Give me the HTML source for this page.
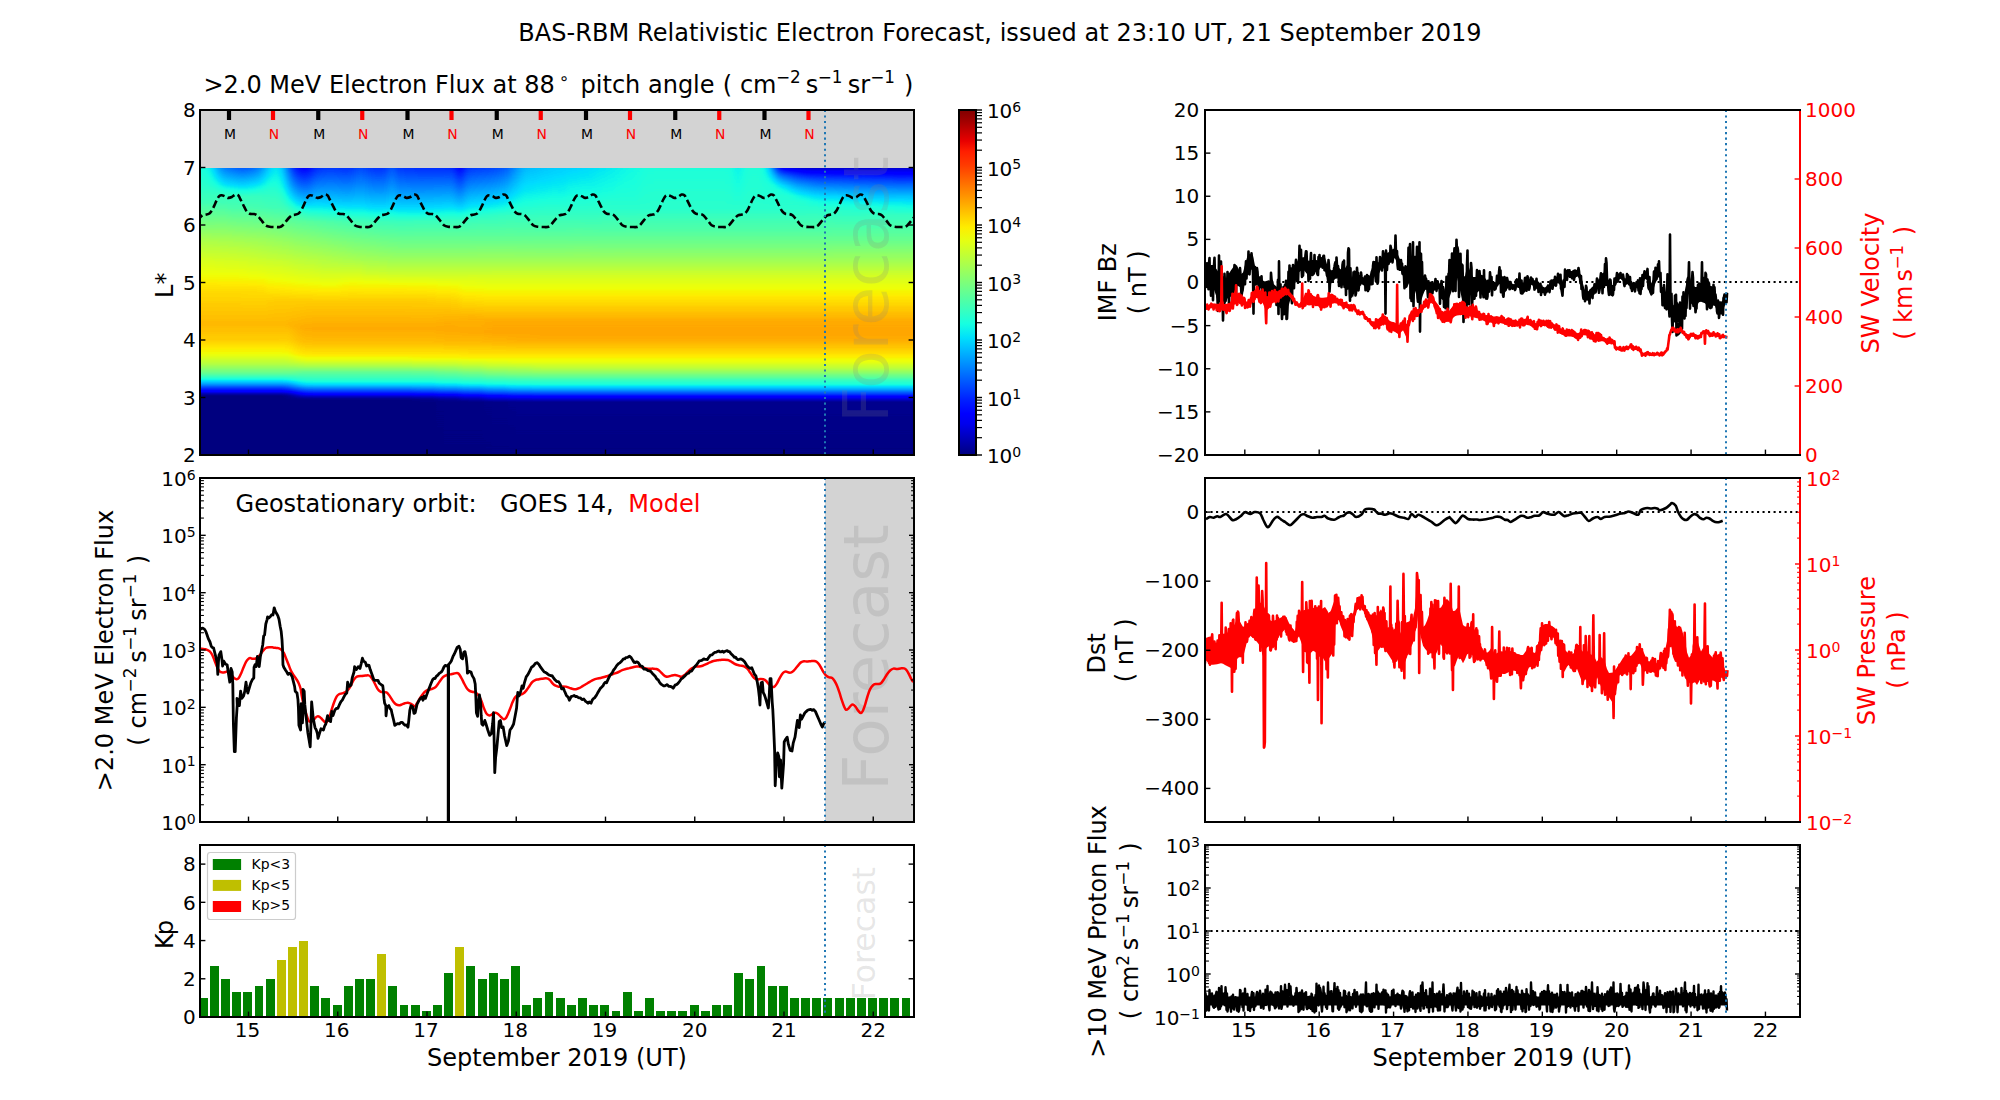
<!DOCTYPE html>
<html lang="en"><head><meta charset="utf-8"><title>BAS-RBM Relativistic Electron Forecast</title>
<style>html,body{margin:0;padding:0;background:#fff}body{width:2000px;height:1100px;overflow:hidden}svg{display:block}text{font-family:'DejaVu Sans', 'Liberation Sans', sans-serif}</style>
</head><body>
<svg width="2000" height="1100" viewBox="0 0 2000 1100">
<rect width="2000" height="1100" fill="#fff"/>
<text x="1000" y="41" font-size="24" text-anchor="middle" fill="#000" textLength="963.3">BAS-RBM Relativistic Electron Forecast, issued at 23:10 UT, 21 September 2019</text>
<rect x="200.0" y="110.0" width="714.0" height="345.0" fill="#d3d3d3"/>
<defs><filter id="jm" filterUnits="userSpaceOnUse" x="150" y="160" width="820" height="300" color-interpolation-filters="sRGB"><feGaussianBlur stdDeviation="3.5 0"/><feComponentTransfer><feFuncR type="table" tableValues="0 0 0 0 0 0 0 0 0 0 0 0 0 0 0 0 0 0 0 0 0 0 0 0 0 0 0 0 0 0 0 0 0 0 0 0 0.032 0.065 0.097 0.129 0.161 0.194 0.226 0.258 0.29 0.323 0.355 0.387 0.419 0.452 0.484 0.516 0.548 0.581 0.613 0.645 0.677 0.71 0.742 0.774 0.806 0.839 0.871 0.903 0.935 0.968 1 1 1 1 1 1 1 1 1 1 1 1 1 1 1 1 1 1 1 1 1 1 1 1 0.955 0.909 0.864 0.818 0.773 0.727 0.682 0.636 0.591 0.545 0.5"/><feFuncG type="table" tableValues="0 0 0 0 0 0 0 0 0 0 0 0 0 0.02 0.06 0.1 0.14 0.18 0.22 0.26 0.3 0.34 0.38 0.42 0.46 0.5 0.54 0.58 0.62 0.66 0.7 0.74 0.78 0.82 0.86 0.9 0.94 0.98 1 1 1 1 1 1 1 1 1 1 1 1 1 1 1 1 1 1 1 1 1 1 1 1 1 1 1 0.963 0.926 0.889 0.852 0.815 0.778 0.741 0.704 0.667 0.63 0.593 0.556 0.519 0.481 0.444 0.407 0.37 0.333 0.296 0.259 0.222 0.185 0.148 0.111 0.074 0.037 0 0 0 0 0 0 0 0 0 0"/><feFuncB type="table" tableValues="0.5 0.545 0.591 0.636 0.682 0.727 0.773 0.818 0.864 0.909 0.955 1 1 1 1 1 1 1 1 1 1 1 1 1 1 1 1 1 1 1 1 1 1 1 1 0.968 0.935 0.903 0.871 0.839 0.806 0.774 0.742 0.71 0.677 0.645 0.613 0.581 0.548 0.516 0.484 0.452 0.419 0.387 0.355 0.323 0.29 0.258 0.226 0.194 0.161 0.129 0.097 0.065 0.032 0 0 0 0 0 0 0 0 0 0 0 0 0 0 0 0 0 0 0 0 0 0 0 0 0 0 0 0 0 0 0 0 0 0 0 0"/></feComponentTransfer></filter><clipPath id="ca1"><rect x="200" y="168" width="714" height="287"/></clipPath></defs>
<g clip-path="url(#ca1)"><g filter="url(#jm)">
<linearGradient id="h1" x1="0" y1="0" x2="0" y2="1"><stop offset="0" stop-color="#616161"/><stop offset="0.25" stop-color="#686868"/><stop offset="0.375" stop-color="#6d6d6d"/><stop offset="0.583" stop-color="#7d7d7d"/><stop offset="0.771" stop-color="#8e8e8e"/><stop offset="1" stop-color="#9d9d9d"/></linearGradient>
<rect x="186" y="166" width="4.5" height="96" fill="url(#h1)"/>
<linearGradient id="h2" x1="0" y1="0" x2="0" y2="1"><stop offset="0" stop-color="#616161"/><stop offset="0.25" stop-color="#686868"/><stop offset="0.375" stop-color="#6d6d6d"/><stop offset="0.583" stop-color="#7d7d7d"/><stop offset="0.771" stop-color="#8e8e8e"/><stop offset="1" stop-color="#9d9d9d"/></linearGradient>
<rect x="190" y="166" width="4.5" height="96" fill="url(#h2)"/>
<linearGradient id="h3" x1="0" y1="0" x2="0" y2="1"><stop offset="0" stop-color="#616161"/><stop offset="0.25" stop-color="#686868"/><stop offset="0.375" stop-color="#6d6d6d"/><stop offset="0.583" stop-color="#7d7d7d"/><stop offset="0.771" stop-color="#8e8e8e"/><stop offset="1" stop-color="#9d9d9d"/></linearGradient>
<rect x="194" y="166" width="4.5" height="96" fill="url(#h3)"/>
<linearGradient id="h4" x1="0" y1="0" x2="0" y2="1"><stop offset="0" stop-color="#616161"/><stop offset="0.25" stop-color="#686868"/><stop offset="0.375" stop-color="#6d6d6d"/><stop offset="0.583" stop-color="#7d7d7d"/><stop offset="0.771" stop-color="#8e8e8e"/><stop offset="1" stop-color="#9d9d9d"/></linearGradient>
<rect x="198" y="166" width="4.5" height="96" fill="url(#h4)"/>
<linearGradient id="h5" x1="0" y1="0" x2="0" y2="1"><stop offset="0" stop-color="#606060"/><stop offset="0.375" stop-color="#6d6d6d"/><stop offset="0.583" stop-color="#7d7d7d"/><stop offset="0.771" stop-color="#8e8e8e"/><stop offset="1" stop-color="#9d9d9d"/></linearGradient>
<rect x="202" y="166" width="4.5" height="96" fill="url(#h5)"/>
<linearGradient id="h6" x1="0" y1="0" x2="0" y2="1"><stop offset="0" stop-color="#5f5f5f"/><stop offset="0.198" stop-color="#656565"/><stop offset="0.312" stop-color="#6b6b6b"/><stop offset="0.375" stop-color="#6d6d6d"/><stop offset="0.667" stop-color="#848484"/><stop offset="0.771" stop-color="#8e8e8e"/><stop offset="1" stop-color="#9d9d9d"/></linearGradient>
<rect x="206" y="166" width="4.5" height="96" fill="url(#h6)"/>
<linearGradient id="h7" x1="0" y1="0" x2="0" y2="1"><stop offset="0" stop-color="#595959"/><stop offset="0.021" stop-color="#595959"/><stop offset="0.25" stop-color="#686868"/><stop offset="0.375" stop-color="#6d6d6d"/><stop offset="0.667" stop-color="#848484"/><stop offset="0.771" stop-color="#8e8e8e"/><stop offset="1" stop-color="#9d9d9d"/></linearGradient>
<rect x="210" y="166" width="4.5" height="96" fill="url(#h7)"/>
<linearGradient id="h8" x1="0" y1="0" x2="0" y2="1"><stop offset="0" stop-color="#4f4f4f"/><stop offset="0.021" stop-color="#4f4f4f"/><stop offset="0.25" stop-color="#676767"/><stop offset="0.312" stop-color="#6b6b6b"/><stop offset="0.375" stop-color="#6d6d6d"/><stop offset="0.667" stop-color="#848484"/><stop offset="0.771" stop-color="#8e8e8e"/><stop offset="1" stop-color="#9c9c9c"/></linearGradient>
<rect x="214" y="166" width="4.5" height="96" fill="url(#h8)"/>
<linearGradient id="h9" x1="0" y1="0" x2="0" y2="1"><stop offset="0" stop-color="#454545"/><stop offset="0.021" stop-color="#454545"/><stop offset="0.25" stop-color="#656565"/><stop offset="0.312" stop-color="#6b6b6b"/><stop offset="0.375" stop-color="#6d6d6d"/><stop offset="0.875" stop-color="#959595"/><stop offset="1" stop-color="#9c9c9c"/></linearGradient>
<rect x="218" y="166" width="4.5" height="96" fill="url(#h9)"/>
<linearGradient id="h10" x1="0" y1="0" x2="0" y2="1"><stop offset="0" stop-color="#3f3f3f"/><stop offset="0.021" stop-color="#3f3f3f"/><stop offset="0.198" stop-color="#595959"/><stop offset="0.25" stop-color="#626262"/><stop offset="0.312" stop-color="#6b6b6b"/><stop offset="0.375" stop-color="#6d6d6d"/><stop offset="0.771" stop-color="#8d8d8d"/><stop offset="1" stop-color="#9c9c9c"/></linearGradient>
<rect x="222" y="166" width="4.5" height="96" fill="url(#h10)"/>
<linearGradient id="h11" x1="0" y1="0" x2="0" y2="1"><stop offset="0" stop-color="#3d3d3d"/><stop offset="0.021" stop-color="#3d3d3d"/><stop offset="0.198" stop-color="#585858"/><stop offset="0.25" stop-color="#626262"/><stop offset="0.312" stop-color="#6a6a6a"/><stop offset="0.438" stop-color="#717171"/><stop offset="0.771" stop-color="#8d8d8d"/><stop offset="1" stop-color="#9c9c9c"/></linearGradient>
<rect x="226" y="166" width="4.5" height="96" fill="url(#h11)"/>
<linearGradient id="h12" x1="0" y1="0" x2="0" y2="1"><stop offset="0" stop-color="#3b3b3b"/><stop offset="0.021" stop-color="#3b3b3b"/><stop offset="0.198" stop-color="#575757"/><stop offset="0.25" stop-color="#616161"/><stop offset="0.312" stop-color="#6a6a6a"/><stop offset="0.438" stop-color="#707070"/><stop offset="0.667" stop-color="#838383"/><stop offset="0.771" stop-color="#8d8d8d"/><stop offset="1" stop-color="#9c9c9c"/></linearGradient>
<rect x="230" y="166" width="4.5" height="96" fill="url(#h12)"/>
<linearGradient id="h13" x1="0" y1="0" x2="0" y2="1"><stop offset="0" stop-color="#393939"/><stop offset="0.021" stop-color="#393939"/><stop offset="0.198" stop-color="#565656"/><stop offset="0.25" stop-color="#606060"/><stop offset="0.312" stop-color="#6a6a6a"/><stop offset="0.438" stop-color="#707070"/><stop offset="0.875" stop-color="#949494"/><stop offset="1" stop-color="#9b9b9b"/></linearGradient>
<rect x="234" y="166" width="4.5" height="96" fill="url(#h13)"/>
<linearGradient id="h14" x1="0" y1="0" x2="0" y2="1"><stop offset="0" stop-color="#373737"/><stop offset="0.021" stop-color="#373737"/><stop offset="0.198" stop-color="#555555"/><stop offset="0.312" stop-color="#6a6a6a"/><stop offset="0.438" stop-color="#707070"/><stop offset="0.771" stop-color="#8c8c8c"/><stop offset="1" stop-color="#9b9b9b"/></linearGradient>
<rect x="238" y="166" width="4.5" height="96" fill="url(#h14)"/>
<linearGradient id="h15" x1="0" y1="0" x2="0" y2="1"><stop offset="0" stop-color="#363636"/><stop offset="0.021" stop-color="#363636"/><stop offset="0.146" stop-color="#4c4c4c"/><stop offset="0.198" stop-color="#545454"/><stop offset="0.312" stop-color="#6a6a6a"/><stop offset="0.375" stop-color="#6c6c6c"/><stop offset="0.583" stop-color="#7b7b7b"/><stop offset="0.771" stop-color="#8c8c8c"/><stop offset="1" stop-color="#9b9b9b"/></linearGradient>
<rect x="242" y="166" width="4.5" height="96" fill="url(#h15)"/>
<linearGradient id="h16" x1="0" y1="0" x2="0" y2="1"><stop offset="0" stop-color="#383838"/><stop offset="0.021" stop-color="#383838"/><stop offset="0.312" stop-color="#6a6a6a"/><stop offset="0.375" stop-color="#6c6c6c"/><stop offset="0.667" stop-color="#828282"/><stop offset="0.875" stop-color="#939393"/><stop offset="1" stop-color="#9b9b9b"/></linearGradient>
<rect x="246" y="166" width="4.5" height="96" fill="url(#h16)"/>
<linearGradient id="h17" x1="0" y1="0" x2="0" y2="1"><stop offset="0" stop-color="#3a3a3a"/><stop offset="0.021" stop-color="#3a3a3a"/><stop offset="0.312" stop-color="#6a6a6a"/><stop offset="0.438" stop-color="#6f6f6f"/><stop offset="0.771" stop-color="#8b8b8b"/><stop offset="1" stop-color="#9a9a9a"/></linearGradient>
<rect x="250" y="166" width="4.5" height="96" fill="url(#h17)"/>
<linearGradient id="h18" x1="0" y1="0" x2="0" y2="1"><stop offset="0" stop-color="#3c3c3c"/><stop offset="0.021" stop-color="#3c3c3c"/><stop offset="0.25" stop-color="#616161"/><stop offset="0.312" stop-color="#6a6a6a"/><stop offset="0.438" stop-color="#6f6f6f"/><stop offset="0.667" stop-color="#818181"/><stop offset="0.771" stop-color="#8b8b8b"/><stop offset="1" stop-color="#9a9a9a"/></linearGradient>
<rect x="254" y="166" width="4.5" height="96" fill="url(#h18)"/>
<linearGradient id="h19" x1="0" y1="0" x2="0" y2="1"><stop offset="0" stop-color="#414141"/><stop offset="0.021" stop-color="#414141"/><stop offset="0.198" stop-color="#5a5a5a"/><stop offset="0.25" stop-color="#636363"/><stop offset="0.312" stop-color="#6a6a6a"/><stop offset="0.438" stop-color="#6f6f6f"/><stop offset="0.771" stop-color="#8a8a8a"/><stop offset="1" stop-color="#9a9a9a"/></linearGradient>
<rect x="258" y="166" width="4.5" height="96" fill="url(#h19)"/>
<linearGradient id="h20" x1="0" y1="0" x2="0" y2="1"><stop offset="0" stop-color="#494949"/><stop offset="0.021" stop-color="#494949"/><stop offset="0.25" stop-color="#646464"/><stop offset="0.312" stop-color="#696969"/><stop offset="0.438" stop-color="#6f6f6f"/><stop offset="0.771" stop-color="#8a8a8a"/><stop offset="1" stop-color="#999999"/></linearGradient>
<rect x="262" y="166" width="4.5" height="96" fill="url(#h20)"/>
<linearGradient id="h21" x1="0" y1="0" x2="0" y2="1"><stop offset="0" stop-color="#525252"/><stop offset="0.021" stop-color="#525252"/><stop offset="0.25" stop-color="#666666"/><stop offset="0.438" stop-color="#6e6e6e"/><stop offset="0.771" stop-color="#898989"/><stop offset="1" stop-color="#999999"/></linearGradient>
<rect x="266" y="166" width="4.5" height="96" fill="url(#h21)"/>
<linearGradient id="h22" x1="0" y1="0" x2="0" y2="1"><stop offset="0" stop-color="#575757"/><stop offset="0.062" stop-color="#595959"/><stop offset="0.25" stop-color="#666666"/><stop offset="0.438" stop-color="#6e6e6e"/><stop offset="0.771" stop-color="#898989"/><stop offset="1" stop-color="#989898"/></linearGradient>
<rect x="270" y="166" width="4.5" height="96" fill="url(#h22)"/>
<linearGradient id="h23" x1="0" y1="0" x2="0" y2="1"><stop offset="0" stop-color="#5c5c5c"/><stop offset="0.198" stop-color="#636363"/><stop offset="0.312" stop-color="#696969"/><stop offset="0.438" stop-color="#6e6e6e"/><stop offset="0.583" stop-color="#787878"/><stop offset="0.771" stop-color="#888888"/><stop offset="1" stop-color="#989898"/></linearGradient>
<rect x="274" y="166" width="4.5" height="96" fill="url(#h23)"/>
<linearGradient id="h24" x1="0" y1="0" x2="0" y2="1"><stop offset="0" stop-color="#575757"/><stop offset="0.021" stop-color="#575757"/><stop offset="0.198" stop-color="#606060"/><stop offset="0.312" stop-color="#686868"/><stop offset="0.438" stop-color="#6d6d6d"/><stop offset="0.771" stop-color="#888888"/><stop offset="1" stop-color="#989898"/></linearGradient>
<rect x="278" y="166" width="4.5" height="96" fill="url(#h24)"/>
<linearGradient id="h25" x1="0" y1="0" x2="0" y2="1"><stop offset="0" stop-color="#4f4f4f"/><stop offset="0.021" stop-color="#4f4f4f"/><stop offset="0.667" stop-color="#7e7e7e"/><stop offset="0.771" stop-color="#878787"/><stop offset="1" stop-color="#979797"/></linearGradient>
<rect x="282" y="166" width="4.5" height="96" fill="url(#h25)"/>
<linearGradient id="h26" x1="0" y1="0" x2="0" y2="1"><stop offset="0" stop-color="#3c3c3c"/><stop offset="0.021" stop-color="#3c3c3c"/><stop offset="0.375" stop-color="#636363"/><stop offset="0.438" stop-color="#6b6b6b"/><stop offset="0.51" stop-color="#727272"/><stop offset="0.771" stop-color="#878787"/><stop offset="1" stop-color="#979797"/></linearGradient>
<rect x="286" y="166" width="4.5" height="96" fill="url(#h26)"/>
<linearGradient id="h27" x1="0" y1="0" x2="0" y2="1"><stop offset="0" stop-color="#2e2e2e"/><stop offset="0.021" stop-color="#2e2e2e"/><stop offset="0.198" stop-color="#444444"/><stop offset="0.51" stop-color="#717171"/><stop offset="0.771" stop-color="#868686"/><stop offset="1" stop-color="#969696"/></linearGradient>
<rect x="290" y="166" width="4.5" height="96" fill="url(#h27)"/>
<linearGradient id="h28" x1="0" y1="0" x2="0" y2="1"><stop offset="0" stop-color="#252525"/><stop offset="0.021" stop-color="#252525"/><stop offset="0.312" stop-color="#4e4e4e"/><stop offset="0.438" stop-color="#626262"/><stop offset="0.51" stop-color="#707070"/><stop offset="1" stop-color="#969696"/></linearGradient>
<rect x="294" y="166" width="4.5" height="96" fill="url(#h28)"/>
<linearGradient id="h29" x1="0" y1="0" x2="0" y2="1"><stop offset="0" stop-color="#1f1f1f"/><stop offset="0.021" stop-color="#1f1f1f"/><stop offset="0.375" stop-color="#535353"/><stop offset="0.51" stop-color="#6c6c6c"/><stop offset="0.583" stop-color="#767676"/><stop offset="0.771" stop-color="#858585"/><stop offset="1" stop-color="#959595"/></linearGradient>
<rect x="298" y="166" width="4.5" height="96" fill="url(#h29)"/>
<linearGradient id="h30" x1="0" y1="0" x2="0" y2="1"><stop offset="0" stop-color="#1f1f1f"/><stop offset="0.021" stop-color="#1f1f1f"/><stop offset="0.25" stop-color="#3f3f3f"/><stop offset="0.375" stop-color="#525252"/><stop offset="0.51" stop-color="#6b6b6b"/><stop offset="0.583" stop-color="#757575"/><stop offset="1" stop-color="#959595"/></linearGradient>
<rect x="302" y="166" width="4.5" height="96" fill="url(#h30)"/>
<linearGradient id="h31" x1="0" y1="0" x2="0" y2="1"><stop offset="0" stop-color="#1f1f1f"/><stop offset="0.021" stop-color="#1f1f1f"/><stop offset="0.375" stop-color="#515151"/><stop offset="0.438" stop-color="#5b5b5b"/><stop offset="0.51" stop-color="#696969"/><stop offset="0.583" stop-color="#757575"/><stop offset="0.771" stop-color="#848484"/><stop offset="1" stop-color="#949494"/></linearGradient>
<rect x="306" y="166" width="4.5" height="96" fill="url(#h31)"/>
<linearGradient id="h32" x1="0" y1="0" x2="0" y2="1"><stop offset="0" stop-color="#252525"/><stop offset="0.021" stop-color="#252525"/><stop offset="0.312" stop-color="#4a4a4a"/><stop offset="0.438" stop-color="#5c5c5c"/><stop offset="0.583" stop-color="#747474"/><stop offset="1" stop-color="#949494"/></linearGradient>
<rect x="310" y="166" width="4.5" height="96" fill="url(#h32)"/>
<linearGradient id="h33" x1="0" y1="0" x2="0" y2="1"><stop offset="0" stop-color="#2b2b2b"/><stop offset="0.021" stop-color="#2b2b2b"/><stop offset="0.438" stop-color="#5c5c5c"/><stop offset="0.583" stop-color="#747474"/><stop offset="0.771" stop-color="#838383"/><stop offset="1" stop-color="#949494"/></linearGradient>
<rect x="314" y="166" width="4.5" height="96" fill="url(#h33)"/>
<linearGradient id="h34" x1="0" y1="0" x2="0" y2="1"><stop offset="0" stop-color="#2c2c2c"/><stop offset="0.021" stop-color="#2c2c2c"/><stop offset="0.312" stop-color="#4c4c4c"/><stop offset="0.438" stop-color="#5c5c5c"/><stop offset="0.583" stop-color="#737373"/><stop offset="1" stop-color="#939393"/></linearGradient>
<rect x="318" y="166" width="4.5" height="96" fill="url(#h34)"/>
<linearGradient id="h35" x1="0" y1="0" x2="0" y2="1"><stop offset="0" stop-color="#2d2d2d"/><stop offset="0.021" stop-color="#2d2d2d"/><stop offset="0.312" stop-color="#4c4c4c"/><stop offset="0.438" stop-color="#5b5b5b"/><stop offset="0.583" stop-color="#727272"/><stop offset="0.771" stop-color="#828282"/><stop offset="1" stop-color="#939393"/></linearGradient>
<rect x="322" y="166" width="4.5" height="96" fill="url(#h35)"/>
<linearGradient id="h36" x1="0" y1="0" x2="0" y2="1"><stop offset="0" stop-color="#2e2e2e"/><stop offset="0.021" stop-color="#2e2e2e"/><stop offset="0.375" stop-color="#535353"/><stop offset="0.51" stop-color="#666666"/><stop offset="0.583" stop-color="#727272"/><stop offset="0.771" stop-color="#818181"/><stop offset="1" stop-color="#929292"/></linearGradient>
<rect x="326" y="166" width="4.5" height="96" fill="url(#h36)"/>
<linearGradient id="h37" x1="0" y1="0" x2="0" y2="1"><stop offset="0" stop-color="#2e2e2e"/><stop offset="0.021" stop-color="#2e2e2e"/><stop offset="0.438" stop-color="#5a5a5a"/><stop offset="0.583" stop-color="#717171"/><stop offset="1" stop-color="#929292"/></linearGradient>
<rect x="330" y="166" width="4.5" height="96" fill="url(#h37)"/>
<linearGradient id="h38" x1="0" y1="0" x2="0" y2="1"><stop offset="0" stop-color="#2d2d2d"/><stop offset="0.021" stop-color="#2d2d2d"/><stop offset="0.438" stop-color="#5a5a5a"/><stop offset="0.583" stop-color="#717171"/><stop offset="0.771" stop-color="#808080"/><stop offset="1" stop-color="#919191"/></linearGradient>
<rect x="334" y="166" width="4.5" height="96" fill="url(#h38)"/>
<linearGradient id="h39" x1="0" y1="0" x2="0" y2="1"><stop offset="0" stop-color="#2d2d2d"/><stop offset="0.021" stop-color="#2d2d2d"/><stop offset="0.375" stop-color="#525252"/><stop offset="0.51" stop-color="#646464"/><stop offset="0.583" stop-color="#707070"/><stop offset="1" stop-color="#919191"/></linearGradient>
<rect x="338" y="166" width="4.5" height="96" fill="url(#h39)"/>
<linearGradient id="h40" x1="0" y1="0" x2="0" y2="1"><stop offset="0" stop-color="#2c2c2c"/><stop offset="0.021" stop-color="#2c2c2c"/><stop offset="0.438" stop-color="#595959"/><stop offset="0.583" stop-color="#707070"/><stop offset="0.771" stop-color="#7f7f7f"/><stop offset="1" stop-color="#909090"/></linearGradient>
<rect x="342" y="166" width="4.5" height="96" fill="url(#h40)"/>
<linearGradient id="h41" x1="0" y1="0" x2="0" y2="1"><stop offset="0" stop-color="#2c2c2c"/><stop offset="0.021" stop-color="#2c2c2c"/><stop offset="0.375" stop-color="#515151"/><stop offset="0.583" stop-color="#6f6f6f"/><stop offset="1" stop-color="#909090"/></linearGradient>
<rect x="346" y="166" width="4.5" height="96" fill="url(#h41)"/>
<linearGradient id="h42" x1="0" y1="0" x2="0" y2="1"><stop offset="0" stop-color="#2d2d2d"/><stop offset="0.021" stop-color="#2d2d2d"/><stop offset="0.438" stop-color="#595959"/><stop offset="0.51" stop-color="#636363"/><stop offset="0.583" stop-color="#6f6f6f"/><stop offset="0.771" stop-color="#7e7e7e"/><stop offset="0.875" stop-color="#858585"/><stop offset="1" stop-color="#909090"/></linearGradient>
<rect x="350" y="166" width="4.5" height="96" fill="url(#h42)"/>
<linearGradient id="h43" x1="0" y1="0" x2="0" y2="1"><stop offset="0" stop-color="#303030"/><stop offset="0.021" stop-color="#303030"/><stop offset="0.312" stop-color="#4c4c4c"/><stop offset="0.438" stop-color="#595959"/><stop offset="0.583" stop-color="#6e6e6e"/><stop offset="1" stop-color="#8f8f8f"/></linearGradient>
<rect x="354" y="166" width="4.5" height="96" fill="url(#h43)"/>
<linearGradient id="h44" x1="0" y1="0" x2="0" y2="1"><stop offset="0" stop-color="#333333"/><stop offset="0.021" stop-color="#333333"/><stop offset="0.375" stop-color="#535353"/><stop offset="0.438" stop-color="#5a5a5a"/><stop offset="0.583" stop-color="#6e6e6e"/><stop offset="0.771" stop-color="#7d7d7d"/><stop offset="0.875" stop-color="#848484"/><stop offset="1" stop-color="#8f8f8f"/></linearGradient>
<rect x="358" y="166" width="4.5" height="96" fill="url(#h44)"/>
<linearGradient id="h45" x1="0" y1="0" x2="0" y2="1"><stop offset="0" stop-color="#313131"/><stop offset="0.021" stop-color="#313131"/><stop offset="0.375" stop-color="#525252"/><stop offset="0.438" stop-color="#595959"/><stop offset="0.583" stop-color="#6e6e6e"/><stop offset="1" stop-color="#8e8e8e"/></linearGradient>
<rect x="362" y="166" width="4.5" height="96" fill="url(#h45)"/>
<linearGradient id="h46" x1="0" y1="0" x2="0" y2="1"><stop offset="0" stop-color="#2f2f2f"/><stop offset="0.021" stop-color="#2f2f2f"/><stop offset="0.312" stop-color="#4b4b4b"/><stop offset="0.438" stop-color="#585858"/><stop offset="0.583" stop-color="#6d6d6d"/><stop offset="1" stop-color="#8e8e8e"/></linearGradient>
<rect x="366" y="166" width="4.5" height="96" fill="url(#h46)"/>
<linearGradient id="h47" x1="0" y1="0" x2="0" y2="1"><stop offset="0" stop-color="#2d2d2d"/><stop offset="0.021" stop-color="#2d2d2d"/><stop offset="0.438" stop-color="#575757"/><stop offset="0.583" stop-color="#6d6d6d"/><stop offset="0.771" stop-color="#7c7c7c"/><stop offset="0.875" stop-color="#838383"/><stop offset="1" stop-color="#8e8e8e"/></linearGradient>
<rect x="370" y="166" width="4.5" height="96" fill="url(#h47)"/>
<linearGradient id="h48" x1="0" y1="0" x2="0" y2="1"><stop offset="0" stop-color="#2c2c2c"/><stop offset="0.021" stop-color="#2c2c2c"/><stop offset="0.438" stop-color="#575757"/><stop offset="0.51" stop-color="#616161"/><stop offset="0.583" stop-color="#6d6d6d"/><stop offset="1" stop-color="#8d8d8d"/></linearGradient>
<rect x="374" y="166" width="4.5" height="96" fill="url(#h48)"/>
<linearGradient id="h49" x1="0" y1="0" x2="0" y2="1"><stop offset="0" stop-color="#2c2c2c"/><stop offset="0.021" stop-color="#2c2c2c"/><stop offset="0.438" stop-color="#575757"/><stop offset="0.583" stop-color="#6c6c6c"/><stop offset="1" stop-color="#8d8d8d"/></linearGradient>
<rect x="378" y="166" width="4.5" height="96" fill="url(#h49)"/>
<linearGradient id="h50" x1="0" y1="0" x2="0" y2="1"><stop offset="0" stop-color="#2d2d2d"/><stop offset="0.021" stop-color="#2d2d2d"/><stop offset="0.438" stop-color="#575757"/><stop offset="0.583" stop-color="#6c6c6c"/><stop offset="0.771" stop-color="#7b7b7b"/><stop offset="0.875" stop-color="#828282"/><stop offset="1" stop-color="#8d8d8d"/></linearGradient>
<rect x="382" y="166" width="4.5" height="96" fill="url(#h50)"/>
<linearGradient id="h51" x1="0" y1="0" x2="0" y2="1"><stop offset="0" stop-color="#2e2e2e"/><stop offset="0.021" stop-color="#2e2e2e"/><stop offset="0.25" stop-color="#434343"/><stop offset="0.438" stop-color="#575757"/><stop offset="0.583" stop-color="#6c6c6c"/><stop offset="0.875" stop-color="#828282"/><stop offset="1" stop-color="#8d8d8d"/></linearGradient>
<rect x="386" y="166" width="4.5" height="96" fill="url(#h51)"/>
<linearGradient id="h52" x1="0" y1="0" x2="0" y2="1"><stop offset="0" stop-color="#3c3c3c"/><stop offset="0.021" stop-color="#3c3c3c"/><stop offset="0.438" stop-color="#5a5a5a"/><stop offset="0.583" stop-color="#6c6c6c"/><stop offset="1" stop-color="#8c8c8c"/></linearGradient>
<rect x="390" y="166" width="4.5" height="96" fill="url(#h52)"/>
<linearGradient id="h53" x1="0" y1="0" x2="0" y2="1"><stop offset="0" stop-color="#2e2e2e"/><stop offset="0.021" stop-color="#2e2e2e"/><stop offset="0.25" stop-color="#434343"/><stop offset="0.438" stop-color="#565656"/><stop offset="0.51" stop-color="#606060"/><stop offset="0.583" stop-color="#6c6c6c"/><stop offset="0.875" stop-color="#818181"/><stop offset="1" stop-color="#8c8c8c"/></linearGradient>
<rect x="394" y="166" width="4.5" height="96" fill="url(#h53)"/>
<linearGradient id="h54" x1="0" y1="0" x2="0" y2="1"><stop offset="0" stop-color="#2d2d2d"/><stop offset="0.021" stop-color="#2d2d2d"/><stop offset="0.438" stop-color="#565656"/><stop offset="0.583" stop-color="#6b6b6b"/><stop offset="0.771" stop-color="#7a7a7a"/><stop offset="0.875" stop-color="#818181"/><stop offset="1" stop-color="#8c8c8c"/></linearGradient>
<rect x="398" y="166" width="4.5" height="96" fill="url(#h54)"/>
<linearGradient id="h55" x1="0" y1="0" x2="0" y2="1"><stop offset="0" stop-color="#2d2d2d"/><stop offset="0.021" stop-color="#2d2d2d"/><stop offset="0.312" stop-color="#494949"/><stop offset="0.438" stop-color="#565656"/><stop offset="0.583" stop-color="#6b6b6b"/><stop offset="0.875" stop-color="#818181"/><stop offset="1" stop-color="#8c8c8c"/></linearGradient>
<rect x="402" y="166" width="4.5" height="96" fill="url(#h55)"/>
<linearGradient id="h56" x1="0" y1="0" x2="0" y2="1"><stop offset="0" stop-color="#2d2d2d"/><stop offset="0.021" stop-color="#2d2d2d"/><stop offset="0.312" stop-color="#494949"/><stop offset="0.438" stop-color="#565656"/><stop offset="0.51" stop-color="#606060"/><stop offset="0.583" stop-color="#6c6c6c"/><stop offset="0.875" stop-color="#818181"/><stop offset="1" stop-color="#8c8c8c"/></linearGradient>
<rect x="406" y="166" width="4.5" height="96" fill="url(#h56)"/>
<linearGradient id="h57" x1="0" y1="0" x2="0" y2="1"><stop offset="0" stop-color="#2c2c2c"/><stop offset="0.021" stop-color="#2c2c2c"/><stop offset="0.438" stop-color="#565656"/><stop offset="0.51" stop-color="#606060"/><stop offset="0.583" stop-color="#6c6c6c"/><stop offset="0.875" stop-color="#818181"/><stop offset="1" stop-color="#8c8c8c"/></linearGradient>
<rect x="410" y="166" width="4.5" height="96" fill="url(#h57)"/>
<linearGradient id="h58" x1="0" y1="0" x2="0" y2="1"><stop offset="0" stop-color="#2c2c2c"/><stop offset="0.021" stop-color="#2c2c2c"/><stop offset="0.438" stop-color="#565656"/><stop offset="0.51" stop-color="#606060"/><stop offset="0.583" stop-color="#6c6c6c"/><stop offset="0.875" stop-color="#818181"/><stop offset="1" stop-color="#8c8c8c"/></linearGradient>
<rect x="414" y="166" width="4.5" height="96" fill="url(#h58)"/>
<linearGradient id="h59" x1="0" y1="0" x2="0" y2="1"><stop offset="0" stop-color="#2b2b2b"/><stop offset="0.021" stop-color="#2b2b2b"/><stop offset="0.438" stop-color="#565656"/><stop offset="0.51" stop-color="#606060"/><stop offset="0.583" stop-color="#6c6c6c"/><stop offset="0.875" stop-color="#818181"/><stop offset="1" stop-color="#8c8c8c"/></linearGradient>
<rect x="418" y="166" width="4.5" height="96" fill="url(#h59)"/>
<linearGradient id="h60" x1="0" y1="0" x2="0" y2="1"><stop offset="0" stop-color="#2b2b2b"/><stop offset="0.021" stop-color="#2b2b2b"/><stop offset="0.438" stop-color="#565656"/><stop offset="0.583" stop-color="#6c6c6c"/><stop offset="0.875" stop-color="#818181"/><stop offset="1" stop-color="#8c8c8c"/></linearGradient>
<rect x="422" y="166" width="4.5" height="96" fill="url(#h60)"/>
<linearGradient id="h61" x1="0" y1="0" x2="0" y2="1"><stop offset="0" stop-color="#2b2b2b"/><stop offset="0.021" stop-color="#2b2b2b"/><stop offset="0.438" stop-color="#575757"/><stop offset="0.583" stop-color="#6c6c6c"/><stop offset="0.875" stop-color="#818181"/><stop offset="1" stop-color="#8c8c8c"/></linearGradient>
<rect x="426" y="166" width="4.5" height="96" fill="url(#h61)"/>
<linearGradient id="h62" x1="0" y1="0" x2="0" y2="1"><stop offset="0" stop-color="#2b2b2b"/><stop offset="0.021" stop-color="#2b2b2b"/><stop offset="0.438" stop-color="#575757"/><stop offset="0.583" stop-color="#6c6c6c"/><stop offset="0.875" stop-color="#818181"/><stop offset="1" stop-color="#8c8c8c"/></linearGradient>
<rect x="430" y="166" width="4.5" height="96" fill="url(#h62)"/>
<linearGradient id="h63" x1="0" y1="0" x2="0" y2="1"><stop offset="0" stop-color="#2b2b2b"/><stop offset="0.021" stop-color="#2b2b2b"/><stop offset="0.438" stop-color="#575757"/><stop offset="0.583" stop-color="#6c6c6c"/><stop offset="0.875" stop-color="#818181"/><stop offset="1" stop-color="#8c8c8c"/></linearGradient>
<rect x="434" y="166" width="4.5" height="96" fill="url(#h63)"/>
<linearGradient id="h64" x1="0" y1="0" x2="0" y2="1"><stop offset="0" stop-color="#2b2b2b"/><stop offset="0.021" stop-color="#2b2b2b"/><stop offset="0.438" stop-color="#575757"/><stop offset="0.583" stop-color="#6c6c6c"/><stop offset="0.875" stop-color="#818181"/><stop offset="1" stop-color="#8c8c8c"/></linearGradient>
<rect x="438" y="166" width="4.5" height="96" fill="url(#h64)"/>
<linearGradient id="h65" x1="0" y1="0" x2="0" y2="1"><stop offset="0" stop-color="#2b2b2b"/><stop offset="0.021" stop-color="#2b2b2b"/><stop offset="0.438" stop-color="#585858"/><stop offset="0.583" stop-color="#6c6c6c"/><stop offset="0.875" stop-color="#818181"/><stop offset="1" stop-color="#8c8c8c"/></linearGradient>
<rect x="442" y="166" width="4.5" height="96" fill="url(#h65)"/>
<linearGradient id="h66" x1="0" y1="0" x2="0" y2="1"><stop offset="0" stop-color="#2b2b2b"/><stop offset="0.021" stop-color="#2b2b2b"/><stop offset="0.438" stop-color="#585858"/><stop offset="0.51" stop-color="#636363"/><stop offset="0.583" stop-color="#6c6c6c"/><stop offset="0.875" stop-color="#818181"/><stop offset="1" stop-color="#8c8c8c"/></linearGradient>
<rect x="446" y="166" width="4.5" height="96" fill="url(#h66)"/>
<linearGradient id="h67" x1="0" y1="0" x2="0" y2="1"><stop offset="0" stop-color="#2b2b2b"/><stop offset="0.021" stop-color="#2b2b2b"/><stop offset="0.438" stop-color="#585858"/><stop offset="0.51" stop-color="#636363"/><stop offset="0.583" stop-color="#6c6c6c"/><stop offset="0.875" stop-color="#818181"/><stop offset="1" stop-color="#8c8c8c"/></linearGradient>
<rect x="450" y="166" width="4.5" height="96" fill="url(#h67)"/>
<linearGradient id="h68" x1="0" y1="0" x2="0" y2="1"><stop offset="0" stop-color="#292929"/><stop offset="0.021" stop-color="#292929"/><stop offset="0.375" stop-color="#505050"/><stop offset="0.51" stop-color="#636363"/><stop offset="0.583" stop-color="#6c6c6c"/><stop offset="0.875" stop-color="#818181"/><stop offset="1" stop-color="#8c8c8c"/></linearGradient>
<rect x="454" y="166" width="4.5" height="96" fill="url(#h68)"/>
<linearGradient id="h69" x1="0" y1="0" x2="0" y2="1"><stop offset="0" stop-color="#161616"/><stop offset="0.021" stop-color="#161616"/><stop offset="0.312" stop-color="#404040"/><stop offset="0.438" stop-color="#535353"/><stop offset="0.51" stop-color="#616161"/><stop offset="0.583" stop-color="#6c6c6c"/><stop offset="0.875" stop-color="#818181"/><stop offset="1" stop-color="#8c8c8c"/></linearGradient>
<rect x="458" y="166" width="4.5" height="96" fill="url(#h69)"/>
<linearGradient id="h70" x1="0" y1="0" x2="0" y2="1"><stop offset="0" stop-color="#2a2a2a"/><stop offset="0.021" stop-color="#2a2a2a"/><stop offset="0.438" stop-color="#585858"/><stop offset="0.51" stop-color="#636363"/><stop offset="0.583" stop-color="#6c6c6c"/><stop offset="0.875" stop-color="#818181"/><stop offset="1" stop-color="#8c8c8c"/></linearGradient>
<rect x="462" y="166" width="4.5" height="96" fill="url(#h70)"/>
<linearGradient id="h71" x1="0" y1="0" x2="0" y2="1"><stop offset="0" stop-color="#2d2d2d"/><stop offset="0.021" stop-color="#2d2d2d"/><stop offset="0.438" stop-color="#5a5a5a"/><stop offset="0.51" stop-color="#656565"/><stop offset="0.583" stop-color="#6c6c6c"/><stop offset="0.875" stop-color="#818181"/><stop offset="1" stop-color="#8c8c8c"/></linearGradient>
<rect x="466" y="166" width="4.5" height="96" fill="url(#h71)"/>
<linearGradient id="h72" x1="0" y1="0" x2="0" y2="1"><stop offset="0" stop-color="#2e2e2e"/><stop offset="0.021" stop-color="#2e2e2e"/><stop offset="0.438" stop-color="#5b5b5b"/><stop offset="0.51" stop-color="#656565"/><stop offset="0.583" stop-color="#6d6d6d"/><stop offset="0.771" stop-color="#797979"/><stop offset="1" stop-color="#8c8c8c"/></linearGradient>
<rect x="470" y="166" width="4.5" height="96" fill="url(#h72)"/>
<linearGradient id="h73" x1="0" y1="0" x2="0" y2="1"><stop offset="0" stop-color="#2f2f2f"/><stop offset="0.021" stop-color="#2f2f2f"/><stop offset="0.438" stop-color="#5b5b5b"/><stop offset="0.51" stop-color="#666666"/><stop offset="0.583" stop-color="#6d6d6d"/><stop offset="0.771" stop-color="#797979"/><stop offset="1" stop-color="#8c8c8c"/></linearGradient>
<rect x="474" y="166" width="4.5" height="96" fill="url(#h73)"/>
<linearGradient id="h74" x1="0" y1="0" x2="0" y2="1"><stop offset="0" stop-color="#2f2f2f"/><stop offset="0.021" stop-color="#2f2f2f"/><stop offset="0.438" stop-color="#5c5c5c"/><stop offset="0.51" stop-color="#666666"/><stop offset="0.583" stop-color="#6d6d6d"/><stop offset="0.771" stop-color="#797979"/><stop offset="1" stop-color="#8c8c8c"/></linearGradient>
<rect x="478" y="166" width="4.5" height="96" fill="url(#h74)"/>
<linearGradient id="h75" x1="0" y1="0" x2="0" y2="1"><stop offset="0" stop-color="#303030"/><stop offset="0.021" stop-color="#303030"/><stop offset="0.438" stop-color="#5c5c5c"/><stop offset="0.51" stop-color="#676767"/><stop offset="0.583" stop-color="#6d6d6d"/><stop offset="0.771" stop-color="#797979"/><stop offset="1" stop-color="#8c8c8c"/></linearGradient>
<rect x="482" y="166" width="4.5" height="96" fill="url(#h75)"/>
<linearGradient id="h76" x1="0" y1="0" x2="0" y2="1"><stop offset="0" stop-color="#303030"/><stop offset="0.021" stop-color="#303030"/><stop offset="0.438" stop-color="#5d5d5d"/><stop offset="0.51" stop-color="#676767"/><stop offset="0.583" stop-color="#6d6d6d"/><stop offset="0.771" stop-color="#797979"/><stop offset="1" stop-color="#8c8c8c"/></linearGradient>
<rect x="486" y="166" width="4.5" height="96" fill="url(#h76)"/>
<linearGradient id="h77" x1="0" y1="0" x2="0" y2="1"><stop offset="0" stop-color="#313131"/><stop offset="0.021" stop-color="#313131"/><stop offset="0.438" stop-color="#5d5d5d"/><stop offset="0.51" stop-color="#686868"/><stop offset="0.771" stop-color="#797979"/><stop offset="1" stop-color="#8c8c8c"/></linearGradient>
<rect x="490" y="166" width="4.5" height="96" fill="url(#h77)"/>
<linearGradient id="h78" x1="0" y1="0" x2="0" y2="1"><stop offset="0" stop-color="#323232"/><stop offset="0.021" stop-color="#323232"/><stop offset="0.438" stop-color="#5e5e5e"/><stop offset="0.51" stop-color="#686868"/><stop offset="0.771" stop-color="#797979"/><stop offset="1" stop-color="#8c8c8c"/></linearGradient>
<rect x="494" y="166" width="4.5" height="96" fill="url(#h78)"/>
<linearGradient id="h79" x1="0" y1="0" x2="0" y2="1"><stop offset="0" stop-color="#343434"/><stop offset="0.021" stop-color="#343434"/><stop offset="0.438" stop-color="#5f5f5f"/><stop offset="0.51" stop-color="#696969"/><stop offset="0.771" stop-color="#797979"/><stop offset="1" stop-color="#8c8c8c"/></linearGradient>
<rect x="498" y="166" width="4.5" height="96" fill="url(#h79)"/>
<linearGradient id="h80" x1="0" y1="0" x2="0" y2="1"><stop offset="0" stop-color="#353535"/><stop offset="0.021" stop-color="#353535"/><stop offset="0.438" stop-color="#5f5f5f"/><stop offset="0.51" stop-color="#696969"/><stop offset="0.771" stop-color="#797979"/><stop offset="1" stop-color="#8c8c8c"/></linearGradient>
<rect x="502" y="166" width="4.5" height="96" fill="url(#h80)"/>
<linearGradient id="h81" x1="0" y1="0" x2="0" y2="1"><stop offset="0" stop-color="#393939"/><stop offset="0.021" stop-color="#393939"/><stop offset="0.375" stop-color="#5a5a5a"/><stop offset="0.51" stop-color="#696969"/><stop offset="0.771" stop-color="#797979"/><stop offset="1" stop-color="#8c8c8c"/></linearGradient>
<rect x="506" y="166" width="4.5" height="96" fill="url(#h81)"/>
<linearGradient id="h82" x1="0" y1="0" x2="0" y2="1"><stop offset="0" stop-color="#3e3e3e"/><stop offset="0.021" stop-color="#3e3e3e"/><stop offset="0.51" stop-color="#696969"/><stop offset="0.771" stop-color="#797979"/><stop offset="1" stop-color="#8c8c8c"/></linearGradient>
<rect x="510" y="166" width="4.5" height="96" fill="url(#h82)"/>
<linearGradient id="h83" x1="0" y1="0" x2="0" y2="1"><stop offset="0" stop-color="#444444"/><stop offset="0.021" stop-color="#444444"/><stop offset="0.51" stop-color="#696969"/><stop offset="0.771" stop-color="#797979"/><stop offset="1" stop-color="#8c8c8c"/></linearGradient>
<rect x="514" y="166" width="4.5" height="96" fill="url(#h83)"/>
<linearGradient id="h84" x1="0" y1="0" x2="0" y2="1"><stop offset="0" stop-color="#494949"/><stop offset="0.062" stop-color="#4b4b4b"/><stop offset="0.25" stop-color="#565656"/><stop offset="0.51" stop-color="#696969"/><stop offset="0.771" stop-color="#797979"/><stop offset="1" stop-color="#8c8c8c"/></linearGradient>
<rect x="518" y="166" width="4.5" height="96" fill="url(#h84)"/>
<linearGradient id="h85" x1="0" y1="0" x2="0" y2="1"><stop offset="0" stop-color="#4d4d4d"/><stop offset="0.667" stop-color="#727272"/><stop offset="0.875" stop-color="#818181"/><stop offset="1" stop-color="#8c8c8c"/></linearGradient>
<rect x="522" y="166" width="4.5" height="96" fill="url(#h85)"/>
<linearGradient id="h86" x1="0" y1="0" x2="0" y2="1"><stop offset="0" stop-color="#4e4e4e"/><stop offset="0.25" stop-color="#595959"/><stop offset="0.771" stop-color="#797979"/><stop offset="1" stop-color="#8c8c8c"/></linearGradient>
<rect x="526" y="166" width="4.5" height="96" fill="url(#h86)"/>
<linearGradient id="h87" x1="0" y1="0" x2="0" y2="1"><stop offset="0" stop-color="#4f4f4f"/><stop offset="0.25" stop-color="#5a5a5a"/><stop offset="0.771" stop-color="#797979"/><stop offset="1" stop-color="#8c8c8c"/></linearGradient>
<rect x="530" y="166" width="4.5" height="96" fill="url(#h87)"/>
<linearGradient id="h88" x1="0" y1="0" x2="0" y2="1"><stop offset="0" stop-color="#505050"/><stop offset="0.146" stop-color="#555555"/><stop offset="0.667" stop-color="#727272"/><stop offset="0.875" stop-color="#818181"/><stop offset="1" stop-color="#8c8c8c"/></linearGradient>
<rect x="534" y="166" width="4.5" height="96" fill="url(#h88)"/>
<linearGradient id="h89" x1="0" y1="0" x2="0" y2="1"><stop offset="0" stop-color="#505050"/><stop offset="0.312" stop-color="#5e5e5e"/><stop offset="0.438" stop-color="#666666"/><stop offset="0.667" stop-color="#727272"/><stop offset="0.875" stop-color="#818181"/><stop offset="1" stop-color="#8c8c8c"/></linearGradient>
<rect x="538" y="166" width="4.5" height="96" fill="url(#h89)"/>
<linearGradient id="h90" x1="0" y1="0" x2="0" y2="1"><stop offset="0" stop-color="#515151"/><stop offset="0.25" stop-color="#5b5b5b"/><stop offset="0.438" stop-color="#666666"/><stop offset="0.667" stop-color="#727272"/><stop offset="0.875" stop-color="#818181"/><stop offset="1" stop-color="#8c8c8c"/></linearGradient>
<rect x="542" y="166" width="4.5" height="96" fill="url(#h90)"/>
<linearGradient id="h91" x1="0" y1="0" x2="0" y2="1"><stop offset="0" stop-color="#525252"/><stop offset="0.198" stop-color="#595959"/><stop offset="0.667" stop-color="#727272"/><stop offset="0.875" stop-color="#818181"/><stop offset="1" stop-color="#8c8c8c"/></linearGradient>
<rect x="546" y="166" width="4.5" height="96" fill="url(#h91)"/>
<linearGradient id="h92" x1="0" y1="0" x2="0" y2="1"><stop offset="0" stop-color="#525252"/><stop offset="0.146" stop-color="#575757"/><stop offset="0.667" stop-color="#727272"/><stop offset="0.875" stop-color="#818181"/><stop offset="1" stop-color="#8c8c8c"/></linearGradient>
<rect x="550" y="166" width="4.5" height="96" fill="url(#h92)"/>
<linearGradient id="h93" x1="0" y1="0" x2="0" y2="1"><stop offset="0" stop-color="#535353"/><stop offset="0.312" stop-color="#5f5f5f"/><stop offset="0.667" stop-color="#727272"/><stop offset="0.875" stop-color="#818181"/><stop offset="1" stop-color="#8c8c8c"/></linearGradient>
<rect x="554" y="166" width="4.5" height="96" fill="url(#h93)"/>
<linearGradient id="h94" x1="0" y1="0" x2="0" y2="1"><stop offset="0" stop-color="#535353"/><stop offset="0.25" stop-color="#5c5c5c"/><stop offset="0.667" stop-color="#727272"/><stop offset="0.875" stop-color="#818181"/><stop offset="1" stop-color="#8c8c8c"/></linearGradient>
<rect x="558" y="166" width="4.5" height="96" fill="url(#h94)"/>
<linearGradient id="h95" x1="0" y1="0" x2="0" y2="1"><stop offset="0" stop-color="#535353"/><stop offset="0.25" stop-color="#5c5c5c"/><stop offset="0.667" stop-color="#727272"/><stop offset="0.875" stop-color="#818181"/><stop offset="1" stop-color="#8c8c8c"/></linearGradient>
<rect x="562" y="166" width="4.5" height="96" fill="url(#h95)"/>
<linearGradient id="h96" x1="0" y1="0" x2="0" y2="1"><stop offset="0" stop-color="#545454"/><stop offset="0.51" stop-color="#696969"/><stop offset="0.771" stop-color="#797979"/><stop offset="1" stop-color="#8c8c8c"/></linearGradient>
<rect x="566" y="166" width="4.5" height="96" fill="url(#h96)"/>
<linearGradient id="h97" x1="0" y1="0" x2="0" y2="1"><stop offset="0" stop-color="#545454"/><stop offset="0.51" stop-color="#696969"/><stop offset="0.771" stop-color="#797979"/><stop offset="1" stop-color="#8c8c8c"/></linearGradient>
<rect x="570" y="166" width="4.5" height="96" fill="url(#h97)"/>
<linearGradient id="h98" x1="0" y1="0" x2="0" y2="1"><stop offset="0" stop-color="#545454"/><stop offset="0.51" stop-color="#696969"/><stop offset="0.771" stop-color="#797979"/><stop offset="1" stop-color="#8c8c8c"/></linearGradient>
<rect x="574" y="166" width="4.5" height="96" fill="url(#h98)"/>
<linearGradient id="h99" x1="0" y1="0" x2="0" y2="1"><stop offset="0" stop-color="#555555"/><stop offset="0.51" stop-color="#696969"/><stop offset="0.771" stop-color="#797979"/><stop offset="1" stop-color="#8c8c8c"/></linearGradient>
<rect x="578" y="166" width="4.5" height="96" fill="url(#h99)"/>
<linearGradient id="h100" x1="0" y1="0" x2="0" y2="1"><stop offset="0" stop-color="#565656"/><stop offset="0.51" stop-color="#696969"/><stop offset="0.771" stop-color="#797979"/><stop offset="1" stop-color="#8c8c8c"/></linearGradient>
<rect x="582" y="166" width="4.5" height="96" fill="url(#h100)"/>
<linearGradient id="h101" x1="0" y1="0" x2="0" y2="1"><stop offset="0" stop-color="#575757"/><stop offset="0.104" stop-color="#595959"/><stop offset="0.51" stop-color="#696969"/><stop offset="0.771" stop-color="#797979"/><stop offset="1" stop-color="#8c8c8c"/></linearGradient>
<rect x="586" y="166" width="4.5" height="96" fill="url(#h101)"/>
<linearGradient id="h102" x1="0" y1="0" x2="0" y2="1"><stop offset="0" stop-color="#575757"/><stop offset="0.312" stop-color="#616161"/><stop offset="0.583" stop-color="#6d6d6d"/><stop offset="0.771" stop-color="#797979"/><stop offset="1" stop-color="#8c8c8c"/></linearGradient>
<rect x="590" y="166" width="4.5" height="96" fill="url(#h102)"/>
<linearGradient id="h103" x1="0" y1="0" x2="0" y2="1"><stop offset="0" stop-color="#585858"/><stop offset="0.25" stop-color="#5f5f5f"/><stop offset="0.51" stop-color="#696969"/><stop offset="0.771" stop-color="#797979"/><stop offset="1" stop-color="#8c8c8c"/></linearGradient>
<rect x="594" y="166" width="4.5" height="96" fill="url(#h103)"/>
<linearGradient id="h104" x1="0" y1="0" x2="0" y2="1"><stop offset="0" stop-color="#595959"/><stop offset="0.25" stop-color="#5f5f5f"/><stop offset="0.375" stop-color="#656565"/><stop offset="0.438" stop-color="#666666"/><stop offset="0.667" stop-color="#727272"/><stop offset="0.875" stop-color="#818181"/><stop offset="1" stop-color="#8c8c8c"/></linearGradient>
<rect x="598" y="166" width="4.5" height="96" fill="url(#h104)"/>
<linearGradient id="h105" x1="0" y1="0" x2="0" y2="1"><stop offset="0" stop-color="#595959"/><stop offset="0.312" stop-color="#626262"/><stop offset="0.375" stop-color="#656565"/><stop offset="0.438" stop-color="#666666"/><stop offset="0.667" stop-color="#727272"/><stop offset="0.875" stop-color="#818181"/><stop offset="1" stop-color="#8c8c8c"/></linearGradient>
<rect x="602" y="166" width="4.5" height="96" fill="url(#h105)"/>
<linearGradient id="h106" x1="0" y1="0" x2="0" y2="1"><stop offset="0" stop-color="#5a5a5a"/><stop offset="0.25" stop-color="#606060"/><stop offset="0.375" stop-color="#656565"/><stop offset="0.438" stop-color="#666666"/><stop offset="0.667" stop-color="#727272"/><stop offset="0.875" stop-color="#818181"/><stop offset="1" stop-color="#8c8c8c"/></linearGradient>
<rect x="606" y="166" width="4.5" height="96" fill="url(#h106)"/>
<linearGradient id="h107" x1="0" y1="0" x2="0" y2="1"><stop offset="0" stop-color="#5b5b5b"/><stop offset="0.25" stop-color="#606060"/><stop offset="0.375" stop-color="#656565"/><stop offset="0.438" stop-color="#666666"/><stop offset="0.667" stop-color="#727272"/><stop offset="0.875" stop-color="#818181"/><stop offset="1" stop-color="#8c8c8c"/></linearGradient>
<rect x="610" y="166" width="4.5" height="96" fill="url(#h107)"/>
<linearGradient id="h108" x1="0" y1="0" x2="0" y2="1"><stop offset="0" stop-color="#5c5c5c"/><stop offset="0.146" stop-color="#5e5e5e"/><stop offset="0.51" stop-color="#696969"/><stop offset="0.771" stop-color="#797979"/><stop offset="1" stop-color="#8c8c8c"/></linearGradient>
<rect x="614" y="166" width="4.5" height="96" fill="url(#h108)"/>
<linearGradient id="h109" x1="0" y1="0" x2="0" y2="1"><stop offset="0" stop-color="#5c5c5c"/><stop offset="0.438" stop-color="#666666"/><stop offset="0.667" stop-color="#727272"/><stop offset="0.875" stop-color="#818181"/><stop offset="1" stop-color="#8c8c8c"/></linearGradient>
<rect x="618" y="166" width="4.5" height="96" fill="url(#h109)"/>
<linearGradient id="h110" x1="0" y1="0" x2="0" y2="1"><stop offset="0" stop-color="#5d5d5d"/><stop offset="0.438" stop-color="#666666"/><stop offset="0.667" stop-color="#727272"/><stop offset="0.875" stop-color="#818181"/><stop offset="1" stop-color="#8c8c8c"/></linearGradient>
<rect x="622" y="166" width="4.5" height="96" fill="url(#h110)"/>
<linearGradient id="h111" x1="0" y1="0" x2="0" y2="1"><stop offset="0" stop-color="#5e5e5e"/><stop offset="0.312" stop-color="#636363"/><stop offset="0.51" stop-color="#696969"/><stop offset="0.771" stop-color="#797979"/><stop offset="1" stop-color="#8c8c8c"/></linearGradient>
<rect x="626" y="166" width="4.5" height="96" fill="url(#h111)"/>
<linearGradient id="h112" x1="0" y1="0" x2="0" y2="1"><stop offset="0" stop-color="#5f5f5f"/><stop offset="0.25" stop-color="#626262"/><stop offset="0.438" stop-color="#666666"/><stop offset="0.667" stop-color="#727272"/><stop offset="0.875" stop-color="#818181"/><stop offset="1" stop-color="#8c8c8c"/></linearGradient>
<rect x="630" y="166" width="4.5" height="96" fill="url(#h112)"/>
<linearGradient id="h113" x1="0" y1="0" x2="0" y2="1"><stop offset="0" stop-color="#5f5f5f"/><stop offset="0.25" stop-color="#626262"/><stop offset="0.438" stop-color="#666666"/><stop offset="0.667" stop-color="#727272"/><stop offset="0.875" stop-color="#818181"/><stop offset="1" stop-color="#8c8c8c"/></linearGradient>
<rect x="634" y="166" width="4.5" height="96" fill="url(#h113)"/>
<linearGradient id="h114" x1="0" y1="0" x2="0" y2="1"><stop offset="0" stop-color="#606060"/><stop offset="0.438" stop-color="#666666"/><stop offset="0.667" stop-color="#727272"/><stop offset="0.875" stop-color="#818181"/><stop offset="1" stop-color="#8c8c8c"/></linearGradient>
<rect x="638" y="166" width="4.5" height="96" fill="url(#h114)"/>
<linearGradient id="h115" x1="0" y1="0" x2="0" y2="1"><stop offset="0" stop-color="#616161"/><stop offset="0.438" stop-color="#666666"/><stop offset="0.667" stop-color="#727272"/><stop offset="0.875" stop-color="#818181"/><stop offset="1" stop-color="#8c8c8c"/></linearGradient>
<rect x="642" y="166" width="4.5" height="96" fill="url(#h115)"/>
<linearGradient id="h116" x1="0" y1="0" x2="0" y2="1"><stop offset="0" stop-color="#626262"/><stop offset="0.438" stop-color="#666666"/><stop offset="0.667" stop-color="#727272"/><stop offset="0.875" stop-color="#818181"/><stop offset="1" stop-color="#8c8c8c"/></linearGradient>
<rect x="646" y="166" width="4.5" height="96" fill="url(#h116)"/>
<linearGradient id="h117" x1="0" y1="0" x2="0" y2="1"><stop offset="0" stop-color="#626262"/><stop offset="0.438" stop-color="#666666"/><stop offset="0.667" stop-color="#727272"/><stop offset="0.875" stop-color="#818181"/><stop offset="1" stop-color="#8c8c8c"/></linearGradient>
<rect x="650" y="166" width="4.5" height="96" fill="url(#h117)"/>
<linearGradient id="h118" x1="0" y1="0" x2="0" y2="1"><stop offset="0" stop-color="#626262"/><stop offset="0.438" stop-color="#666666"/><stop offset="0.667" stop-color="#727272"/><stop offset="0.875" stop-color="#818181"/><stop offset="1" stop-color="#8c8c8c"/></linearGradient>
<rect x="654" y="166" width="4.5" height="96" fill="url(#h118)"/>
<linearGradient id="h119" x1="0" y1="0" x2="0" y2="1"><stop offset="0" stop-color="#626262"/><stop offset="0.438" stop-color="#666666"/><stop offset="0.667" stop-color="#727272"/><stop offset="0.875" stop-color="#818181"/><stop offset="1" stop-color="#8c8c8c"/></linearGradient>
<rect x="658" y="166" width="4.5" height="96" fill="url(#h119)"/>
<linearGradient id="h120" x1="0" y1="0" x2="0" y2="1"><stop offset="0" stop-color="#626262"/><stop offset="0.438" stop-color="#666666"/><stop offset="0.667" stop-color="#727272"/><stop offset="0.875" stop-color="#818181"/><stop offset="1" stop-color="#8c8c8c"/></linearGradient>
<rect x="662" y="166" width="4.5" height="96" fill="url(#h120)"/>
<linearGradient id="h121" x1="0" y1="0" x2="0" y2="1"><stop offset="0" stop-color="#626262"/><stop offset="0.438" stop-color="#666666"/><stop offset="0.667" stop-color="#727272"/><stop offset="0.875" stop-color="#818181"/><stop offset="1" stop-color="#8c8c8c"/></linearGradient>
<rect x="666" y="166" width="4.5" height="96" fill="url(#h121)"/>
<linearGradient id="h122" x1="0" y1="0" x2="0" y2="1"><stop offset="0" stop-color="#626262"/><stop offset="0.438" stop-color="#666666"/><stop offset="0.667" stop-color="#727272"/><stop offset="0.875" stop-color="#818181"/><stop offset="1" stop-color="#8c8c8c"/></linearGradient>
<rect x="670" y="166" width="4.5" height="96" fill="url(#h122)"/>
<linearGradient id="h123" x1="0" y1="0" x2="0" y2="1"><stop offset="0" stop-color="#626262"/><stop offset="0.438" stop-color="#666666"/><stop offset="0.667" stop-color="#727272"/><stop offset="0.875" stop-color="#818181"/><stop offset="1" stop-color="#8c8c8c"/></linearGradient>
<rect x="674" y="166" width="4.5" height="96" fill="url(#h123)"/>
<linearGradient id="h124" x1="0" y1="0" x2="0" y2="1"><stop offset="0" stop-color="#626262"/><stop offset="0.438" stop-color="#666666"/><stop offset="0.667" stop-color="#727272"/><stop offset="0.875" stop-color="#818181"/><stop offset="1" stop-color="#8c8c8c"/></linearGradient>
<rect x="678" y="166" width="4.5" height="96" fill="url(#h124)"/>
<linearGradient id="h125" x1="0" y1="0" x2="0" y2="1"><stop offset="0" stop-color="#626262"/><stop offset="0.438" stop-color="#666666"/><stop offset="0.667" stop-color="#727272"/><stop offset="0.875" stop-color="#818181"/><stop offset="1" stop-color="#8c8c8c"/></linearGradient>
<rect x="682" y="166" width="4.5" height="96" fill="url(#h125)"/>
<linearGradient id="h126" x1="0" y1="0" x2="0" y2="1"><stop offset="0" stop-color="#626262"/><stop offset="0.438" stop-color="#666666"/><stop offset="0.667" stop-color="#727272"/><stop offset="0.875" stop-color="#818181"/><stop offset="1" stop-color="#8c8c8c"/></linearGradient>
<rect x="686" y="166" width="4.5" height="96" fill="url(#h126)"/>
<linearGradient id="h127" x1="0" y1="0" x2="0" y2="1"><stop offset="0" stop-color="#626262"/><stop offset="0.438" stop-color="#666666"/><stop offset="0.667" stop-color="#727272"/><stop offset="0.875" stop-color="#818181"/><stop offset="1" stop-color="#8c8c8c"/></linearGradient>
<rect x="690" y="166" width="4.5" height="96" fill="url(#h127)"/>
<linearGradient id="h128" x1="0" y1="0" x2="0" y2="1"><stop offset="0" stop-color="#626262"/><stop offset="0.438" stop-color="#666666"/><stop offset="0.667" stop-color="#727272"/><stop offset="0.875" stop-color="#818181"/><stop offset="1" stop-color="#8c8c8c"/></linearGradient>
<rect x="694" y="166" width="4.5" height="96" fill="url(#h128)"/>
<linearGradient id="h129" x1="0" y1="0" x2="0" y2="1"><stop offset="0" stop-color="#626262"/><stop offset="0.438" stop-color="#666666"/><stop offset="0.667" stop-color="#727272"/><stop offset="0.875" stop-color="#818181"/><stop offset="1" stop-color="#8c8c8c"/></linearGradient>
<rect x="698" y="166" width="4.5" height="96" fill="url(#h129)"/>
<linearGradient id="h130" x1="0" y1="0" x2="0" y2="1"><stop offset="0" stop-color="#626262"/><stop offset="0.438" stop-color="#666666"/><stop offset="0.667" stop-color="#727272"/><stop offset="0.875" stop-color="#818181"/><stop offset="1" stop-color="#8c8c8c"/></linearGradient>
<rect x="702" y="166" width="4.5" height="96" fill="url(#h130)"/>
<linearGradient id="h131" x1="0" y1="0" x2="0" y2="1"><stop offset="0" stop-color="#626262"/><stop offset="0.438" stop-color="#666666"/><stop offset="0.667" stop-color="#727272"/><stop offset="0.875" stop-color="#818181"/><stop offset="1" stop-color="#8c8c8c"/></linearGradient>
<rect x="706" y="166" width="4.5" height="96" fill="url(#h131)"/>
<linearGradient id="h132" x1="0" y1="0" x2="0" y2="1"><stop offset="0" stop-color="#626262"/><stop offset="0.438" stop-color="#666666"/><stop offset="0.667" stop-color="#727272"/><stop offset="0.875" stop-color="#818181"/><stop offset="1" stop-color="#8c8c8c"/></linearGradient>
<rect x="710" y="166" width="4.5" height="96" fill="url(#h132)"/>
<linearGradient id="h133" x1="0" y1="0" x2="0" y2="1"><stop offset="0" stop-color="#626262"/><stop offset="0.438" stop-color="#666666"/><stop offset="0.667" stop-color="#727272"/><stop offset="0.875" stop-color="#818181"/><stop offset="1" stop-color="#8c8c8c"/></linearGradient>
<rect x="714" y="166" width="4.5" height="96" fill="url(#h133)"/>
<linearGradient id="h134" x1="0" y1="0" x2="0" y2="1"><stop offset="0" stop-color="#626262"/><stop offset="0.438" stop-color="#666666"/><stop offset="0.667" stop-color="#727272"/><stop offset="0.875" stop-color="#818181"/><stop offset="1" stop-color="#8c8c8c"/></linearGradient>
<rect x="718" y="166" width="4.5" height="96" fill="url(#h134)"/>
<linearGradient id="h135" x1="0" y1="0" x2="0" y2="1"><stop offset="0" stop-color="#626262"/><stop offset="0.438" stop-color="#666666"/><stop offset="0.667" stop-color="#727272"/><stop offset="0.875" stop-color="#818181"/><stop offset="1" stop-color="#8c8c8c"/></linearGradient>
<rect x="722" y="166" width="4.5" height="96" fill="url(#h135)"/>
<linearGradient id="h136" x1="0" y1="0" x2="0" y2="1"><stop offset="0" stop-color="#626262"/><stop offset="0.438" stop-color="#666666"/><stop offset="0.667" stop-color="#727272"/><stop offset="0.875" stop-color="#818181"/><stop offset="1" stop-color="#8c8c8c"/></linearGradient>
<rect x="726" y="166" width="4.5" height="96" fill="url(#h136)"/>
<linearGradient id="h137" x1="0" y1="0" x2="0" y2="1"><stop offset="0" stop-color="#626262"/><stop offset="0.438" stop-color="#666666"/><stop offset="0.667" stop-color="#727272"/><stop offset="0.875" stop-color="#818181"/><stop offset="1" stop-color="#8c8c8c"/></linearGradient>
<rect x="730" y="166" width="4.5" height="96" fill="url(#h137)"/>
<linearGradient id="h138" x1="0" y1="0" x2="0" y2="1"><stop offset="0" stop-color="#5b5b5b"/><stop offset="0.438" stop-color="#666666"/><stop offset="0.667" stop-color="#727272"/><stop offset="0.875" stop-color="#818181"/><stop offset="1" stop-color="#8c8c8c"/></linearGradient>
<rect x="734" y="166" width="4.5" height="96" fill="url(#h138)"/>
<linearGradient id="h139" x1="0" y1="0" x2="0" y2="1"><stop offset="0" stop-color="#5b5b5b"/><stop offset="0.438" stop-color="#666666"/><stop offset="0.667" stop-color="#727272"/><stop offset="0.875" stop-color="#818181"/><stop offset="1" stop-color="#8c8c8c"/></linearGradient>
<rect x="738" y="166" width="4.5" height="96" fill="url(#h139)"/>
<linearGradient id="h140" x1="0" y1="0" x2="0" y2="1"><stop offset="0" stop-color="#626262"/><stop offset="0.438" stop-color="#666666"/><stop offset="0.667" stop-color="#727272"/><stop offset="0.875" stop-color="#818181"/><stop offset="1" stop-color="#8c8c8c"/></linearGradient>
<rect x="742" y="166" width="4.5" height="96" fill="url(#h140)"/>
<linearGradient id="h141" x1="0" y1="0" x2="0" y2="1"><stop offset="0" stop-color="#626262"/><stop offset="0.438" stop-color="#666666"/><stop offset="0.667" stop-color="#727272"/><stop offset="0.875" stop-color="#818181"/><stop offset="1" stop-color="#8c8c8c"/></linearGradient>
<rect x="746" y="166" width="4.5" height="96" fill="url(#h141)"/>
<linearGradient id="h142" x1="0" y1="0" x2="0" y2="1"><stop offset="0" stop-color="#636363"/><stop offset="0.438" stop-color="#666666"/><stop offset="0.667" stop-color="#727272"/><stop offset="0.875" stop-color="#818181"/><stop offset="1" stop-color="#8c8c8c"/></linearGradient>
<rect x="750" y="166" width="4.5" height="96" fill="url(#h142)"/>
<linearGradient id="h143" x1="0" y1="0" x2="0" y2="1"><stop offset="0" stop-color="#636363"/><stop offset="0.438" stop-color="#666666"/><stop offset="0.667" stop-color="#727272"/><stop offset="0.875" stop-color="#818181"/><stop offset="1" stop-color="#8c8c8c"/></linearGradient>
<rect x="754" y="166" width="4.5" height="96" fill="url(#h143)"/>
<linearGradient id="h144" x1="0" y1="0" x2="0" y2="1"><stop offset="0" stop-color="#636363"/><stop offset="0.438" stop-color="#666666"/><stop offset="0.667" stop-color="#727272"/><stop offset="0.875" stop-color="#818181"/><stop offset="1" stop-color="#8c8c8c"/></linearGradient>
<rect x="758" y="166" width="4.5" height="96" fill="url(#h144)"/>
<linearGradient id="h145" x1="0" y1="0" x2="0" y2="1"><stop offset="0" stop-color="#606060"/><stop offset="0.438" stop-color="#666666"/><stop offset="0.667" stop-color="#727272"/><stop offset="0.875" stop-color="#818181"/><stop offset="1" stop-color="#8c8c8c"/></linearGradient>
<rect x="762" y="166" width="4.5" height="96" fill="url(#h145)"/>
<linearGradient id="h146" x1="0" y1="0" x2="0" y2="1"><stop offset="0" stop-color="#585858"/><stop offset="0.021" stop-color="#585858"/><stop offset="0.146" stop-color="#616161"/><stop offset="0.198" stop-color="#636363"/><stop offset="0.438" stop-color="#666666"/><stop offset="0.667" stop-color="#727272"/><stop offset="0.875" stop-color="#818181"/><stop offset="1" stop-color="#8c8c8c"/></linearGradient>
<rect x="766" y="166" width="4.5" height="96" fill="url(#h146)"/>
<linearGradient id="h147" x1="0" y1="0" x2="0" y2="1"><stop offset="0" stop-color="#484848"/><stop offset="0.021" stop-color="#484848"/><stop offset="0.062" stop-color="#505050"/><stop offset="0.146" stop-color="#5c5c5c"/><stop offset="0.198" stop-color="#626262"/><stop offset="0.438" stop-color="#666666"/><stop offset="0.667" stop-color="#727272"/><stop offset="0.875" stop-color="#818181"/><stop offset="1" stop-color="#8c8c8c"/></linearGradient>
<rect x="770" y="166" width="4.5" height="96" fill="url(#h147)"/>
<linearGradient id="h148" x1="0" y1="0" x2="0" y2="1"><stop offset="0" stop-color="#303030"/><stop offset="0.021" stop-color="#303030"/><stop offset="0.104" stop-color="#494949"/><stop offset="0.146" stop-color="#535353"/><stop offset="0.198" stop-color="#5d5d5d"/><stop offset="0.25" stop-color="#636363"/><stop offset="0.438" stop-color="#666666"/><stop offset="0.667" stop-color="#727272"/><stop offset="0.875" stop-color="#818181"/><stop offset="1" stop-color="#8c8c8c"/></linearGradient>
<rect x="774" y="166" width="4.5" height="96" fill="url(#h148)"/>
<linearGradient id="h149" x1="0" y1="0" x2="0" y2="1"><stop offset="0" stop-color="#1e1e1e"/><stop offset="0.021" stop-color="#1e1e1e"/><stop offset="0.104" stop-color="#3d3d3d"/><stop offset="0.146" stop-color="#4a4a4a"/><stop offset="0.198" stop-color="#585858"/><stop offset="0.25" stop-color="#616161"/><stop offset="0.312" stop-color="#646464"/><stop offset="0.438" stop-color="#666666"/><stop offset="0.667" stop-color="#727272"/><stop offset="0.875" stop-color="#818181"/><stop offset="1" stop-color="#8c8c8c"/></linearGradient>
<rect x="778" y="166" width="4.5" height="96" fill="url(#h149)"/>
<linearGradient id="h150" x1="0" y1="0" x2="0" y2="1"><stop offset="0" stop-color="#1c1c1c"/><stop offset="0.021" stop-color="#1c1c1c"/><stop offset="0.104" stop-color="#393939"/><stop offset="0.146" stop-color="#464646"/><stop offset="0.198" stop-color="#545454"/><stop offset="0.25" stop-color="#5e5e5e"/><stop offset="0.312" stop-color="#646464"/><stop offset="0.438" stop-color="#666666"/><stop offset="0.667" stop-color="#727272"/><stop offset="0.875" stop-color="#818181"/><stop offset="1" stop-color="#8c8c8c"/></linearGradient>
<rect x="782" y="166" width="4.5" height="96" fill="url(#h150)"/>
<linearGradient id="h151" x1="0" y1="0" x2="0" y2="1"><stop offset="0" stop-color="#191919"/><stop offset="0.021" stop-color="#191919"/><stop offset="0.104" stop-color="#363636"/><stop offset="0.198" stop-color="#505050"/><stop offset="0.25" stop-color="#5b5b5b"/><stop offset="0.312" stop-color="#646464"/><stop offset="0.438" stop-color="#666666"/><stop offset="0.667" stop-color="#727272"/><stop offset="0.875" stop-color="#818181"/><stop offset="1" stop-color="#8c8c8c"/></linearGradient>
<rect x="786" y="166" width="4.5" height="96" fill="url(#h151)"/>
<linearGradient id="h152" x1="0" y1="0" x2="0" y2="1"><stop offset="0" stop-color="#171717"/><stop offset="0.021" stop-color="#171717"/><stop offset="0.104" stop-color="#333333"/><stop offset="0.146" stop-color="#3f3f3f"/><stop offset="0.198" stop-color="#4c4c4c"/><stop offset="0.25" stop-color="#575757"/><stop offset="0.312" stop-color="#626262"/><stop offset="0.375" stop-color="#656565"/><stop offset="0.438" stop-color="#666666"/><stop offset="0.667" stop-color="#727272"/><stop offset="0.875" stop-color="#818181"/><stop offset="1" stop-color="#8c8c8c"/></linearGradient>
<rect x="790" y="166" width="4.5" height="96" fill="url(#h152)"/>
<linearGradient id="h153" x1="0" y1="0" x2="0" y2="1"><stop offset="0" stop-color="#151515"/><stop offset="0.021" stop-color="#151515"/><stop offset="0.062" stop-color="#232323"/><stop offset="0.146" stop-color="#3b3b3b"/><stop offset="0.25" stop-color="#545454"/><stop offset="0.312" stop-color="#5f5f5f"/><stop offset="0.375" stop-color="#656565"/><stop offset="0.438" stop-color="#666666"/><stop offset="0.667" stop-color="#727272"/><stop offset="0.875" stop-color="#818181"/><stop offset="1" stop-color="#8c8c8c"/></linearGradient>
<rect x="794" y="166" width="4.5" height="96" fill="url(#h153)"/>
<linearGradient id="h154" x1="0" y1="0" x2="0" y2="1"><stop offset="0" stop-color="#141414"/><stop offset="0.021" stop-color="#141414"/><stop offset="0.104" stop-color="#2e2e2e"/><stop offset="0.198" stop-color="#464646"/><stop offset="0.312" stop-color="#5d5d5d"/><stop offset="0.375" stop-color="#656565"/><stop offset="0.438" stop-color="#666666"/><stop offset="0.667" stop-color="#727272"/><stop offset="0.875" stop-color="#818181"/><stop offset="1" stop-color="#8c8c8c"/></linearGradient>
<rect x="798" y="166" width="4.5" height="96" fill="url(#h154)"/>
<linearGradient id="h155" x1="0" y1="0" x2="0" y2="1"><stop offset="0" stop-color="#131313"/><stop offset="0.021" stop-color="#131313"/><stop offset="0.146" stop-color="#383838"/><stop offset="0.25" stop-color="#505050"/><stop offset="0.312" stop-color="#5b5b5b"/><stop offset="0.375" stop-color="#646464"/><stop offset="0.51" stop-color="#696969"/><stop offset="0.771" stop-color="#797979"/><stop offset="1" stop-color="#8c8c8c"/></linearGradient>
<rect x="802" y="166" width="4.5" height="96" fill="url(#h155)"/>
<linearGradient id="h156" x1="0" y1="0" x2="0" y2="1"><stop offset="0" stop-color="#131313"/><stop offset="0.021" stop-color="#131313"/><stop offset="0.146" stop-color="#363636"/><stop offset="0.198" stop-color="#434343"/><stop offset="0.312" stop-color="#5a5a5a"/><stop offset="0.375" stop-color="#636363"/><stop offset="0.667" stop-color="#727272"/><stop offset="0.875" stop-color="#818181"/><stop offset="1" stop-color="#8c8c8c"/></linearGradient>
<rect x="806" y="166" width="4.5" height="96" fill="url(#h156)"/>
<linearGradient id="h157" x1="0" y1="0" x2="0" y2="1"><stop offset="0" stop-color="#121212"/><stop offset="0.021" stop-color="#121212"/><stop offset="0.146" stop-color="#353535"/><stop offset="0.25" stop-color="#4c4c4c"/><stop offset="0.312" stop-color="#585858"/><stop offset="0.375" stop-color="#616161"/><stop offset="0.438" stop-color="#666666"/><stop offset="0.667" stop-color="#727272"/><stop offset="0.875" stop-color="#818181"/><stop offset="1" stop-color="#8c8c8c"/></linearGradient>
<rect x="810" y="166" width="4.5" height="96" fill="url(#h157)"/>
<linearGradient id="h158" x1="0" y1="0" x2="0" y2="1"><stop offset="0" stop-color="#121212"/><stop offset="0.021" stop-color="#121212"/><stop offset="0.146" stop-color="#343434"/><stop offset="0.25" stop-color="#4b4b4b"/><stop offset="0.312" stop-color="#575757"/><stop offset="0.375" stop-color="#606060"/><stop offset="0.438" stop-color="#666666"/><stop offset="0.667" stop-color="#727272"/><stop offset="0.875" stop-color="#818181"/><stop offset="1" stop-color="#8c8c8c"/></linearGradient>
<rect x="814" y="166" width="4.5" height="96" fill="url(#h158)"/>
<linearGradient id="h159" x1="0" y1="0" x2="0" y2="1"><stop offset="0" stop-color="#121212"/><stop offset="0.021" stop-color="#121212"/><stop offset="0.104" stop-color="#292929"/><stop offset="0.25" stop-color="#4a4a4a"/><stop offset="0.312" stop-color="#565656"/><stop offset="0.375" stop-color="#606060"/><stop offset="0.438" stop-color="#666666"/><stop offset="0.667" stop-color="#727272"/><stop offset="0.875" stop-color="#818181"/><stop offset="1" stop-color="#8c8c8c"/></linearGradient>
<rect x="818" y="166" width="4.5" height="96" fill="url(#h159)"/>
<linearGradient id="h160" x1="0" y1="0" x2="0" y2="1"><stop offset="0" stop-color="#121212"/><stop offset="0.021" stop-color="#121212"/><stop offset="0.104" stop-color="#292929"/><stop offset="0.25" stop-color="#4a4a4a"/><stop offset="0.312" stop-color="#565656"/><stop offset="0.375" stop-color="#5f5f5f"/><stop offset="0.438" stop-color="#666666"/><stop offset="0.667" stop-color="#727272"/><stop offset="0.875" stop-color="#818181"/><stop offset="1" stop-color="#8c8c8c"/></linearGradient>
<rect x="822" y="166" width="4.5" height="96" fill="url(#h160)"/>
<linearGradient id="h161" x1="0" y1="0" x2="0" y2="1"><stop offset="0" stop-color="#121212"/><stop offset="0.021" stop-color="#121212"/><stop offset="0.146" stop-color="#333333"/><stop offset="0.25" stop-color="#4a4a4a"/><stop offset="0.375" stop-color="#5f5f5f"/><stop offset="0.438" stop-color="#656565"/><stop offset="0.771" stop-color="#797979"/><stop offset="1" stop-color="#8c8c8c"/></linearGradient>
<rect x="826" y="166" width="4.5" height="96" fill="url(#h161)"/>
<linearGradient id="h162" x1="0" y1="0" x2="0" y2="1"><stop offset="0" stop-color="#121212"/><stop offset="0.021" stop-color="#121212"/><stop offset="0.146" stop-color="#333333"/><stop offset="0.312" stop-color="#555555"/><stop offset="0.375" stop-color="#5f5f5f"/><stop offset="0.438" stop-color="#656565"/><stop offset="0.771" stop-color="#797979"/><stop offset="1" stop-color="#8c8c8c"/></linearGradient>
<rect x="830" y="166" width="4.5" height="96" fill="url(#h162)"/>
<linearGradient id="h163" x1="0" y1="0" x2="0" y2="1"><stop offset="0" stop-color="#121212"/><stop offset="0.021" stop-color="#121212"/><stop offset="0.146" stop-color="#323232"/><stop offset="0.25" stop-color="#494949"/><stop offset="0.312" stop-color="#555555"/><stop offset="0.375" stop-color="#5e5e5e"/><stop offset="0.438" stop-color="#656565"/><stop offset="0.771" stop-color="#797979"/><stop offset="1" stop-color="#8c8c8c"/></linearGradient>
<rect x="834" y="166" width="4.5" height="96" fill="url(#h163)"/>
<linearGradient id="h164" x1="0" y1="0" x2="0" y2="1"><stop offset="0" stop-color="#121212"/><stop offset="0.021" stop-color="#121212"/><stop offset="0.146" stop-color="#323232"/><stop offset="0.198" stop-color="#3e3e3e"/><stop offset="0.312" stop-color="#545454"/><stop offset="0.375" stop-color="#5e5e5e"/><stop offset="0.438" stop-color="#656565"/><stop offset="0.771" stop-color="#797979"/><stop offset="1" stop-color="#8c8c8c"/></linearGradient>
<rect x="838" y="166" width="4.5" height="96" fill="url(#h164)"/>
<linearGradient id="h165" x1="0" y1="0" x2="0" y2="1"><stop offset="0" stop-color="#121212"/><stop offset="0.021" stop-color="#121212"/><stop offset="0.146" stop-color="#323232"/><stop offset="0.312" stop-color="#545454"/><stop offset="0.375" stop-color="#5e5e5e"/><stop offset="0.438" stop-color="#646464"/><stop offset="0.771" stop-color="#797979"/><stop offset="1" stop-color="#8c8c8c"/></linearGradient>
<rect x="842" y="166" width="4.5" height="96" fill="url(#h165)"/>
<linearGradient id="h166" x1="0" y1="0" x2="0" y2="1"><stop offset="0" stop-color="#121212"/><stop offset="0.021" stop-color="#121212"/><stop offset="0.146" stop-color="#323232"/><stop offset="0.25" stop-color="#484848"/><stop offset="0.375" stop-color="#5d5d5d"/><stop offset="0.438" stop-color="#646464"/><stop offset="0.771" stop-color="#797979"/><stop offset="1" stop-color="#8c8c8c"/></linearGradient>
<rect x="846" y="166" width="4.5" height="96" fill="url(#h166)"/>
<linearGradient id="h167" x1="0" y1="0" x2="0" y2="1"><stop offset="0" stop-color="#121212"/><stop offset="0.021" stop-color="#121212"/><stop offset="0.198" stop-color="#3d3d3d"/><stop offset="0.312" stop-color="#535353"/><stop offset="0.375" stop-color="#5d5d5d"/><stop offset="0.438" stop-color="#646464"/><stop offset="0.771" stop-color="#797979"/><stop offset="1" stop-color="#8c8c8c"/></linearGradient>
<rect x="850" y="166" width="4.5" height="96" fill="url(#h167)"/>
<linearGradient id="h168" x1="0" y1="0" x2="0" y2="1"><stop offset="0" stop-color="#121212"/><stop offset="0.021" stop-color="#121212"/><stop offset="0.146" stop-color="#313131"/><stop offset="0.312" stop-color="#535353"/><stop offset="0.438" stop-color="#646464"/><stop offset="0.771" stop-color="#797979"/><stop offset="1" stop-color="#8c8c8c"/></linearGradient>
<rect x="854" y="166" width="4.5" height="96" fill="url(#h168)"/>
<linearGradient id="h169" x1="0" y1="0" x2="0" y2="1"><stop offset="0" stop-color="#121212"/><stop offset="0.021" stop-color="#121212"/><stop offset="0.146" stop-color="#313131"/><stop offset="0.25" stop-color="#474747"/><stop offset="0.375" stop-color="#5c5c5c"/><stop offset="0.438" stop-color="#636363"/><stop offset="0.51" stop-color="#696969"/><stop offset="0.771" stop-color="#797979"/><stop offset="1" stop-color="#8c8c8c"/></linearGradient>
<rect x="858" y="166" width="4.5" height="96" fill="url(#h169)"/>
<linearGradient id="h170" x1="0" y1="0" x2="0" y2="1"><stop offset="0" stop-color="#121212"/><stop offset="0.021" stop-color="#121212"/><stop offset="0.146" stop-color="#313131"/><stop offset="0.312" stop-color="#525252"/><stop offset="0.375" stop-color="#5c5c5c"/><stop offset="0.438" stop-color="#636363"/><stop offset="0.51" stop-color="#696969"/><stop offset="0.771" stop-color="#797979"/><stop offset="1" stop-color="#8c8c8c"/></linearGradient>
<rect x="862" y="166" width="4.5" height="96" fill="url(#h170)"/>
<linearGradient id="h171" x1="0" y1="0" x2="0" y2="1"><stop offset="0" stop-color="#121212"/><stop offset="0.021" stop-color="#121212"/><stop offset="0.104" stop-color="#272727"/><stop offset="0.198" stop-color="#3c3c3c"/><stop offset="0.312" stop-color="#515151"/><stop offset="0.375" stop-color="#5b5b5b"/><stop offset="0.438" stop-color="#636363"/><stop offset="0.51" stop-color="#696969"/><stop offset="0.771" stop-color="#797979"/><stop offset="1" stop-color="#8c8c8c"/></linearGradient>
<rect x="866" y="166" width="4.5" height="96" fill="url(#h171)"/>
<linearGradient id="h172" x1="0" y1="0" x2="0" y2="1"><stop offset="0" stop-color="#121212"/><stop offset="0.021" stop-color="#121212"/><stop offset="0.104" stop-color="#272727"/><stop offset="0.25" stop-color="#464646"/><stop offset="0.375" stop-color="#5b5b5b"/><stop offset="0.438" stop-color="#636363"/><stop offset="0.51" stop-color="#696969"/><stop offset="0.771" stop-color="#797979"/><stop offset="1" stop-color="#8c8c8c"/></linearGradient>
<rect x="870" y="166" width="4.5" height="96" fill="url(#h172)"/>
<linearGradient id="h173" x1="0" y1="0" x2="0" y2="1"><stop offset="0" stop-color="#121212"/><stop offset="0.021" stop-color="#121212"/><stop offset="0.146" stop-color="#303030"/><stop offset="0.312" stop-color="#515151"/><stop offset="0.375" stop-color="#5b5b5b"/><stop offset="0.438" stop-color="#636363"/><stop offset="0.51" stop-color="#696969"/><stop offset="0.771" stop-color="#797979"/><stop offset="1" stop-color="#8c8c8c"/></linearGradient>
<rect x="874" y="166" width="4.5" height="96" fill="url(#h173)"/>
<linearGradient id="h174" x1="0" y1="0" x2="0" y2="1"><stop offset="0" stop-color="#121212"/><stop offset="0.021" stop-color="#121212"/><stop offset="0.146" stop-color="#303030"/><stop offset="0.312" stop-color="#515151"/><stop offset="0.375" stop-color="#5b5b5b"/><stop offset="0.51" stop-color="#696969"/><stop offset="0.771" stop-color="#797979"/><stop offset="1" stop-color="#8c8c8c"/></linearGradient>
<rect x="878" y="166" width="4.5" height="96" fill="url(#h174)"/>
<linearGradient id="h175" x1="0" y1="0" x2="0" y2="1"><stop offset="0" stop-color="#121212"/><stop offset="0.021" stop-color="#121212"/><stop offset="0.146" stop-color="#303030"/><stop offset="0.312" stop-color="#515151"/><stop offset="0.438" stop-color="#626262"/><stop offset="0.51" stop-color="#696969"/><stop offset="0.771" stop-color="#797979"/><stop offset="1" stop-color="#8c8c8c"/></linearGradient>
<rect x="882" y="166" width="4.5" height="96" fill="url(#h175)"/>
<linearGradient id="h176" x1="0" y1="0" x2="0" y2="1"><stop offset="0" stop-color="#121212"/><stop offset="0.021" stop-color="#121212"/><stop offset="0.146" stop-color="#303030"/><stop offset="0.25" stop-color="#454545"/><stop offset="0.375" stop-color="#5a5a5a"/><stop offset="0.438" stop-color="#626262"/><stop offset="0.51" stop-color="#696969"/><stop offset="0.771" stop-color="#797979"/><stop offset="1" stop-color="#8c8c8c"/></linearGradient>
<rect x="886" y="166" width="4.5" height="96" fill="url(#h176)"/>
<linearGradient id="h177" x1="0" y1="0" x2="0" y2="1"><stop offset="0" stop-color="#121212"/><stop offset="0.021" stop-color="#121212"/><stop offset="0.146" stop-color="#303030"/><stop offset="0.25" stop-color="#454545"/><stop offset="0.375" stop-color="#5a5a5a"/><stop offset="0.438" stop-color="#626262"/><stop offset="0.51" stop-color="#696969"/><stop offset="0.771" stop-color="#797979"/><stop offset="1" stop-color="#8c8c8c"/></linearGradient>
<rect x="890" y="166" width="4.5" height="96" fill="url(#h177)"/>
<linearGradient id="h178" x1="0" y1="0" x2="0" y2="1"><stop offset="0" stop-color="#121212"/><stop offset="0.021" stop-color="#121212"/><stop offset="0.25" stop-color="#454545"/><stop offset="0.375" stop-color="#5a5a5a"/><stop offset="0.438" stop-color="#626262"/><stop offset="0.51" stop-color="#696969"/><stop offset="0.771" stop-color="#797979"/><stop offset="1" stop-color="#8c8c8c"/></linearGradient>
<rect x="894" y="166" width="4.5" height="96" fill="url(#h178)"/>
<linearGradient id="h179" x1="0" y1="0" x2="0" y2="1"><stop offset="0" stop-color="#121212"/><stop offset="0.021" stop-color="#121212"/><stop offset="0.198" stop-color="#3a3a3a"/><stop offset="0.312" stop-color="#505050"/><stop offset="0.375" stop-color="#5a5a5a"/><stop offset="0.438" stop-color="#626262"/><stop offset="0.51" stop-color="#696969"/><stop offset="0.771" stop-color="#797979"/><stop offset="1" stop-color="#8c8c8c"/></linearGradient>
<rect x="898" y="166" width="4.5" height="96" fill="url(#h179)"/>
<linearGradient id="h180" x1="0" y1="0" x2="0" y2="1"><stop offset="0" stop-color="#121212"/><stop offset="0.021" stop-color="#121212"/><stop offset="0.198" stop-color="#3a3a3a"/><stop offset="0.312" stop-color="#505050"/><stop offset="0.375" stop-color="#5a5a5a"/><stop offset="0.51" stop-color="#696969"/><stop offset="0.771" stop-color="#797979"/><stop offset="1" stop-color="#8c8c8c"/></linearGradient>
<rect x="902" y="166" width="4.5" height="96" fill="url(#h180)"/>
<linearGradient id="h181" x1="0" y1="0" x2="0" y2="1"><stop offset="0" stop-color="#121212"/><stop offset="0.021" stop-color="#121212"/><stop offset="0.198" stop-color="#3a3a3a"/><stop offset="0.312" stop-color="#505050"/><stop offset="0.438" stop-color="#616161"/><stop offset="0.51" stop-color="#696969"/><stop offset="0.771" stop-color="#797979"/><stop offset="1" stop-color="#8c8c8c"/></linearGradient>
<rect x="906" y="166" width="4.5" height="96" fill="url(#h181)"/>
<linearGradient id="h182" x1="0" y1="0" x2="0" y2="1"><stop offset="0" stop-color="#121212"/><stop offset="0.021" stop-color="#121212"/><stop offset="0.198" stop-color="#3a3a3a"/><stop offset="0.312" stop-color="#4f4f4f"/><stop offset="0.375" stop-color="#595959"/><stop offset="0.51" stop-color="#696969"/><stop offset="0.771" stop-color="#797979"/><stop offset="1" stop-color="#8c8c8c"/></linearGradient>
<rect x="910" y="166" width="4.5" height="96" fill="url(#h182)"/>
<linearGradient id="h183" x1="0" y1="0" x2="0" y2="1"><stop offset="0" stop-color="#121212"/><stop offset="0.021" stop-color="#121212"/><stop offset="0.198" stop-color="#3a3a3a"/><stop offset="0.312" stop-color="#4f4f4f"/><stop offset="0.375" stop-color="#595959"/><stop offset="0.51" stop-color="#696969"/><stop offset="0.771" stop-color="#797979"/><stop offset="1" stop-color="#8c8c8c"/></linearGradient>
<rect x="914" y="166" width="4.5" height="96" fill="url(#h183)"/>
<linearGradient id="h184" x1="0" y1="0" x2="0" y2="1"><stop offset="0" stop-color="#121212"/><stop offset="0.021" stop-color="#121212"/><stop offset="0.198" stop-color="#3a3a3a"/><stop offset="0.312" stop-color="#4f4f4f"/><stop offset="0.375" stop-color="#595959"/><stop offset="0.51" stop-color="#696969"/><stop offset="0.771" stop-color="#797979"/><stop offset="1" stop-color="#8c8c8c"/></linearGradient>
<rect x="918" y="166" width="4.5" height="96" fill="url(#h184)"/>
<linearGradient id="h185" x1="0" y1="0" x2="0" y2="1"><stop offset="0" stop-color="#121212"/><stop offset="0.021" stop-color="#121212"/><stop offset="0.198" stop-color="#3a3a3a"/><stop offset="0.312" stop-color="#4f4f4f"/><stop offset="0.375" stop-color="#595959"/><stop offset="0.51" stop-color="#696969"/><stop offset="0.771" stop-color="#797979"/><stop offset="1" stop-color="#8c8c8c"/></linearGradient>
<rect x="922" y="166" width="4.5" height="96" fill="url(#h185)"/>
<linearGradient id="h186" x1="0" y1="0" x2="0" y2="1"><stop offset="0" stop-color="#9c9c9c"/><stop offset="0.067" stop-color="#a3a3a3"/><stop offset="0.159" stop-color="#adadad"/><stop offset="0.323" stop-color="#b6b6b6"/><stop offset="0.405" stop-color="#b0b0b0"/><stop offset="0.477" stop-color="#a3a3a3"/><stop offset="0.528" stop-color="#919191"/><stop offset="0.579" stop-color="#767676"/><stop offset="0.61" stop-color="#5c5c5c"/><stop offset="0.631" stop-color="#474747"/><stop offset="0.651" stop-color="#2e2e2e"/><stop offset="0.672" stop-color="#191919"/><stop offset="0.682" stop-color="#090909"/><stop offset="0.692" stop-color="#000000"/><stop offset="1" stop-color="#000000"/></linearGradient>
<rect x="176" y="261" width="24.5" height="195" fill="url(#h186)"/>
<linearGradient id="h187" x1="0" y1="0" x2="0" y2="1"><stop offset="0" stop-color="#9c9c9c"/><stop offset="0.077" stop-color="#a4a4a4"/><stop offset="0.159" stop-color="#adadad"/><stop offset="0.323" stop-color="#b6b6b6"/><stop offset="0.405" stop-color="#b0b0b0"/><stop offset="0.477" stop-color="#a3a3a3"/><stop offset="0.528" stop-color="#919191"/><stop offset="0.579" stop-color="#767676"/><stop offset="0.61" stop-color="#5c5c5c"/><stop offset="0.631" stop-color="#474747"/><stop offset="0.651" stop-color="#2e2e2e"/><stop offset="0.672" stop-color="#191919"/><stop offset="0.682" stop-color="#090909"/><stop offset="0.692" stop-color="#000000"/><stop offset="1" stop-color="#000000"/></linearGradient>
<rect x="200" y="261" width="24.5" height="195" fill="url(#h187)"/>
<linearGradient id="h188" x1="0" y1="0" x2="0" y2="1"><stop offset="0" stop-color="#9b9b9b"/><stop offset="0.159" stop-color="#adadad"/><stop offset="0.323" stop-color="#b6b6b6"/><stop offset="0.405" stop-color="#b0b0b0"/><stop offset="0.477" stop-color="#a3a3a3"/><stop offset="0.528" stop-color="#919191"/><stop offset="0.579" stop-color="#767676"/><stop offset="0.61" stop-color="#5c5c5c"/><stop offset="0.631" stop-color="#474747"/><stop offset="0.651" stop-color="#2e2e2e"/><stop offset="0.672" stop-color="#191919"/><stop offset="0.682" stop-color="#090909"/><stop offset="0.692" stop-color="#000000"/><stop offset="1" stop-color="#000000"/></linearGradient>
<rect x="224" y="261" width="24.5" height="195" fill="url(#h188)"/>
<linearGradient id="h189" x1="0" y1="0" x2="0" y2="1"><stop offset="0" stop-color="#999999"/><stop offset="0.149" stop-color="#acacac"/><stop offset="0.323" stop-color="#b6b6b6"/><stop offset="0.405" stop-color="#b0b0b0"/><stop offset="0.477" stop-color="#a3a3a3"/><stop offset="0.528" stop-color="#919191"/><stop offset="0.579" stop-color="#767676"/><stop offset="0.61" stop-color="#5c5c5c"/><stop offset="0.631" stop-color="#474747"/><stop offset="0.651" stop-color="#2e2e2e"/><stop offset="0.672" stop-color="#191919"/><stop offset="0.682" stop-color="#090909"/><stop offset="0.692" stop-color="#000000"/><stop offset="1" stop-color="#000000"/></linearGradient>
<rect x="248" y="261" width="18.5" height="195" fill="url(#h189)"/>
<linearGradient id="h190" x1="0" y1="0" x2="0" y2="1"><stop offset="0" stop-color="#989898"/><stop offset="0.2" stop-color="#b0b0b0"/><stop offset="0.323" stop-color="#b6b6b6"/><stop offset="0.405" stop-color="#b0b0b0"/><stop offset="0.477" stop-color="#a3a3a3"/><stop offset="0.528" stop-color="#919191"/><stop offset="0.579" stop-color="#767676"/><stop offset="0.61" stop-color="#5c5c5c"/><stop offset="0.631" stop-color="#474747"/><stop offset="0.651" stop-color="#2e2e2e"/><stop offset="0.672" stop-color="#191919"/><stop offset="0.682" stop-color="#090909"/><stop offset="0.692" stop-color="#000000"/><stop offset="1" stop-color="#000000"/></linearGradient>
<rect x="266" y="261" width="14.5" height="195" fill="url(#h190)"/>
<linearGradient id="h191" x1="0" y1="0" x2="0" y2="1"><stop offset="0" stop-color="#979797"/><stop offset="0.2" stop-color="#b0b0b0"/><stop offset="0.323" stop-color="#b6b6b6"/><stop offset="0.405" stop-color="#b0b0b0"/><stop offset="0.477" stop-color="#a3a3a3"/><stop offset="0.528" stop-color="#919191"/><stop offset="0.579" stop-color="#767676"/><stop offset="0.61" stop-color="#5c5c5c"/><stop offset="0.631" stop-color="#474747"/><stop offset="0.651" stop-color="#2e2e2e"/><stop offset="0.672" stop-color="#191919"/><stop offset="0.682" stop-color="#090909"/><stop offset="0.692" stop-color="#000000"/><stop offset="1" stop-color="#000000"/></linearGradient>
<rect x="280" y="261" width="6.5" height="195" fill="url(#h191)"/>
<linearGradient id="h192" x1="0" y1="0" x2="0" y2="1"><stop offset="0" stop-color="#969696"/><stop offset="0.2" stop-color="#b0b0b0"/><stop offset="0.323" stop-color="#b7b7b7"/><stop offset="0.415" stop-color="#afafaf"/><stop offset="0.477" stop-color="#a4a4a4"/><stop offset="0.528" stop-color="#929292"/><stop offset="0.579" stop-color="#767676"/><stop offset="0.61" stop-color="#5e5e5e"/><stop offset="0.631" stop-color="#494949"/><stop offset="0.672" stop-color="#1b1b1b"/><stop offset="0.682" stop-color="#0d0d0d"/><stop offset="0.692" stop-color="#030303"/><stop offset="0.713" stop-color="#000000"/><stop offset="1" stop-color="#000000"/></linearGradient>
<rect x="286" y="261" width="6.5" height="195" fill="url(#h192)"/>
<linearGradient id="h193" x1="0" y1="0" x2="0" y2="1"><stop offset="0" stop-color="#959595"/><stop offset="0.2" stop-color="#b0b0b0"/><stop offset="0.333" stop-color="#b8b8b8"/><stop offset="0.405" stop-color="#b3b3b3"/><stop offset="0.477" stop-color="#a7a7a7"/><stop offset="0.518" stop-color="#989898"/><stop offset="0.549" stop-color="#878787"/><stop offset="0.569" stop-color="#7a7a7a"/><stop offset="0.579" stop-color="#757575"/><stop offset="0.61" stop-color="#616161"/><stop offset="0.631" stop-color="#4f4f4f"/><stop offset="0.662" stop-color="#2c2c2c"/><stop offset="0.672" stop-color="#222222"/><stop offset="0.692" stop-color="#090909"/><stop offset="0.703" stop-color="#030303"/><stop offset="0.713" stop-color="#000000"/><stop offset="1" stop-color="#000000"/></linearGradient>
<rect x="292" y="261" width="6.5" height="195" fill="url(#h193)"/>
<linearGradient id="h194" x1="0" y1="0" x2="0" y2="1"><stop offset="0" stop-color="#949494"/><stop offset="0.21" stop-color="#b1b1b1"/><stop offset="0.344" stop-color="#b9b9b9"/><stop offset="0.415" stop-color="#b4b4b4"/><stop offset="0.477" stop-color="#a9a9a9"/><stop offset="0.508" stop-color="#9f9f9f"/><stop offset="0.538" stop-color="#8e8e8e"/><stop offset="0.569" stop-color="#797979"/><stop offset="0.61" stop-color="#646464"/><stop offset="0.631" stop-color="#555555"/><stop offset="0.641" stop-color="#4b4b4b"/><stop offset="0.651" stop-color="#3e3e3e"/><stop offset="0.682" stop-color="#1c1c1c"/><stop offset="0.692" stop-color="#0f0f0f"/><stop offset="0.703" stop-color="#040404"/><stop offset="0.713" stop-color="#000000"/><stop offset="1" stop-color="#000000"/></linearGradient>
<rect x="298" y="261" width="6.5" height="195" fill="url(#h194)"/>
<linearGradient id="h195" x1="0" y1="0" x2="0" y2="1"><stop offset="0" stop-color="#949494"/><stop offset="0.21" stop-color="#b1b1b1"/><stop offset="0.344" stop-color="#bababa"/><stop offset="0.415" stop-color="#b5b5b5"/><stop offset="0.477" stop-color="#aaaaaa"/><stop offset="0.508" stop-color="#a0a0a0"/><stop offset="0.538" stop-color="#8f8f8f"/><stop offset="0.569" stop-color="#787878"/><stop offset="0.61" stop-color="#666666"/><stop offset="0.631" stop-color="#585858"/><stop offset="0.641" stop-color="#4e4e4e"/><stop offset="0.662" stop-color="#353535"/><stop offset="0.682" stop-color="#202020"/><stop offset="0.692" stop-color="#111111"/><stop offset="0.703" stop-color="#050505"/><stop offset="0.713" stop-color="#000000"/><stop offset="1" stop-color="#000000"/></linearGradient>
<rect x="304" y="261" width="6.5" height="195" fill="url(#h195)"/>
<linearGradient id="h196" x1="0" y1="0" x2="0" y2="1"><stop offset="0" stop-color="#939393"/><stop offset="0.21" stop-color="#b1b1b1"/><stop offset="0.344" stop-color="#bababa"/><stop offset="0.415" stop-color="#b5b5b5"/><stop offset="0.477" stop-color="#aaaaaa"/><stop offset="0.508" stop-color="#a0a0a0"/><stop offset="0.538" stop-color="#8f8f8f"/><stop offset="0.569" stop-color="#787878"/><stop offset="0.61" stop-color="#666666"/><stop offset="0.631" stop-color="#585858"/><stop offset="0.641" stop-color="#4e4e4e"/><stop offset="0.662" stop-color="#353535"/><stop offset="0.682" stop-color="#202020"/><stop offset="0.692" stop-color="#111111"/><stop offset="0.703" stop-color="#050505"/><stop offset="0.713" stop-color="#000000"/><stop offset="1" stop-color="#000000"/></linearGradient>
<rect x="310" y="261" width="10.5" height="195" fill="url(#h196)"/>
<linearGradient id="h197" x1="0" y1="0" x2="0" y2="1"><stop offset="0" stop-color="#919191"/><stop offset="0.21" stop-color="#b1b1b1"/><stop offset="0.344" stop-color="#bababa"/><stop offset="0.415" stop-color="#b5b5b5"/><stop offset="0.477" stop-color="#aaaaaa"/><stop offset="0.508" stop-color="#a0a0a0"/><stop offset="0.538" stop-color="#8f8f8f"/><stop offset="0.569" stop-color="#787878"/><stop offset="0.61" stop-color="#666666"/><stop offset="0.631" stop-color="#585858"/><stop offset="0.641" stop-color="#4e4e4e"/><stop offset="0.662" stop-color="#353535"/><stop offset="0.682" stop-color="#202020"/><stop offset="0.692" stop-color="#111111"/><stop offset="0.703" stop-color="#050505"/><stop offset="0.713" stop-color="#000000"/><stop offset="1" stop-color="#000000"/></linearGradient>
<rect x="320" y="261" width="20.5" height="195" fill="url(#h197)"/>
<linearGradient id="h198" x1="0" y1="0" x2="0" y2="1"><stop offset="0" stop-color="#8f8f8f"/><stop offset="0.118" stop-color="#a5a5a5"/><stop offset="0.21" stop-color="#b1b1b1"/><stop offset="0.344" stop-color="#bababa"/><stop offset="0.415" stop-color="#b5b5b5"/><stop offset="0.477" stop-color="#aaaaaa"/><stop offset="0.508" stop-color="#a0a0a0"/><stop offset="0.538" stop-color="#8f8f8f"/><stop offset="0.569" stop-color="#787878"/><stop offset="0.61" stop-color="#666666"/><stop offset="0.631" stop-color="#585858"/><stop offset="0.641" stop-color="#4e4e4e"/><stop offset="0.662" stop-color="#353535"/><stop offset="0.682" stop-color="#202020"/><stop offset="0.692" stop-color="#111111"/><stop offset="0.703" stop-color="#050505"/><stop offset="0.713" stop-color="#000000"/><stop offset="1" stop-color="#000000"/></linearGradient>
<rect x="340" y="261" width="24.5" height="195" fill="url(#h198)"/>
<linearGradient id="h199" x1="0" y1="0" x2="0" y2="1"><stop offset="0" stop-color="#8d8d8d"/><stop offset="0.056" stop-color="#979797"/><stop offset="0.108" stop-color="#a3a3a3"/><stop offset="0.21" stop-color="#b1b1b1"/><stop offset="0.344" stop-color="#bababa"/><stop offset="0.415" stop-color="#b5b5b5"/><stop offset="0.477" stop-color="#aaaaaa"/><stop offset="0.508" stop-color="#a0a0a0"/><stop offset="0.538" stop-color="#8f8f8f"/><stop offset="0.569" stop-color="#787878"/><stop offset="0.61" stop-color="#666666"/><stop offset="0.631" stop-color="#585858"/><stop offset="0.641" stop-color="#4e4e4e"/><stop offset="0.662" stop-color="#353535"/><stop offset="0.682" stop-color="#202020"/><stop offset="0.692" stop-color="#111111"/><stop offset="0.703" stop-color="#050505"/><stop offset="0.713" stop-color="#000000"/><stop offset="1" stop-color="#000000"/></linearGradient>
<rect x="364" y="261" width="24.5" height="195" fill="url(#h199)"/>
<linearGradient id="h200" x1="0" y1="0" x2="0" y2="1"><stop offset="0" stop-color="#8b8b8b"/><stop offset="0.046" stop-color="#949494"/><stop offset="0.128" stop-color="#a6a6a6"/><stop offset="0.21" stop-color="#b1b1b1"/><stop offset="0.344" stop-color="#bababa"/><stop offset="0.415" stop-color="#b5b5b5"/><stop offset="0.477" stop-color="#aaaaaa"/><stop offset="0.508" stop-color="#a0a0a0"/><stop offset="0.538" stop-color="#8f8f8f"/><stop offset="0.569" stop-color="#787878"/><stop offset="0.61" stop-color="#666666"/><stop offset="0.631" stop-color="#585858"/><stop offset="0.641" stop-color="#4e4e4e"/><stop offset="0.662" stop-color="#353535"/><stop offset="0.682" stop-color="#202020"/><stop offset="0.692" stop-color="#111111"/><stop offset="0.703" stop-color="#050505"/><stop offset="0.713" stop-color="#000000"/><stop offset="1" stop-color="#000000"/></linearGradient>
<rect x="388" y="261" width="24.5" height="195" fill="url(#h200)"/>
<linearGradient id="h201" x1="0" y1="0" x2="0" y2="1"><stop offset="0" stop-color="#8b8b8b"/><stop offset="0.056" stop-color="#969696"/><stop offset="0.118" stop-color="#a4a4a4"/><stop offset="0.2" stop-color="#b0b0b0"/><stop offset="0.344" stop-color="#bababa"/><stop offset="0.415" stop-color="#b5b5b5"/><stop offset="0.477" stop-color="#aaaaaa"/><stop offset="0.497" stop-color="#a5a5a5"/><stop offset="0.508" stop-color="#a1a1a1"/><stop offset="0.538" stop-color="#909090"/><stop offset="0.569" stop-color="#797979"/><stop offset="0.61" stop-color="#666666"/><stop offset="0.631" stop-color="#585858"/><stop offset="0.641" stop-color="#4f4f4f"/><stop offset="0.682" stop-color="#212121"/><stop offset="0.692" stop-color="#131313"/><stop offset="0.703" stop-color="#070707"/><stop offset="0.713" stop-color="#010101"/><stop offset="0.723" stop-color="#000000"/><stop offset="1" stop-color="#000000"/></linearGradient>
<rect x="412" y="261" width="24.5" height="195" fill="url(#h201)"/>
<linearGradient id="h202" x1="0" y1="0" x2="0" y2="1"><stop offset="0" stop-color="#8b8b8b"/><stop offset="0.046" stop-color="#949494"/><stop offset="0.118" stop-color="#a3a3a3"/><stop offset="0.21" stop-color="#b0b0b0"/><stop offset="0.313" stop-color="#b9b9b9"/><stop offset="0.354" stop-color="#bababa"/><stop offset="0.415" stop-color="#b6b6b6"/><stop offset="0.477" stop-color="#aaaaaa"/><stop offset="0.497" stop-color="#a5a5a5"/><stop offset="0.528" stop-color="#979797"/><stop offset="0.569" stop-color="#7c7c7c"/><stop offset="0.621" stop-color="#616161"/><stop offset="0.631" stop-color="#5a5a5a"/><stop offset="0.641" stop-color="#515151"/><stop offset="0.682" stop-color="#242424"/><stop offset="0.692" stop-color="#161616"/><stop offset="0.703" stop-color="#0a0a0a"/><stop offset="0.713" stop-color="#040404"/><stop offset="0.723" stop-color="#010101"/><stop offset="1" stop-color="#000000"/></linearGradient>
<rect x="436" y="261" width="24.5" height="195" fill="url(#h202)"/>
<linearGradient id="h203" x1="0" y1="0" x2="0" y2="1"><stop offset="0" stop-color="#8b8b8b"/><stop offset="0.046" stop-color="#949494"/><stop offset="0.087" stop-color="#9d9d9d"/><stop offset="0.292" stop-color="#b8b8b8"/><stop offset="0.364" stop-color="#bababa"/><stop offset="0.415" stop-color="#b6b6b6"/><stop offset="0.467" stop-color="#adadad"/><stop offset="0.497" stop-color="#a6a6a6"/><stop offset="0.528" stop-color="#999999"/><stop offset="0.579" stop-color="#7a7a7a"/><stop offset="0.631" stop-color="#5d5d5d"/><stop offset="0.641" stop-color="#545454"/><stop offset="0.682" stop-color="#282828"/><stop offset="0.692" stop-color="#1a1a1a"/><stop offset="0.703" stop-color="#0f0f0f"/><stop offset="0.713" stop-color="#070707"/><stop offset="0.723" stop-color="#010101"/><stop offset="1" stop-color="#000000"/></linearGradient>
<rect x="460" y="261" width="24.5" height="195" fill="url(#h203)"/>
<linearGradient id="h204" x1="0" y1="0" x2="0" y2="1"><stop offset="0" stop-color="#8b8b8b"/><stop offset="0.077" stop-color="#9b9b9b"/><stop offset="0.313" stop-color="#bababa"/><stop offset="0.364" stop-color="#bbbbbb"/><stop offset="0.415" stop-color="#b7b7b7"/><stop offset="0.477" stop-color="#ababab"/><stop offset="0.508" stop-color="#a3a3a3"/><stop offset="0.538" stop-color="#969696"/><stop offset="0.569" stop-color="#838383"/><stop offset="0.579" stop-color="#7e7e7e"/><stop offset="0.61" stop-color="#6a6a6a"/><stop offset="0.631" stop-color="#5f5f5f"/><stop offset="0.641" stop-color="#575757"/><stop offset="0.682" stop-color="#2c2c2c"/><stop offset="0.692" stop-color="#1e1e1e"/><stop offset="0.723" stop-color="#020202"/><stop offset="1" stop-color="#000000"/></linearGradient>
<rect x="484" y="261" width="24.5" height="195" fill="url(#h204)"/>
<linearGradient id="h205" x1="0" y1="0" x2="0" y2="1"><stop offset="0" stop-color="#8b8b8b"/><stop offset="0.077" stop-color="#9b9b9b"/><stop offset="0.313" stop-color="#bababa"/><stop offset="0.364" stop-color="#bbbbbb"/><stop offset="0.405" stop-color="#b9b9b9"/><stop offset="0.446" stop-color="#b2b2b2"/><stop offset="0.518" stop-color="#a1a1a1"/><stop offset="0.579" stop-color="#808080"/><stop offset="0.61" stop-color="#6b6b6b"/><stop offset="0.631" stop-color="#616161"/><stop offset="0.651" stop-color="#505050"/><stop offset="0.682" stop-color="#2e2e2e"/><stop offset="0.692" stop-color="#212121"/><stop offset="0.723" stop-color="#030303"/><stop offset="1" stop-color="#000000"/></linearGradient>
<rect x="508" y="261" width="24.5" height="195" fill="url(#h205)"/>
<linearGradient id="h206" x1="0" y1="0" x2="0" y2="1"><stop offset="0" stop-color="#8b8b8b"/><stop offset="0.077" stop-color="#9b9b9b"/><stop offset="0.313" stop-color="#bababa"/><stop offset="0.374" stop-color="#bbbbbb"/><stop offset="0.405" stop-color="#b9b9b9"/><stop offset="0.446" stop-color="#b2b2b2"/><stop offset="0.518" stop-color="#a1a1a1"/><stop offset="0.549" stop-color="#939393"/><stop offset="0.6" stop-color="#737373"/><stop offset="0.61" stop-color="#6b6b6b"/><stop offset="0.631" stop-color="#626262"/><stop offset="0.651" stop-color="#515151"/><stop offset="0.682" stop-color="#2f2f2f"/><stop offset="0.692" stop-color="#222222"/><stop offset="0.723" stop-color="#030303"/><stop offset="1" stop-color="#000000"/></linearGradient>
<rect x="532" y="261" width="24.5" height="195" fill="url(#h206)"/>
<linearGradient id="h207" x1="0" y1="0" x2="0" y2="1"><stop offset="0" stop-color="#8b8b8b"/><stop offset="0.077" stop-color="#9b9b9b"/><stop offset="0.313" stop-color="#bababa"/><stop offset="0.374" stop-color="#bbbbbb"/><stop offset="0.405" stop-color="#b9b9b9"/><stop offset="0.446" stop-color="#b2b2b2"/><stop offset="0.518" stop-color="#a1a1a1"/><stop offset="0.549" stop-color="#939393"/><stop offset="0.6" stop-color="#737373"/><stop offset="0.61" stop-color="#6b6b6b"/><stop offset="0.631" stop-color="#626262"/><stop offset="0.651" stop-color="#515151"/><stop offset="0.682" stop-color="#2f2f2f"/><stop offset="0.692" stop-color="#222222"/><stop offset="0.723" stop-color="#030303"/><stop offset="1" stop-color="#000000"/></linearGradient>
<rect x="556" y="261" width="24.5" height="195" fill="url(#h207)"/>
<linearGradient id="h208" x1="0" y1="0" x2="0" y2="1"><stop offset="0" stop-color="#8b8b8b"/><stop offset="0.077" stop-color="#9b9b9b"/><stop offset="0.313" stop-color="#bababa"/><stop offset="0.374" stop-color="#bbbbbb"/><stop offset="0.405" stop-color="#b9b9b9"/><stop offset="0.446" stop-color="#b2b2b2"/><stop offset="0.518" stop-color="#a1a1a1"/><stop offset="0.549" stop-color="#939393"/><stop offset="0.6" stop-color="#737373"/><stop offset="0.61" stop-color="#6b6b6b"/><stop offset="0.631" stop-color="#626262"/><stop offset="0.651" stop-color="#515151"/><stop offset="0.682" stop-color="#2f2f2f"/><stop offset="0.692" stop-color="#222222"/><stop offset="0.723" stop-color="#030303"/><stop offset="1" stop-color="#000000"/></linearGradient>
<rect x="580" y="261" width="24.5" height="195" fill="url(#h208)"/>
<linearGradient id="h209" x1="0" y1="0" x2="0" y2="1"><stop offset="0" stop-color="#8b8b8b"/><stop offset="0.077" stop-color="#9b9b9b"/><stop offset="0.313" stop-color="#bababa"/><stop offset="0.374" stop-color="#bbbbbb"/><stop offset="0.405" stop-color="#b9b9b9"/><stop offset="0.446" stop-color="#b2b2b2"/><stop offset="0.518" stop-color="#a1a1a1"/><stop offset="0.549" stop-color="#939393"/><stop offset="0.6" stop-color="#737373"/><stop offset="0.61" stop-color="#6b6b6b"/><stop offset="0.631" stop-color="#626262"/><stop offset="0.651" stop-color="#515151"/><stop offset="0.682" stop-color="#2f2f2f"/><stop offset="0.692" stop-color="#222222"/><stop offset="0.723" stop-color="#030303"/><stop offset="1" stop-color="#000000"/></linearGradient>
<rect x="604" y="261" width="24.5" height="195" fill="url(#h209)"/>
<linearGradient id="h210" x1="0" y1="0" x2="0" y2="1"><stop offset="0" stop-color="#8b8b8b"/><stop offset="0.077" stop-color="#9b9b9b"/><stop offset="0.313" stop-color="#bababa"/><stop offset="0.374" stop-color="#bbbbbb"/><stop offset="0.405" stop-color="#b9b9b9"/><stop offset="0.446" stop-color="#b2b2b2"/><stop offset="0.518" stop-color="#a1a1a1"/><stop offset="0.549" stop-color="#939393"/><stop offset="0.6" stop-color="#737373"/><stop offset="0.61" stop-color="#6b6b6b"/><stop offset="0.631" stop-color="#626262"/><stop offset="0.651" stop-color="#515151"/><stop offset="0.682" stop-color="#2f2f2f"/><stop offset="0.692" stop-color="#222222"/><stop offset="0.723" stop-color="#030303"/><stop offset="1" stop-color="#000000"/></linearGradient>
<rect x="628" y="261" width="24.5" height="195" fill="url(#h210)"/>
<linearGradient id="h211" x1="0" y1="0" x2="0" y2="1"><stop offset="0" stop-color="#8b8b8b"/><stop offset="0.077" stop-color="#9b9b9b"/><stop offset="0.313" stop-color="#bababa"/><stop offset="0.374" stop-color="#bbbbbb"/><stop offset="0.405" stop-color="#b9b9b9"/><stop offset="0.446" stop-color="#b2b2b2"/><stop offset="0.518" stop-color="#a1a1a1"/><stop offset="0.549" stop-color="#939393"/><stop offset="0.6" stop-color="#737373"/><stop offset="0.61" stop-color="#6b6b6b"/><stop offset="0.631" stop-color="#626262"/><stop offset="0.651" stop-color="#515151"/><stop offset="0.682" stop-color="#2f2f2f"/><stop offset="0.692" stop-color="#222222"/><stop offset="0.723" stop-color="#030303"/><stop offset="1" stop-color="#000000"/></linearGradient>
<rect x="652" y="261" width="24.5" height="195" fill="url(#h211)"/>
<linearGradient id="h212" x1="0" y1="0" x2="0" y2="1"><stop offset="0" stop-color="#8b8b8b"/><stop offset="0.077" stop-color="#9b9b9b"/><stop offset="0.313" stop-color="#bababa"/><stop offset="0.374" stop-color="#bbbbbb"/><stop offset="0.405" stop-color="#b9b9b9"/><stop offset="0.446" stop-color="#b2b2b2"/><stop offset="0.518" stop-color="#a1a1a1"/><stop offset="0.549" stop-color="#939393"/><stop offset="0.6" stop-color="#737373"/><stop offset="0.61" stop-color="#6b6b6b"/><stop offset="0.631" stop-color="#626262"/><stop offset="0.651" stop-color="#515151"/><stop offset="0.682" stop-color="#2f2f2f"/><stop offset="0.692" stop-color="#222222"/><stop offset="0.723" stop-color="#030303"/><stop offset="1" stop-color="#000000"/></linearGradient>
<rect x="676" y="261" width="24.5" height="195" fill="url(#h212)"/>
<linearGradient id="h213" x1="0" y1="0" x2="0" y2="1"><stop offset="0" stop-color="#8b8b8b"/><stop offset="0.077" stop-color="#9b9b9b"/><stop offset="0.313" stop-color="#bababa"/><stop offset="0.374" stop-color="#bbbbbb"/><stop offset="0.405" stop-color="#b9b9b9"/><stop offset="0.446" stop-color="#b2b2b2"/><stop offset="0.518" stop-color="#a1a1a1"/><stop offset="0.549" stop-color="#939393"/><stop offset="0.6" stop-color="#737373"/><stop offset="0.61" stop-color="#6b6b6b"/><stop offset="0.631" stop-color="#626262"/><stop offset="0.651" stop-color="#515151"/><stop offset="0.682" stop-color="#2f2f2f"/><stop offset="0.692" stop-color="#222222"/><stop offset="0.723" stop-color="#030303"/><stop offset="1" stop-color="#000000"/></linearGradient>
<rect x="700" y="261" width="24.5" height="195" fill="url(#h213)"/>
<linearGradient id="h214" x1="0" y1="0" x2="0" y2="1"><stop offset="0" stop-color="#8b8b8b"/><stop offset="0.077" stop-color="#9b9b9b"/><stop offset="0.313" stop-color="#bababa"/><stop offset="0.374" stop-color="#bbbbbb"/><stop offset="0.405" stop-color="#b9b9b9"/><stop offset="0.446" stop-color="#b2b2b2"/><stop offset="0.518" stop-color="#a1a1a1"/><stop offset="0.549" stop-color="#939393"/><stop offset="0.6" stop-color="#737373"/><stop offset="0.61" stop-color="#6b6b6b"/><stop offset="0.631" stop-color="#626262"/><stop offset="0.651" stop-color="#515151"/><stop offset="0.682" stop-color="#2f2f2f"/><stop offset="0.692" stop-color="#222222"/><stop offset="0.723" stop-color="#030303"/><stop offset="1" stop-color="#000000"/></linearGradient>
<rect x="724" y="261" width="24.5" height="195" fill="url(#h214)"/>
<linearGradient id="h215" x1="0" y1="0" x2="0" y2="1"><stop offset="0" stop-color="#8b8b8b"/><stop offset="0.077" stop-color="#9b9b9b"/><stop offset="0.313" stop-color="#bababa"/><stop offset="0.374" stop-color="#bbbbbb"/><stop offset="0.405" stop-color="#b9b9b9"/><stop offset="0.446" stop-color="#b2b2b2"/><stop offset="0.518" stop-color="#a1a1a1"/><stop offset="0.549" stop-color="#939393"/><stop offset="0.6" stop-color="#737373"/><stop offset="0.61" stop-color="#6b6b6b"/><stop offset="0.631" stop-color="#626262"/><stop offset="0.651" stop-color="#515151"/><stop offset="0.682" stop-color="#2f2f2f"/><stop offset="0.692" stop-color="#222222"/><stop offset="0.723" stop-color="#030303"/><stop offset="1" stop-color="#000000"/></linearGradient>
<rect x="748" y="261" width="24.5" height="195" fill="url(#h215)"/>
<linearGradient id="h216" x1="0" y1="0" x2="0" y2="1"><stop offset="0" stop-color="#8b8b8b"/><stop offset="0.077" stop-color="#9b9b9b"/><stop offset="0.313" stop-color="#bababa"/><stop offset="0.374" stop-color="#bbbbbb"/><stop offset="0.405" stop-color="#b9b9b9"/><stop offset="0.446" stop-color="#b2b2b2"/><stop offset="0.518" stop-color="#a1a1a1"/><stop offset="0.549" stop-color="#939393"/><stop offset="0.6" stop-color="#737373"/><stop offset="0.61" stop-color="#6b6b6b"/><stop offset="0.631" stop-color="#626262"/><stop offset="0.651" stop-color="#515151"/><stop offset="0.682" stop-color="#2f2f2f"/><stop offset="0.692" stop-color="#222222"/><stop offset="0.723" stop-color="#030303"/><stop offset="1" stop-color="#000000"/></linearGradient>
<rect x="772" y="261" width="24.5" height="195" fill="url(#h216)"/>
<linearGradient id="h217" x1="0" y1="0" x2="0" y2="1"><stop offset="0" stop-color="#8b8b8b"/><stop offset="0.077" stop-color="#9b9b9b"/><stop offset="0.313" stop-color="#bababa"/><stop offset="0.374" stop-color="#bbbbbb"/><stop offset="0.405" stop-color="#b9b9b9"/><stop offset="0.446" stop-color="#b2b2b2"/><stop offset="0.518" stop-color="#a1a1a1"/><stop offset="0.549" stop-color="#939393"/><stop offset="0.6" stop-color="#737373"/><stop offset="0.61" stop-color="#6b6b6b"/><stop offset="0.631" stop-color="#626262"/><stop offset="0.651" stop-color="#515151"/><stop offset="0.682" stop-color="#2f2f2f"/><stop offset="0.692" stop-color="#222222"/><stop offset="0.723" stop-color="#030303"/><stop offset="1" stop-color="#000000"/></linearGradient>
<rect x="796" y="261" width="24.5" height="195" fill="url(#h217)"/>
<linearGradient id="h218" x1="0" y1="0" x2="0" y2="1"><stop offset="0" stop-color="#8b8b8b"/><stop offset="0.077" stop-color="#9b9b9b"/><stop offset="0.313" stop-color="#bababa"/><stop offset="0.374" stop-color="#bbbbbb"/><stop offset="0.405" stop-color="#b9b9b9"/><stop offset="0.446" stop-color="#b2b2b2"/><stop offset="0.518" stop-color="#a1a1a1"/><stop offset="0.549" stop-color="#939393"/><stop offset="0.6" stop-color="#737373"/><stop offset="0.61" stop-color="#6b6b6b"/><stop offset="0.631" stop-color="#626262"/><stop offset="0.651" stop-color="#515151"/><stop offset="0.682" stop-color="#2f2f2f"/><stop offset="0.692" stop-color="#222222"/><stop offset="0.723" stop-color="#030303"/><stop offset="1" stop-color="#000000"/></linearGradient>
<rect x="820" y="261" width="24.5" height="195" fill="url(#h218)"/>
<linearGradient id="h219" x1="0" y1="0" x2="0" y2="1"><stop offset="0" stop-color="#8b8b8b"/><stop offset="0.077" stop-color="#9b9b9b"/><stop offset="0.313" stop-color="#bababa"/><stop offset="0.374" stop-color="#bbbbbb"/><stop offset="0.405" stop-color="#b9b9b9"/><stop offset="0.446" stop-color="#b2b2b2"/><stop offset="0.518" stop-color="#a1a1a1"/><stop offset="0.549" stop-color="#939393"/><stop offset="0.6" stop-color="#737373"/><stop offset="0.61" stop-color="#6b6b6b"/><stop offset="0.631" stop-color="#626262"/><stop offset="0.651" stop-color="#515151"/><stop offset="0.682" stop-color="#2f2f2f"/><stop offset="0.692" stop-color="#222222"/><stop offset="0.723" stop-color="#030303"/><stop offset="1" stop-color="#000000"/></linearGradient>
<rect x="844" y="261" width="24.5" height="195" fill="url(#h219)"/>
<linearGradient id="h220" x1="0" y1="0" x2="0" y2="1"><stop offset="0" stop-color="#8b8b8b"/><stop offset="0.077" stop-color="#9b9b9b"/><stop offset="0.313" stop-color="#bababa"/><stop offset="0.374" stop-color="#bbbbbb"/><stop offset="0.405" stop-color="#b9b9b9"/><stop offset="0.446" stop-color="#b2b2b2"/><stop offset="0.518" stop-color="#a1a1a1"/><stop offset="0.549" stop-color="#939393"/><stop offset="0.6" stop-color="#737373"/><stop offset="0.61" stop-color="#6b6b6b"/><stop offset="0.631" stop-color="#626262"/><stop offset="0.651" stop-color="#515151"/><stop offset="0.682" stop-color="#2f2f2f"/><stop offset="0.692" stop-color="#222222"/><stop offset="0.723" stop-color="#030303"/><stop offset="1" stop-color="#000000"/></linearGradient>
<rect x="868" y="261" width="24.5" height="195" fill="url(#h220)"/>
<linearGradient id="h221" x1="0" y1="0" x2="0" y2="1"><stop offset="0" stop-color="#8b8b8b"/><stop offset="0.077" stop-color="#9b9b9b"/><stop offset="0.313" stop-color="#bababa"/><stop offset="0.374" stop-color="#bbbbbb"/><stop offset="0.405" stop-color="#b9b9b9"/><stop offset="0.446" stop-color="#b2b2b2"/><stop offset="0.518" stop-color="#a1a1a1"/><stop offset="0.549" stop-color="#939393"/><stop offset="0.6" stop-color="#737373"/><stop offset="0.61" stop-color="#6b6b6b"/><stop offset="0.631" stop-color="#626262"/><stop offset="0.651" stop-color="#515151"/><stop offset="0.682" stop-color="#2f2f2f"/><stop offset="0.692" stop-color="#222222"/><stop offset="0.723" stop-color="#030303"/><stop offset="1" stop-color="#000000"/></linearGradient>
<rect x="892" y="261" width="24.5" height="195" fill="url(#h221)"/>
<linearGradient id="h222" x1="0" y1="0" x2="0" y2="1"><stop offset="0" stop-color="#8b8b8b"/><stop offset="0.077" stop-color="#9b9b9b"/><stop offset="0.313" stop-color="#bababa"/><stop offset="0.374" stop-color="#bbbbbb"/><stop offset="0.405" stop-color="#b9b9b9"/><stop offset="0.446" stop-color="#b2b2b2"/><stop offset="0.518" stop-color="#a1a1a1"/><stop offset="0.549" stop-color="#939393"/><stop offset="0.6" stop-color="#737373"/><stop offset="0.61" stop-color="#6b6b6b"/><stop offset="0.631" stop-color="#626262"/><stop offset="0.651" stop-color="#515151"/><stop offset="0.682" stop-color="#2f2f2f"/><stop offset="0.692" stop-color="#222222"/><stop offset="0.723" stop-color="#030303"/><stop offset="1" stop-color="#000000"/></linearGradient>
<rect x="916" y="261" width="24.5" height="195" fill="url(#h222)"/>
</g></g>
<text x="888.1" y="289.5" font-size="63" text-anchor="middle" fill="#808080" transform="rotate(-90 888.1 289.5)" fill-opacity="0.2">Forecast</text>
<clipPath id="cd1"><rect x="200" y="110" width="714" height="345"/></clipPath>
<path d="M190.55 227C191.05 226.7 192.55 226.1 193.55 225.2C194.55 224.3 195.55 222.8 196.55 221.6C197.55 220.4 198.55 219.05 199.55 218C200.55 216.95 201.55 215.85 202.55 215.3C203.55 214.75 204.48 214.95 205.55 214.7C206.62 214.45 207.93 214.55 209 213.8C210.07 213.05 211.1 211.6 212 210.2C212.9 208.8 213.6 207.1 214.4 205.4C215.2 203.7 216 201.55 216.8 200C217.6 198.45 218.4 196.9 219.2 196.1C220 195.3 220.6 195.15 221.6 195.2C222.6 195.25 224.1 195.95 225.2 196.4C226.3 196.85 227.1 197.8 228.2 197.9C229.3 198 230.6 197.55 231.8 197C233 196.45 234.3 194.85 235.4 194.6C236.5 194.35 237.6 194.8 238.4 195.5C239.2 196.2 239.6 197.65 240.2 198.8C240.8 199.95 241.3 201 242 202.4C242.7 203.8 243.6 205.7 244.4 207.2C245.2 208.7 245.9 210.3 246.8 211.4C247.7 212.5 248.6 213.35 249.8 213.8C251 214.25 252.8 213.85 254 214.1C255.2 214.35 256 214.55 257 215.3C258 216.05 259.1 217.55 260 218.6C260.9 219.65 261.5 220.5 262.4 221.6C263.3 222.7 264.2 224.35 265.4 225.2C266.6 226.05 268 226.4 269.6 226.7C271.2 227 273.3 226.95 275 227C276.7 227.05 278.5 227.3 279.8 227C281.1 226.7 281.8 226.1 282.8 225.2C283.8 224.3 284.8 222.8 285.8 221.6C286.8 220.4 287.8 219.05 288.8 218C289.8 216.95 290.8 215.85 291.8 215.3C292.8 214.75 293.73 214.95 294.8 214.7C295.88 214.45 297.18 214.55 298.25 213.8C299.32 213.05 300.35 211.6 301.25 210.2C302.15 208.8 302.85 207.1 303.65 205.4C304.45 203.7 305.25 201.55 306.05 200C306.85 198.45 307.65 196.9 308.45 196.1C309.25 195.3 309.85 195.15 310.85 195.2C311.85 195.25 313.35 195.95 314.45 196.4C315.55 196.85 316.35 197.8 317.45 197.9C318.55 198 319.85 197.55 321.05 197C322.25 196.45 323.55 194.85 324.65 194.6C325.75 194.35 326.85 194.8 327.65 195.5C328.45 196.2 328.85 197.65 329.45 198.8C330.05 199.95 330.55 201 331.25 202.4C331.95 203.8 332.85 205.7 333.65 207.2C334.45 208.7 335.15 210.3 336.05 211.4C336.95 212.5 337.85 213.35 339.05 213.8C340.25 214.25 342.05 213.85 343.25 214.1C344.45 214.35 345.25 214.55 346.25 215.3C347.25 216.05 348.35 217.55 349.25 218.6C350.15 219.65 350.75 220.5 351.65 221.6C352.55 222.7 353.45 224.35 354.65 225.2C355.85 226.05 357.25 226.4 358.85 226.7C360.45 227 362.55 226.95 364.25 227C365.95 227.05 367.75 227.3 369.05 227C370.35 226.7 371.05 226.1 372.05 225.2C373.05 224.3 374.05 222.8 375.05 221.6C376.05 220.4 377.05 219.05 378.05 218C379.05 216.95 380.05 215.85 381.05 215.3C382.05 214.75 382.98 214.95 384.05 214.7C385.12 214.45 386.43 214.55 387.5 213.8C388.57 213.05 389.6 211.6 390.5 210.2C391.4 208.8 392.1 207.1 392.9 205.4C393.7 203.7 394.5 201.55 395.3 200C396.1 198.45 396.9 196.9 397.7 196.1C398.5 195.3 399.1 195.15 400.1 195.2C401.1 195.25 402.6 195.95 403.7 196.4C404.8 196.85 405.6 197.8 406.7 197.9C407.8 198 409.1 197.55 410.3 197C411.5 196.45 412.8 194.85 413.9 194.6C415 194.35 416.1 194.8 416.9 195.5C417.7 196.2 418.1 197.65 418.7 198.8C419.3 199.95 419.8 201 420.5 202.4C421.2 203.8 422.1 205.7 422.9 207.2C423.7 208.7 424.4 210.3 425.3 211.4C426.2 212.5 427.1 213.35 428.3 213.8C429.5 214.25 431.3 213.85 432.5 214.1C433.7 214.35 434.5 214.55 435.5 215.3C436.5 216.05 437.6 217.55 438.5 218.6C439.4 219.65 440 220.5 440.9 221.6C441.8 222.7 442.7 224.35 443.9 225.2C445.1 226.05 446.5 226.4 448.1 226.7C449.7 227 451.8 226.95 453.5 227C455.2 227.05 457 227.3 458.3 227C459.6 226.7 460.3 226.1 461.3 225.2C462.3 224.3 463.3 222.8 464.3 221.6C465.3 220.4 466.3 219.05 467.3 218C468.3 216.95 469.3 215.85 470.3 215.3C471.3 214.75 472.23 214.95 473.3 214.7C474.38 214.45 475.68 214.55 476.75 213.8C477.82 213.05 478.85 211.6 479.75 210.2C480.65 208.8 481.35 207.1 482.15 205.4C482.95 203.7 483.75 201.55 484.55 200C485.35 198.45 486.15 196.9 486.95 196.1C487.75 195.3 488.35 195.15 489.35 195.2C490.35 195.25 491.85 195.95 492.95 196.4C494.05 196.85 494.85 197.8 495.95 197.9C497.05 198 498.35 197.55 499.55 197C500.75 196.45 502.05 194.85 503.15 194.6C504.25 194.35 505.35 194.8 506.15 195.5C506.95 196.2 507.35 197.65 507.95 198.8C508.55 199.95 509.05 201 509.75 202.4C510.45 203.8 511.35 205.7 512.15 207.2C512.95 208.7 513.65 210.3 514.55 211.4C515.45 212.5 516.35 213.35 517.55 213.8C518.75 214.25 520.55 213.85 521.75 214.1C522.95 214.35 523.75 214.55 524.75 215.3C525.75 216.05 526.85 217.55 527.75 218.6C528.65 219.65 529.25 220.5 530.15 221.6C531.05 222.7 531.95 224.35 533.15 225.2C534.35 226.05 535.75 226.4 537.35 226.7C538.95 227 541.05 226.95 542.75 227C544.45 227.05 546.25 227.3 547.55 227C548.85 226.7 549.55 226.1 550.55 225.2C551.55 224.3 552.55 222.8 553.55 221.6C554.55 220.4 555.55 219.05 556.55 218C557.55 216.95 558.55 215.85 559.55 215.3C560.55 214.75 561.47 214.95 562.55 214.7C563.62 214.45 564.92 214.55 566 213.8C567.08 213.05 568.1 211.6 569 210.2C569.9 208.8 570.6 207.1 571.4 205.4C572.2 203.7 573 201.55 573.8 200C574.6 198.45 575.4 196.9 576.2 196.1C577 195.3 577.6 195.15 578.6 195.2C579.6 195.25 581.1 195.95 582.2 196.4C583.3 196.85 584.1 197.8 585.2 197.9C586.3 198 587.6 197.55 588.8 197C590 196.45 591.3 194.85 592.4 194.6C593.5 194.35 594.6 194.8 595.4 195.5C596.2 196.2 596.6 197.65 597.2 198.8C597.8 199.95 598.3 201 599 202.4C599.7 203.8 600.6 205.7 601.4 207.2C602.2 208.7 602.9 210.3 603.8 211.4C604.7 212.5 605.6 213.35 606.8 213.8C608 214.25 609.8 213.85 611 214.1C612.2 214.35 613 214.55 614 215.3C615 216.05 616.1 217.55 617 218.6C617.9 219.65 618.5 220.5 619.4 221.6C620.3 222.7 621.2 224.35 622.4 225.2C623.6 226.05 625 226.4 626.6 226.7C628.2 227 630.3 226.95 632 227C633.7 227.05 635.5 227.3 636.8 227C638.1 226.7 638.8 226.1 639.8 225.2C640.8 224.3 641.8 222.8 642.8 221.6C643.8 220.4 644.8 219.05 645.8 218C646.8 216.95 647.8 215.85 648.8 215.3C649.8 214.75 650.72 214.95 651.8 214.7C652.88 214.45 654.17 214.55 655.25 213.8C656.33 213.05 657.35 211.6 658.25 210.2C659.15 208.8 659.85 207.1 660.65 205.4C661.45 203.7 662.25 201.55 663.05 200C663.85 198.45 664.65 196.9 665.45 196.1C666.25 195.3 666.85 195.15 667.85 195.2C668.85 195.25 670.35 195.95 671.45 196.4C672.55 196.85 673.35 197.8 674.45 197.9C675.55 198 676.85 197.55 678.05 197C679.25 196.45 680.55 194.85 681.65 194.6C682.75 194.35 683.85 194.8 684.65 195.5C685.45 196.2 685.85 197.65 686.45 198.8C687.05 199.95 687.55 201 688.25 202.4C688.95 203.8 689.85 205.7 690.65 207.2C691.45 208.7 692.15 210.3 693.05 211.4C693.95 212.5 694.85 213.35 696.05 213.8C697.25 214.25 699.05 213.85 700.25 214.1C701.45 214.35 702.25 214.55 703.25 215.3C704.25 216.05 705.35 217.55 706.25 218.6C707.15 219.65 707.75 220.5 708.65 221.6C709.55 222.7 710.45 224.35 711.65 225.2C712.85 226.05 714.25 226.4 715.85 226.7C717.45 227 719.55 226.95 721.25 227C722.95 227.05 724.75 227.3 726.05 227C727.35 226.7 728.05 226.1 729.05 225.2C730.05 224.3 731.05 222.8 732.05 221.6C733.05 220.4 734.05 219.05 735.05 218C736.05 216.95 737.05 215.85 738.05 215.3C739.05 214.75 739.97 214.95 741.05 214.7C742.12 214.45 743.42 214.55 744.5 213.8C745.58 213.05 746.6 211.6 747.5 210.2C748.4 208.8 749.1 207.1 749.9 205.4C750.7 203.7 751.5 201.55 752.3 200C753.1 198.45 753.9 196.9 754.7 196.1C755.5 195.3 756.1 195.15 757.1 195.2C758.1 195.25 759.6 195.95 760.7 196.4C761.8 196.85 762.6 197.8 763.7 197.9C764.8 198 766.1 197.55 767.3 197C768.5 196.45 769.8 194.85 770.9 194.6C772 194.35 773.1 194.8 773.9 195.5C774.7 196.2 775.1 197.65 775.7 198.8C776.3 199.95 776.8 201 777.5 202.4C778.2 203.8 779.1 205.7 779.9 207.2C780.7 208.7 781.4 210.3 782.3 211.4C783.2 212.5 784.1 213.35 785.3 213.8C786.5 214.25 788.3 213.85 789.5 214.1C790.7 214.35 791.5 214.55 792.5 215.3C793.5 216.05 794.6 217.55 795.5 218.6C796.4 219.65 797 220.5 797.9 221.6C798.8 222.7 799.7 224.35 800.9 225.2C802.1 226.05 803.5 226.4 805.1 226.7C806.7 227 808.8 226.95 810.5 227C812.2 227.05 814 227.3 815.3 227C816.6 226.7 817.3 226.1 818.3 225.2C819.3 224.3 820.3 222.8 821.3 221.6C822.3 220.4 823.3 219.05 824.3 218C825.3 216.95 826.3 215.85 827.3 215.3C828.3 214.75 829.22 214.95 830.3 214.7C831.38 214.45 832.67 214.55 833.75 213.8C834.83 213.05 835.85 211.6 836.75 210.2C837.65 208.8 838.35 207.1 839.15 205.4C839.95 203.7 840.75 201.55 841.55 200C842.35 198.45 843.15 196.9 843.95 196.1C844.75 195.3 845.35 195.15 846.35 195.2C847.35 195.25 848.85 195.95 849.95 196.4C851.05 196.85 851.85 197.8 852.95 197.9C854.05 198 855.35 197.55 856.55 197C857.75 196.45 859.05 194.85 860.15 194.6C861.25 194.35 862.35 194.8 863.15 195.5C863.95 196.2 864.35 197.65 864.95 198.8C865.55 199.95 866.05 201 866.75 202.4C867.45 203.8 868.35 205.7 869.15 207.2C869.95 208.7 870.65 210.3 871.55 211.4C872.45 212.5 873.35 213.35 874.55 213.8C875.75 214.25 877.55 213.85 878.75 214.1C879.95 214.35 880.75 214.55 881.75 215.3C882.75 216.05 883.85 217.55 884.75 218.6C885.65 219.65 886.25 220.5 887.15 221.6C888.05 222.7 888.95 224.35 890.15 225.2C891.35 226.05 892.75 226.4 894.35 226.7C895.95 227 898.05 226.95 899.75 227C901.45 227.05 903.25 227.3 904.55 227C905.85 226.7 906.55 226.1 907.55 225.2C908.55 224.3 909.55 222.8 910.55 221.6C911.55 220.4 912.55 219.05 913.55 218C914.55 216.95 915.55 215.85 916.55 215.3C917.55 214.75 918.47 214.95 919.55 214.7C920.62 214.45 922.42 213.95 923 213.8" fill="none" stroke="#000" stroke-width="2.6" stroke-dasharray="7.7 3.3" stroke-dashoffset="2" clip-path="url(#cd1)"/>
<line x1="825" y1="110" x2="825" y2="455" stroke="#1f77b4" stroke-width="2" stroke-dasharray="2.08 3.44"/>
<line x1="229" y1="111" x2="229" y2="120" stroke="#000" stroke-width="4.2" />
<text x="230" y="138.9" font-size="13.9" text-anchor="middle" fill="#000" >M</text>
<line x1="273" y1="111" x2="273" y2="120" stroke="#f00" stroke-width="4.2" />
<text x="274" y="138.9" font-size="13.9" text-anchor="middle" fill="#f00" >N</text>
<line x1="318.25" y1="111" x2="318.25" y2="120" stroke="#000" stroke-width="4.2" />
<text x="319.25" y="138.9" font-size="13.9" text-anchor="middle" fill="#000" >M</text>
<line x1="362.25" y1="111" x2="362.25" y2="120" stroke="#f00" stroke-width="4.2" />
<text x="363.25" y="138.9" font-size="13.9" text-anchor="middle" fill="#f00" >N</text>
<line x1="407.5" y1="111" x2="407.5" y2="120" stroke="#000" stroke-width="4.2" />
<text x="408.5" y="138.9" font-size="13.9" text-anchor="middle" fill="#000" >M</text>
<line x1="451.5" y1="111" x2="451.5" y2="120" stroke="#f00" stroke-width="4.2" />
<text x="452.5" y="138.9" font-size="13.9" text-anchor="middle" fill="#f00" >N</text>
<line x1="496.75" y1="111" x2="496.75" y2="120" stroke="#000" stroke-width="4.2" />
<text x="497.75" y="138.9" font-size="13.9" text-anchor="middle" fill="#000" >M</text>
<line x1="540.75" y1="111" x2="540.75" y2="120" stroke="#f00" stroke-width="4.2" />
<text x="541.75" y="138.9" font-size="13.9" text-anchor="middle" fill="#f00" >N</text>
<line x1="586" y1="111" x2="586" y2="120" stroke="#000" stroke-width="4.2" />
<text x="587" y="138.9" font-size="13.9" text-anchor="middle" fill="#000" >M</text>
<line x1="630" y1="111" x2="630" y2="120" stroke="#f00" stroke-width="4.2" />
<text x="631" y="138.9" font-size="13.9" text-anchor="middle" fill="#f00" >N</text>
<line x1="675.25" y1="111" x2="675.25" y2="120" stroke="#000" stroke-width="4.2" />
<text x="676.25" y="138.9" font-size="13.9" text-anchor="middle" fill="#000" >M</text>
<line x1="719.25" y1="111" x2="719.25" y2="120" stroke="#f00" stroke-width="4.2" />
<text x="720.25" y="138.9" font-size="13.9" text-anchor="middle" fill="#f00" >N</text>
<line x1="764.5" y1="111" x2="764.5" y2="120" stroke="#000" stroke-width="4.2" />
<text x="765.5" y="138.9" font-size="13.9" text-anchor="middle" fill="#000" >M</text>
<line x1="808.5" y1="111" x2="808.5" y2="120" stroke="#f00" stroke-width="4.2" />
<text x="809.5" y="138.9" font-size="13.9" text-anchor="middle" fill="#f00" >N</text>
<rect x="200" y="110" width="714" height="345" fill="none" stroke="#000" stroke-width="2"/>
<line x1="248.5" y1="455" x2="248.5" y2="449.6" stroke="#000" stroke-width="1.4" />
<line x1="337.75" y1="455" x2="337.75" y2="449.6" stroke="#000" stroke-width="1.4" />
<line x1="427" y1="455" x2="427" y2="449.6" stroke="#000" stroke-width="1.4" />
<line x1="516.25" y1="455" x2="516.25" y2="449.6" stroke="#000" stroke-width="1.4" />
<line x1="605.5" y1="455" x2="605.5" y2="449.6" stroke="#000" stroke-width="1.4" />
<line x1="694.75" y1="455" x2="694.75" y2="449.6" stroke="#000" stroke-width="1.4" />
<line x1="784" y1="455" x2="784" y2="449.6" stroke="#000" stroke-width="1.4" />
<line x1="873.25" y1="455" x2="873.25" y2="449.6" stroke="#000" stroke-width="1.4" />
<line x1="200" y1="455" x2="205.4" y2="455" stroke="#000" stroke-width="1.4" />
<line x1="914" y1="455" x2="908.6" y2="455" stroke="#000" stroke-width="1.4" />
<line x1="200" y1="397.5" x2="205.4" y2="397.5" stroke="#000" stroke-width="1.4" />
<line x1="914" y1="397.5" x2="908.6" y2="397.5" stroke="#000" stroke-width="1.4" />
<line x1="200" y1="340" x2="205.4" y2="340" stroke="#000" stroke-width="1.4" />
<line x1="914" y1="340" x2="908.6" y2="340" stroke="#000" stroke-width="1.4" />
<line x1="200" y1="282.5" x2="205.4" y2="282.5" stroke="#000" stroke-width="1.4" />
<line x1="914" y1="282.5" x2="908.6" y2="282.5" stroke="#000" stroke-width="1.4" />
<line x1="200" y1="225" x2="205.4" y2="225" stroke="#000" stroke-width="1.4" />
<line x1="914" y1="225" x2="908.6" y2="225" stroke="#000" stroke-width="1.4" />
<line x1="200" y1="167.5" x2="205.4" y2="167.5" stroke="#000" stroke-width="1.4" />
<line x1="914" y1="167.5" x2="908.6" y2="167.5" stroke="#000" stroke-width="1.4" />
<line x1="200" y1="110" x2="205.4" y2="110" stroke="#000" stroke-width="1.4" />
<line x1="914" y1="110" x2="908.6" y2="110" stroke="#000" stroke-width="1.4" />
<text x="195.8" y="462.3" font-size="20" text-anchor="end" fill="#000" >2</text>
<text x="195.8" y="404.8" font-size="20" text-anchor="end" fill="#000" >3</text>
<text x="195.8" y="347.3" font-size="20" text-anchor="end" fill="#000" >4</text>
<text x="195.8" y="289.8" font-size="20" text-anchor="end" fill="#000" >5</text>
<text x="195.8" y="232.3" font-size="20" text-anchor="end" fill="#000" >6</text>
<text x="195.8" y="174.8" font-size="20" text-anchor="end" fill="#000" >7</text>
<text x="195.8" y="117.3" font-size="20" text-anchor="end" fill="#000" >8</text>
<text x="173" y="285.3" font-size="24" text-anchor="middle" fill="#000" transform="rotate(-90 173 285.3)" >L*</text>
<text fill="#000"><tspan x="203.46" y="92.8" font-size="24">&gt;2.0 MeV Electron Flux at 88</tspan><tspan x="558.86" y="83.8" font-size="16.8">∘</tspan><tspan x="580.62" y="92.8" font-size="24">pitch angle</tspan><tspan x="722.64" y="92.8" font-size="24">(</tspan><tspan x="739.88" y="92.8" font-size="24">cm</tspan><tspan x="776.04" y="83" font-size="16.8">−2</tspan><tspan x="805.7" y="92.8" font-size="24">s</tspan><tspan x="817.74" y="83" font-size="16.8">−1</tspan><tspan x="847.7" y="92.8" font-size="24">sr</tspan><tspan x="870.2" y="83" font-size="16.8">−1</tspan><tspan x="904.08" y="92.8" font-size="24">)</tspan></text>
<defs><linearGradient id="jet" x1="0" y1="1" x2="0" y2="0">
<stop offset="0" stop-color="#000080"/>
<stop offset="0.03" stop-color="#0000a4"/>
<stop offset="0.06" stop-color="#0000c8"/>
<stop offset="0.09" stop-color="#0000ed"/>
<stop offset="0.12" stop-color="#0000ff"/>
<stop offset="0.16" stop-color="#0020ff"/>
<stop offset="0.19" stop-color="#0040ff"/>
<stop offset="0.22" stop-color="#0060ff"/>
<stop offset="0.25" stop-color="#0080ff"/>
<stop offset="0.28" stop-color="#00a0ff"/>
<stop offset="0.31" stop-color="#00c0ff"/>
<stop offset="0.34" stop-color="#00e0fb"/>
<stop offset="0.38" stop-color="#16ffe1"/>
<stop offset="0.41" stop-color="#30ffc7"/>
<stop offset="0.44" stop-color="#49ffad"/>
<stop offset="0.47" stop-color="#63ff94"/>
<stop offset="0.5" stop-color="#7dff7a"/>
<stop offset="0.53" stop-color="#97ff60"/>
<stop offset="0.56" stop-color="#b1ff46"/>
<stop offset="0.59" stop-color="#caff2c"/>
<stop offset="0.62" stop-color="#e4ff13"/>
<stop offset="0.66" stop-color="#feed00"/>
<stop offset="0.69" stop-color="#ffd000"/>
<stop offset="0.72" stop-color="#ffb200"/>
<stop offset="0.75" stop-color="#ff9400"/>
<stop offset="0.78" stop-color="#ff7700"/>
<stop offset="0.81" stop-color="#ff5900"/>
<stop offset="0.84" stop-color="#ff3b00"/>
<stop offset="0.88" stop-color="#ff1e00"/>
<stop offset="0.91" stop-color="#e80000"/>
<stop offset="0.94" stop-color="#c40000"/>
<stop offset="0.97" stop-color="#9f0000"/>
<stop offset="1" stop-color="#800000"/>
</linearGradient></defs>
<rect x="959.0" y="110.0" width="17.0" height="345.0" fill="url(#jet)" stroke="#000" stroke-width="2"/>
<line x1="976" y1="455" x2="982" y2="455" stroke="#000" stroke-width="1.4" />
<line x1="976" y1="437.69" x2="982" y2="437.69" stroke="#000" stroke-width="1.2" />
<line x1="976" y1="427.57" x2="982" y2="427.57" stroke="#000" stroke-width="1.2" />
<line x1="976" y1="420.38" x2="982" y2="420.38" stroke="#000" stroke-width="1.2" />
<line x1="976" y1="414.81" x2="982" y2="414.81" stroke="#000" stroke-width="1.2" />
<line x1="976" y1="410.26" x2="982" y2="410.26" stroke="#000" stroke-width="1.2" />
<line x1="976" y1="406.41" x2="982" y2="406.41" stroke="#000" stroke-width="1.2" />
<line x1="976" y1="403.07" x2="982" y2="403.07" stroke="#000" stroke-width="1.2" />
<line x1="976" y1="400.13" x2="982" y2="400.13" stroke="#000" stroke-width="1.2" />
<text x="986.9" y="463.1" font-size="20" text-anchor="start" fill="#000" >10<tspan font-size="14.0" dy="-6.2">0</tspan></text>
<line x1="976" y1="397.5" x2="982" y2="397.5" stroke="#000" stroke-width="1.4" />
<line x1="976" y1="380.19" x2="982" y2="380.19" stroke="#000" stroke-width="1.2" />
<line x1="976" y1="370.07" x2="982" y2="370.07" stroke="#000" stroke-width="1.2" />
<line x1="976" y1="362.88" x2="982" y2="362.88" stroke="#000" stroke-width="1.2" />
<line x1="976" y1="357.31" x2="982" y2="357.31" stroke="#000" stroke-width="1.2" />
<line x1="976" y1="352.76" x2="982" y2="352.76" stroke="#000" stroke-width="1.2" />
<line x1="976" y1="348.91" x2="982" y2="348.91" stroke="#000" stroke-width="1.2" />
<line x1="976" y1="345.57" x2="982" y2="345.57" stroke="#000" stroke-width="1.2" />
<line x1="976" y1="342.63" x2="982" y2="342.63" stroke="#000" stroke-width="1.2" />
<text x="986.9" y="405.6" font-size="20" text-anchor="start" fill="#000" >10<tspan font-size="14.0" dy="-6.2">1</tspan></text>
<line x1="976" y1="340" x2="982" y2="340" stroke="#000" stroke-width="1.4" />
<line x1="976" y1="322.69" x2="982" y2="322.69" stroke="#000" stroke-width="1.2" />
<line x1="976" y1="312.57" x2="982" y2="312.57" stroke="#000" stroke-width="1.2" />
<line x1="976" y1="305.38" x2="982" y2="305.38" stroke="#000" stroke-width="1.2" />
<line x1="976" y1="299.81" x2="982" y2="299.81" stroke="#000" stroke-width="1.2" />
<line x1="976" y1="295.26" x2="982" y2="295.26" stroke="#000" stroke-width="1.2" />
<line x1="976" y1="291.41" x2="982" y2="291.41" stroke="#000" stroke-width="1.2" />
<line x1="976" y1="288.07" x2="982" y2="288.07" stroke="#000" stroke-width="1.2" />
<line x1="976" y1="285.13" x2="982" y2="285.13" stroke="#000" stroke-width="1.2" />
<text x="986.9" y="348.1" font-size="20" text-anchor="start" fill="#000" >10<tspan font-size="14.0" dy="-6.2">2</tspan></text>
<line x1="976" y1="282.5" x2="982" y2="282.5" stroke="#000" stroke-width="1.4" />
<line x1="976" y1="265.19" x2="982" y2="265.19" stroke="#000" stroke-width="1.2" />
<line x1="976" y1="255.07" x2="982" y2="255.07" stroke="#000" stroke-width="1.2" />
<line x1="976" y1="247.88" x2="982" y2="247.88" stroke="#000" stroke-width="1.2" />
<line x1="976" y1="242.31" x2="982" y2="242.31" stroke="#000" stroke-width="1.2" />
<line x1="976" y1="237.76" x2="982" y2="237.76" stroke="#000" stroke-width="1.2" />
<line x1="976" y1="233.91" x2="982" y2="233.91" stroke="#000" stroke-width="1.2" />
<line x1="976" y1="230.57" x2="982" y2="230.57" stroke="#000" stroke-width="1.2" />
<line x1="976" y1="227.63" x2="982" y2="227.63" stroke="#000" stroke-width="1.2" />
<text x="986.9" y="290.6" font-size="20" text-anchor="start" fill="#000" >10<tspan font-size="14.0" dy="-6.2">3</tspan></text>
<line x1="976" y1="225" x2="982" y2="225" stroke="#000" stroke-width="1.4" />
<line x1="976" y1="207.69" x2="982" y2="207.69" stroke="#000" stroke-width="1.2" />
<line x1="976" y1="197.57" x2="982" y2="197.57" stroke="#000" stroke-width="1.2" />
<line x1="976" y1="190.38" x2="982" y2="190.38" stroke="#000" stroke-width="1.2" />
<line x1="976" y1="184.81" x2="982" y2="184.81" stroke="#000" stroke-width="1.2" />
<line x1="976" y1="180.26" x2="982" y2="180.26" stroke="#000" stroke-width="1.2" />
<line x1="976" y1="176.41" x2="982" y2="176.41" stroke="#000" stroke-width="1.2" />
<line x1="976" y1="173.07" x2="982" y2="173.07" stroke="#000" stroke-width="1.2" />
<line x1="976" y1="170.13" x2="982" y2="170.13" stroke="#000" stroke-width="1.2" />
<text x="986.9" y="233.1" font-size="20" text-anchor="start" fill="#000" >10<tspan font-size="14.0" dy="-6.2">4</tspan></text>
<line x1="976" y1="167.5" x2="982" y2="167.5" stroke="#000" stroke-width="1.4" />
<line x1="976" y1="150.19" x2="982" y2="150.19" stroke="#000" stroke-width="1.2" />
<line x1="976" y1="140.07" x2="982" y2="140.07" stroke="#000" stroke-width="1.2" />
<line x1="976" y1="132.88" x2="982" y2="132.88" stroke="#000" stroke-width="1.2" />
<line x1="976" y1="127.31" x2="982" y2="127.31" stroke="#000" stroke-width="1.2" />
<line x1="976" y1="122.76" x2="982" y2="122.76" stroke="#000" stroke-width="1.2" />
<line x1="976" y1="118.91" x2="982" y2="118.91" stroke="#000" stroke-width="1.2" />
<line x1="976" y1="115.57" x2="982" y2="115.57" stroke="#000" stroke-width="1.2" />
<line x1="976" y1="112.63" x2="982" y2="112.63" stroke="#000" stroke-width="1.2" />
<text x="986.9" y="175.6" font-size="20" text-anchor="start" fill="#000" >10<tspan font-size="14.0" dy="-6.2">5</tspan></text>
<line x1="976" y1="110" x2="982" y2="110" stroke="#000" stroke-width="1.4" />
<text x="986.9" y="118.1" font-size="20" text-anchor="start" fill="#000" >10<tspan font-size="14.0" dy="-6.2">6</tspan></text>
<rect x="825" y="478.0" width="89" height="344.0" fill="#d3d3d3"/>
<text x="888" y="657.5" font-size="63" text-anchor="middle" fill="#808080" transform="rotate(-90 888 657.5)" fill-opacity="0.2">Forecast</text>
<clipPath id="ca2"><rect x="200" y="478" width="714" height="344"/></clipPath>
<g clip-path="url(#ca2)">
<path d="M200.4 648.6C201.1 648.7 203.5 649 204.6 649.2C205.7 649.4 206.1 649.4 207 649.8C207.9 650.2 209.1 650.7 210 651.6C210.9 652.5 211.6 653.6 212.4 655.2C213.2 656.8 214 659.2 214.8 661.2C215.6 663.2 216.4 665.5 217.2 667.2C218 668.9 218.7 670.5 219.6 671.4C220.5 672.3 221.6 672.5 222.6 672.6C223.6 672.7 224.7 672.2 225.6 672C226.5 671.8 227.2 671.2 228 671.4C228.8 671.6 229.5 672.2 230.4 673.2C231.3 674.2 232.4 676.4 233.4 677.4C234.4 678.4 235.5 679.1 236.4 679.2C237.3 679.3 238 679 238.8 678C239.6 677 240.4 675 241.2 673.2C242 671.4 242.8 669.1 243.6 667.2C244.4 665.3 245.2 663.2 246 661.8C246.8 660.4 247.7 659.44 248.4 658.8C249.1 658.16 249.5 657.96 250.2 657.96C250.9 657.96 251.7 658.7 252.6 658.8C253.5 658.9 254.7 658.86 255.6 658.56C256.5 658.26 257.2 657.66 258 657C258.8 656.34 259.6 655.6 260.4 654.6C261.2 653.6 261.9 652.1 262.8 651C263.7 649.9 264.7 648.64 265.8 648C266.9 647.36 268.2 647.26 269.4 647.16C270.6 647.06 271.8 647.26 273 647.4C274.2 647.54 275.6 647.84 276.6 648C277.6 648.16 278.2 648.06 279 648.36C279.8 648.66 280.6 649.06 281.4 649.8C282.2 650.54 283 651.3 283.8 652.8C284.6 654.3 285.4 656.8 286.2 658.8C287 660.8 287.8 662.8 288.6 664.8C289.4 666.8 290.2 669.1 291 670.8C291.8 672.5 292.5 673.6 293.4 675C294.3 676.4 295.5 677.8 296.4 679.2C297.3 680.6 298.1 681.8 298.8 683.4C299.5 685 300.1 686.7 300.6 688.8C301.1 690.9 301.4 693.8 301.8 696C302.2 698.2 302.5 699.8 303 702C303.5 704.2 304.1 706.7 304.8 709.2C305.5 711.7 306.5 715 307.2 717C307.9 719 308.2 720.5 309 721.2C309.8 721.9 311 721.7 312 721.2C313 720.7 314.1 719 315 718.2C315.9 717.4 316.6 716.6 317.4 716.4C318.2 716.2 319 716.5 319.8 717C320.6 717.5 321.3 718.5 322.2 719.4C323.1 720.3 324.4 722 325.2 722.4C326 722.8 326.3 722.7 327 721.8C327.7 720.9 328.6 719.1 329.4 717C330.2 714.9 331 711.7 331.8 709.2C332.6 706.7 333.4 704.1 334.2 702C335 699.9 335.8 697.9 336.6 696.6C337.4 695.3 338.1 694.74 339 694.2C339.9 693.66 341 693.66 342 693.36C343 693.06 344 692.96 345 692.4C346 691.84 347 691.2 348 690C349 688.8 350.1 686.8 351 685.2C351.9 683.6 352.6 681.7 353.4 680.4C354.2 679.1 355 678.1 355.8 677.4C356.6 676.7 357.2 676.44 358.2 676.2C359.2 675.96 360.6 676.06 361.8 675.96C363 675.86 364.3 675.7 365.4 675.6C366.5 675.5 367.5 675.16 368.4 675.36C369.3 675.56 370 675.96 370.8 676.8C371.6 677.64 372.4 679 373.2 680.4C374 681.8 374.8 683.7 375.6 685.2C376.4 686.7 377.2 688.34 378 689.4C378.8 690.46 379.5 691.1 380.4 691.56C381.3 692.02 382.4 692.02 383.4 692.16C384.4 692.3 385.5 691.96 386.4 692.4C387.3 692.84 388 693.8 388.8 694.8C389.6 695.8 390.4 697.2 391.2 698.4C392 699.6 392.8 701 393.6 702C394.4 703 395.1 703.84 396 704.4C396.9 704.96 398 705.36 399 705.36C400 705.36 401 704.76 402 704.4C403 704.04 404 703.48 405 703.2C406 702.92 407 702.62 408 702.72C409 702.82 410.1 703.32 411 703.8C411.9 704.28 412.7 705.2 413.4 705.6C414.1 706 414.6 706.6 415.2 706.2C415.8 705.8 416.1 704.7 417 703.2C417.9 701.7 419.4 699 420.6 697.2C421.8 695.4 423 693.6 424.2 692.4C425.4 691.2 426.6 690.56 427.8 690C429 689.44 430.2 689.44 431.4 689.04C432.6 688.64 433.9 688.44 435 687.6C436.1 686.76 437.1 685.2 438 684C438.9 682.8 439.5 681.6 440.4 680.4C441.3 679.2 442.3 677.7 443.4 676.8C444.5 675.9 445.8 675.4 447 675C448.2 674.6 449.4 674.66 450.6 674.4C451.8 674.14 453 673.64 454.2 673.44C455.4 673.24 456.9 672.94 457.8 673.2C458.7 673.46 458.9 674 459.6 675C460.3 676 461.2 677.7 462 679.2C462.8 680.7 463.6 682.5 464.4 684C465.2 685.5 466 687.1 466.8 688.2C467.6 689.3 468.3 690 469.2 690.6C470.1 691.2 471.2 691.5 472.2 691.8C473.2 692.1 474.3 692 475.2 692.4C476.1 692.8 476.8 693.3 477.6 694.2C478.4 695.1 479.3 696.5 480 697.8C480.7 699.1 481.2 700.4 481.8 702C482.4 703.6 482.9 705.6 483.6 707.4C484.3 709.2 485.2 711.5 486 712.8C486.8 714.1 487.6 714.8 488.4 715.2C489.2 715.6 490 715.5 490.8 715.2C491.6 714.9 492.4 713.8 493.2 713.4C494 713 494.8 712.7 495.6 712.8C496.4 712.9 497.1 713.3 498 714C498.9 714.7 500.1 716.16 501 717C501.9 717.84 502.6 718.84 503.4 719.04C504.2 719.24 505 719.14 505.8 718.2C506.6 717.26 507.4 715.2 508.2 713.4C509 711.6 509.9 709.2 510.6 707.4C511.3 705.6 511.7 704.2 512.4 702.6C513.1 701 514 699 514.8 697.8C515.6 696.6 516.3 695.9 517.2 695.4C518.1 694.9 519.2 695.1 520.2 694.8C521.2 694.5 522.2 694.3 523.2 693.6C524.2 692.9 525.2 691.8 526.2 690.6C527.2 689.4 528.2 687.8 529.2 686.4C530.2 685 531.2 683.26 532.2 682.2C533.2 681.14 534.2 680.5 535.2 680.04C536.2 679.58 537.1 679.64 538.2 679.44C539.3 679.24 540.6 679.02 541.8 678.84C543 678.66 544.4 678.4 545.4 678.36C546.4 678.32 547 678.26 547.8 678.6C548.6 678.94 549.4 679.6 550.2 680.4C551 681.2 551.8 682.56 552.6 683.4C553.4 684.24 554 684.9 555 685.44C556 685.98 557.4 686.48 558.6 686.64C559.8 686.8 561 686.4 562.2 686.4C563.4 686.4 564.6 686.4 565.8 686.64C567 686.88 568.2 687.44 569.4 687.84C570.6 688.24 571.9 688.82 573 689.04C574.1 689.26 575 689.3 576 689.16C577 689.02 577.9 688.7 579 688.2C580.1 687.7 581.4 686.86 582.6 686.16C583.8 685.46 585 684.72 586.2 684C587.4 683.28 588.6 682.54 589.8 681.84C591 681.14 592.2 680.34 593.4 679.8C594.6 679.26 595.8 678.9 597 678.6C598.2 678.3 599.4 678.26 600.6 678C601.8 677.74 603 677.4 604.2 677.04C605.4 676.68 606.6 676.24 607.8 675.84C609 675.44 610.2 675.04 611.4 674.64C612.6 674.24 613.8 673.88 615 673.44C616.2 673 617.4 672.54 618.6 672C619.8 671.46 621 670.7 622.2 670.2C623.4 669.7 624.6 669.34 625.8 669C627 668.66 628.2 668.46 629.4 668.16C630.6 667.86 631.8 667.46 633 667.2C634.2 666.94 635.6 666.7 636.6 666.6C637.6 666.5 638 666.4 639 666.6C640 666.8 641.4 667.5 642.6 667.8C643.8 668.1 645 668.26 646.2 668.4C647.4 668.54 648.6 668.6 649.8 668.64C651 668.68 652.3 668.58 653.4 668.64C654.5 668.7 655.5 668.74 656.4 669C657.3 669.26 658 669.6 658.8 670.2C659.6 670.8 660.4 671.8 661.2 672.6C662 673.4 662.8 674.34 663.6 675C664.4 675.66 665.2 676.3 666 676.56C666.8 676.82 667.5 676.72 668.4 676.56C669.3 676.4 670.3 675.86 671.4 675.6C672.5 675.34 673.8 674.96 675 675C676.2 675.04 677.5 675.54 678.6 675.84C679.7 676.14 680.6 676.94 681.6 676.8C682.6 676.66 683.5 675.9 684.6 675C685.7 674.1 687 672.5 688.2 671.4C689.4 670.3 690.6 669.2 691.8 668.4C693 667.6 694.2 666.9 695.4 666.6C696.6 666.3 697.8 666.74 699 666.6C700.2 666.46 701.4 666.16 702.6 665.76C703.8 665.36 705 664.76 706.2 664.2C707.4 663.64 708.6 662.94 709.8 662.4C711 661.86 712.2 661.3 713.4 660.96C714.6 660.62 715.8 660.52 717 660.36C718.2 660.2 719.4 660.12 720.6 660C721.8 659.88 723 659.64 724.2 659.64C725.4 659.64 726.7 659.7 727.8 660C728.9 660.3 729.8 660.88 730.8 661.44C731.8 662 732.8 662.8 733.8 663.36C734.8 663.92 735.7 664.42 736.8 664.8C737.9 665.18 739.2 665.38 740.4 665.64C741.6 665.9 742.9 665.9 744 666.36C745.1 666.82 746.1 667.56 747 668.4C747.9 669.24 748.6 670.3 749.4 671.4C750.2 672.5 751 673.9 751.8 675C752.6 676.1 753.3 677.26 754.2 678C755.1 678.74 756.2 679.28 757.2 679.44C758.2 679.6 759.2 679 760.2 678.96C761.2 678.92 762.2 678.86 763.2 679.2C764.2 679.54 765.2 680.1 766.2 681C767.2 681.9 768.2 683.6 769.2 684.6C770.2 685.6 771.3 686.7 772.2 687C773.1 687.3 773.8 687 774.6 686.4C775.4 685.8 776.2 684.7 777 683.4C777.8 682.1 778.6 680.1 779.4 678.6C780.2 677.1 781 675.5 781.8 674.4C782.6 673.3 783.4 672.46 784.2 672C785 671.54 785.8 671.54 786.6 671.64C787.4 671.74 788.2 672.48 789 672.6C789.8 672.72 790.6 672.7 791.4 672.36C792.2 672.02 793 671.32 793.8 670.56C794.6 669.8 795.4 668.76 796.2 667.8C797 666.84 797.8 665.7 798.6 664.8C799.4 663.9 800.1 663 801 662.4C801.9 661.8 803 661.34 804 661.2C805 661.06 805.9 661.56 807 661.56C808.1 661.56 809.4 661.3 810.6 661.2C811.8 661.1 813.2 660.86 814.2 660.96C815.2 661.06 815.8 661.26 816.6 661.8C817.4 662.34 818.2 663.1 819 664.2C819.8 665.3 820.6 667 821.4 668.4C822.2 669.8 823 671.4 823.8 672.6C824.6 673.8 825.3 674.8 826.2 675.6C827.1 676.4 828.2 677 829.2 677.4C830.2 677.8 831.3 677.4 832.2 678C833.1 678.6 833.8 679.7 834.6 681C835.4 682.3 836.2 683.9 837 685.8C837.8 687.7 838.6 690 839.4 692.4C840.2 694.8 841 697.8 841.8 700.2C842.6 702.6 843.5 705.2 844.2 706.8C844.9 708.4 845.3 709.5 846 709.8C846.7 710.1 847.6 709.3 848.4 708.6C849.2 707.9 850 706.26 850.8 705.6C851.6 704.94 852.4 704.44 853.2 704.64C854 704.84 854.8 705.84 855.6 706.8C856.4 707.76 857.14 709.36 858 710.4C858.86 711.44 859.96 712.94 860.76 713.04C861.56 713.14 862.06 712.44 862.8 711C863.54 709.56 864.4 706.9 865.2 704.4C866 701.9 866.8 698.5 867.6 696C868.4 693.5 869.1 691.2 870 689.4C870.9 687.6 872 686.1 873 685.2C874 684.3 875 684.2 876 684C877 683.8 878.1 684.2 879 684C879.9 683.8 880.5 683.7 881.4 682.8C882.3 681.9 883.4 680.1 884.4 678.6C885.4 677.1 886.4 675.2 887.4 673.8C888.4 672.4 889.4 671.06 890.4 670.2C891.4 669.34 892.3 668.84 893.4 668.64C894.5 668.44 895.8 669.04 897 669C898.2 668.96 899.4 668.5 900.6 668.4C901.8 668.3 903.2 668.1 904.2 668.4C905.2 668.7 905.8 669.2 906.6 670.2C907.4 671.2 908.2 672.9 909 674.4C909.8 675.9 910.7 677.9 911.4 679.2C912.1 680.5 912.9 681.7 913.2 682.2" fill="none" stroke="#f00" stroke-width="2.5" stroke-linejoin="round"/>
<polyline points="200.4,629.4 201.6,628.45 202.8,628.2 204.6,629.4 205.8,631.4 207,634.8 208.2,638.4 210,642 211.2,646.2 212.4,647.4 213.6,648 214.8,652.8 216,657.6 217.2,663.6 217.8,674.4 218.4,662.4 219,655.2 220.8,651.6 222,660 222.6,666 223.8,661.2 225.6,664.2 227.16,664.8 228,670.8 229.8,682.2 231,668.4 232.2,672 232.8,684 233.4,724 234.36,751.6 235.2,751.6 236.4,718 237.24,704.8 237,698.4 238.2,699.6 239.4,705.6 240.6,691.2 241.8,698.4 243.6,696 244.8,691.2 246,682.2 246.6,686.4 247.8,693 249,688.8 250.8,682.8 252.6,679.2 253.8,678 254.04,667.2 255,664.8 256.2,666.6 257.4,656.4 258.6,662.4 259.2,666.6 260.4,656.4 261.6,650.4 262.8,644.4 263.64,636 264.6,634.8 265.8,624 267,619.8 267.6,616.8 268.8,618 270.6,616.2 271.8,614.74 273,615 274.2,607.8 275.4,611.4 276.6,613.57 277.8,615.6 279,619.2 280.2,626.4 281.16,631.2 282,639.6 282.6,650.4 282.96,664.8 283.8,667.2 285.6,670.2 286.8,672.03 288,674.4 289.2,673.22 290.4,673.8 292.2,676.8 293.4,681.6 294.6,686.4 295.2,691.2 297,693 297.96,699.6 298.44,708.4 298.92,725.2 300.6,730 301.2,703.6 302.4,722.8 303.6,702.4 303,689.4 304.2,691.2 304.8,704.4 306,715.6 307.8,732.4 309,739.62 310.2,746.8 310.8,730 311.64,701.8 313.2,718 315,727.6 316.2,729.68 317.4,733.6 318,738.4 319.8,732.4 321,728.8 322.2,729.27 323.4,730 324.6,726.14 325.8,724 327.6,715.6 328.8,720.4 330.6,721.6 331.8,711.4 333,715.6 334.8,710.2 336.3,708.48 337.8,708.4 339.3,704.95 340.8,701.8 342.3,700.15 343.8,697.2 345.3,694.35 346.8,693 347.64,682.2 349.2,686.4 351,685.2 352.2,678 354,672 354.6,666.6 356.4,669.6 358.2,666.6 360,668.4 361.2,663.6 362.4,658.2 363.6,661.2 365.4,662.4 366.6,666 367.8,665.15 369,665.4 370.2,669.6 372,674.4 373.8,679.8 375,680.36 376.2,680.4 378,680.4 379.2,683.1 380.4,684 381.6,685.05 382.8,685.8 383.4,691.2 384,698.4 384.6,703.2 385.8,705.6 386.04,715.8 387,706.8 388.8,705.6 390,708.6 391.2,709.8 392.4,715.2 393.6,720 394.8,725.4 396.3,724.29 397.8,723.6 399.3,723.95 400.8,722.4 402.3,722.39 403.8,724.2 405,725.22 406.2,724.8 408,727.2 408.84,720 409.8,710.4 411,705.6 412.8,706.8 414,713.4 415.2,712.8 417,704.4 418.8,700.8 420.3,698.58 421.8,697.2 423,700.2 424.2,696 425.4,698.4 427.2,693.6 429,688.8 430.8,684 432.6,679.8 433.8,678.49 435,678.6 436.5,676.04 438,675 439.2,673.42 440.4,672.6 441.6,671.73 442.8,669.6 444,666.86 445.2,665.4 447,666 448.8,664.2 450,662.86 451.2,661.2 453,656.4 454.2,654.28 455.4,651.6 457.2,647.4 459,646.2 460.2,649.2 461.16,657.6 462.6,658.8 463.8,652.2 465,651.6 466.2,657.6 467.16,667.2 467.4,673.2 469.2,671.4 471,672 472.2,675.6 474,678.6 475.2,684 475.8,696 476.4,712.8 477.6,716.4 478.44,702 479.4,694.8 480.6,702 481.2,715.2 481.8,724 483,725.2 484.8,720.4 486,724 487.8,730 489.6,735.4 491.4,733.6 492.6,724 493.56,712.6 494.04,736 494.76,772.6 495.6,757.6 496.8,748 498,734.8 499.2,721.6 500.4,720.4 501.6,727.6 503.16,727 504.6,736 506.76,745.6 508.44,740.8 510,730 511.8,727.6 513.6,724 515.4,714.4 516.6,708 517.2,699.6 517.8,692.4 519,696 520.8,691.2 522,685.8 523.2,688.2 524.4,682.8 526.2,676.8 528,674.4 529.8,670.8 531.6,667.2 533.4,666 535.2,663.6 537,662.64 538.8,664.2 540.6,667.2 542.4,669.6 544.2,672 545.4,672.35 546.6,673.2 547.8,674.2 549,675 550.8,675.6 552,675.63 553.2,677.4 555,679.8 556.8,681.6 558.6,681.6 560.4,684.6 561.6,688.8 563.4,688.2 564.6,691.2 566.4,695.4 568.2,697.2 569.4,700.2 571.2,696.6 573,696 574.2,695.42 575.4,696.6 576.6,696.31 577.8,697.2 579,697.86 580.2,697.8 582,699.6 583.8,699 585.6,701.4 586.8,702.16 588,703.2 589.2,702 591,703.2 592.2,700.2 593.4,698.63 594.6,697.8 595.8,696.17 597,694.2 598.2,692.01 599.4,690 600.6,688.1 601.8,687 603,685.79 604.2,683.4 605.4,682.2 606.6,682.8 608.4,678.6 610.2,675 611.4,673.9 612.6,672 613.8,669.69 615,668.4 616.8,665.4 618.6,663.6 619.8,662.85 621,661.8 622.2,660.35 623.4,658.8 624.6,658.95 625.8,657.6 627.6,657.36 629.4,656.16 631.2,657.6 633,660.6 634.2,662.4 635.4,662.56 636.6,661.8 637.8,662.28 639,663.6 640.2,665.76 641.4,666 642.6,666.74 643.8,669 645.3,669.14 646.8,669.6 648,670.71 649.2,670.8 650.7,671.3 652.2,673.2 653.7,674.68 655.2,676.2 657,679.2 658.2,679.78 659.4,682.2 660.6,683.74 661.8,684.6 663.6,685.8 664.8,685.93 666,685.15 667.2,684.6 668.7,686.25 670.2,686.4 671.7,686.93 673.2,688.2 675,685.2 676.5,684.69 678,683.4 679.5,681.49 681,679.2 682.5,678.16 684,676.8 685.5,675.21 687,673.8 688.5,673.28 690,671.4 691.5,671.09 693,669 694.2,667.45 695.4,666 696.6,664.83 697.8,663 699.3,660.92 700.8,660.6 702.3,660.1 703.8,658.8 705,659.39 706.2,659.4 707.4,659.49 708.6,657.6 710.4,655.2 711.9,654.94 713.4,653.4 714.9,652.37 716.4,652.2 717.6,651.37 718.8,651 720,651.76 721.2,651.84 722.4,651.07 723.6,652.2 724.8,651.52 726,651 727.2,650.64 728.4,651.6 729.6,651.73 730.8,653.4 732.6,655.2 734.4,657.36 735.6,657.2 736.8,658.8 738,659.64 739.2,659.4 741,658.8 742.8,660 744.6,661.8 746.4,664.8 748.2,667.2 750,668.4 751.8,667.8 753,670.8 754.2,673.8 756,676.2 757.2,681.6 758.4,688.8 759.24,696 759.96,705 760.44,691.2 761.16,682.8 762.36,682.2 763.2,692.4 764.4,694.8 765.6,698.4 766.8,702.6 768.36,708 769.2,696 770.04,678.6 771,678.6 771.6,690 772.2,702 772.8,709.6 773.4,721.6 774,736 774.6,750.4 775.2,785.8 776.4,762.4 777.6,752.8 778.8,756.4 779.4,776.8 780.6,760 781.8,788.2 782.64,776.8 783.6,763.6 784.2,742 785.4,739.6 787.2,737.2 788.4,744.4 790.2,750.4 792,751 793.2,743.2 795,737.2 796.2,728.8 797.4,720.4 799.2,727.6 800.4,715 801.6,719.2 803.4,715.6 804.9,712.76 806.4,711.4 807.9,710 809.4,709.6 810.8,709.38 812.2,710.34 813.6,709.6 815.4,711.4 817.2,715.6 819,719.8 820.8,724 822.36,727 823.8,723.4 825,722.2" fill="none" stroke="#000" stroke-width="2.8" stroke-linejoin="round" />
<line x1="448.4" y1="665" x2="448.4" y2="822" stroke="#000" stroke-width="3.2"/>
</g>
<line x1="825" y1="478" x2="825" y2="822" stroke="#1f77b4" stroke-width="2" stroke-dasharray="2.08 3.44"/>
<rect x="200" y="478" width="714" height="344" fill="none" stroke="#000" stroke-width="2"/>
<line x1="248.5" y1="822" x2="248.5" y2="816.6" stroke="#000" stroke-width="1.4" />
<line x1="337.75" y1="822" x2="337.75" y2="816.6" stroke="#000" stroke-width="1.4" />
<line x1="427" y1="822" x2="427" y2="816.6" stroke="#000" stroke-width="1.4" />
<line x1="516.25" y1="822" x2="516.25" y2="816.6" stroke="#000" stroke-width="1.4" />
<line x1="605.5" y1="822" x2="605.5" y2="816.6" stroke="#000" stroke-width="1.4" />
<line x1="694.75" y1="822" x2="694.75" y2="816.6" stroke="#000" stroke-width="1.4" />
<line x1="784" y1="822" x2="784" y2="816.6" stroke="#000" stroke-width="1.4" />
<line x1="873.25" y1="822" x2="873.25" y2="816.6" stroke="#000" stroke-width="1.4" />
<line x1="200" y1="822" x2="205.7" y2="822" stroke="#000" stroke-width="1.4" />
<line x1="914" y1="822" x2="909" y2="822" stroke="#000" stroke-width="1.4" />
<line x1="200" y1="804.74" x2="203.9" y2="804.74" stroke="#000" stroke-width="1.1" />
<line x1="914" y1="804.74" x2="911.1" y2="804.74" stroke="#000" stroke-width="1.1" />
<line x1="200" y1="794.65" x2="203.9" y2="794.65" stroke="#000" stroke-width="1.1" />
<line x1="914" y1="794.65" x2="911.1" y2="794.65" stroke="#000" stroke-width="1.1" />
<line x1="200" y1="787.48" x2="203.9" y2="787.48" stroke="#000" stroke-width="1.1" />
<line x1="914" y1="787.48" x2="911.1" y2="787.48" stroke="#000" stroke-width="1.1" />
<line x1="200" y1="781.93" x2="203.9" y2="781.93" stroke="#000" stroke-width="1.1" />
<line x1="914" y1="781.93" x2="911.1" y2="781.93" stroke="#000" stroke-width="1.1" />
<line x1="200" y1="777.39" x2="203.9" y2="777.39" stroke="#000" stroke-width="1.1" />
<line x1="914" y1="777.39" x2="911.1" y2="777.39" stroke="#000" stroke-width="1.1" />
<line x1="200" y1="773.55" x2="203.9" y2="773.55" stroke="#000" stroke-width="1.1" />
<line x1="914" y1="773.55" x2="911.1" y2="773.55" stroke="#000" stroke-width="1.1" />
<line x1="200" y1="770.22" x2="203.9" y2="770.22" stroke="#000" stroke-width="1.1" />
<line x1="914" y1="770.22" x2="911.1" y2="770.22" stroke="#000" stroke-width="1.1" />
<line x1="200" y1="767.29" x2="203.9" y2="767.29" stroke="#000" stroke-width="1.1" />
<line x1="914" y1="767.29" x2="911.1" y2="767.29" stroke="#000" stroke-width="1.1" />
<line x1="200" y1="764.67" x2="205.7" y2="764.67" stroke="#000" stroke-width="1.4" />
<line x1="914" y1="764.67" x2="909" y2="764.67" stroke="#000" stroke-width="1.4" />
<line x1="200" y1="747.41" x2="203.9" y2="747.41" stroke="#000" stroke-width="1.1" />
<line x1="914" y1="747.41" x2="911.1" y2="747.41" stroke="#000" stroke-width="1.1" />
<line x1="200" y1="737.31" x2="203.9" y2="737.31" stroke="#000" stroke-width="1.1" />
<line x1="914" y1="737.31" x2="911.1" y2="737.31" stroke="#000" stroke-width="1.1" />
<line x1="200" y1="730.15" x2="203.9" y2="730.15" stroke="#000" stroke-width="1.1" />
<line x1="914" y1="730.15" x2="911.1" y2="730.15" stroke="#000" stroke-width="1.1" />
<line x1="200" y1="724.59" x2="203.9" y2="724.59" stroke="#000" stroke-width="1.1" />
<line x1="914" y1="724.59" x2="911.1" y2="724.59" stroke="#000" stroke-width="1.1" />
<line x1="200" y1="720.05" x2="203.9" y2="720.05" stroke="#000" stroke-width="1.1" />
<line x1="914" y1="720.05" x2="911.1" y2="720.05" stroke="#000" stroke-width="1.1" />
<line x1="200" y1="716.21" x2="203.9" y2="716.21" stroke="#000" stroke-width="1.1" />
<line x1="914" y1="716.21" x2="911.1" y2="716.21" stroke="#000" stroke-width="1.1" />
<line x1="200" y1="712.89" x2="203.9" y2="712.89" stroke="#000" stroke-width="1.1" />
<line x1="914" y1="712.89" x2="911.1" y2="712.89" stroke="#000" stroke-width="1.1" />
<line x1="200" y1="709.96" x2="203.9" y2="709.96" stroke="#000" stroke-width="1.1" />
<line x1="914" y1="709.96" x2="911.1" y2="709.96" stroke="#000" stroke-width="1.1" />
<line x1="200" y1="707.33" x2="205.7" y2="707.33" stroke="#000" stroke-width="1.4" />
<line x1="914" y1="707.33" x2="909" y2="707.33" stroke="#000" stroke-width="1.4" />
<line x1="200" y1="690.07" x2="203.9" y2="690.07" stroke="#000" stroke-width="1.1" />
<line x1="914" y1="690.07" x2="911.1" y2="690.07" stroke="#000" stroke-width="1.1" />
<line x1="200" y1="679.98" x2="203.9" y2="679.98" stroke="#000" stroke-width="1.1" />
<line x1="914" y1="679.98" x2="911.1" y2="679.98" stroke="#000" stroke-width="1.1" />
<line x1="200" y1="672.82" x2="203.9" y2="672.82" stroke="#000" stroke-width="1.1" />
<line x1="914" y1="672.82" x2="911.1" y2="672.82" stroke="#000" stroke-width="1.1" />
<line x1="200" y1="667.26" x2="203.9" y2="667.26" stroke="#000" stroke-width="1.1" />
<line x1="914" y1="667.26" x2="911.1" y2="667.26" stroke="#000" stroke-width="1.1" />
<line x1="200" y1="662.72" x2="203.9" y2="662.72" stroke="#000" stroke-width="1.1" />
<line x1="914" y1="662.72" x2="911.1" y2="662.72" stroke="#000" stroke-width="1.1" />
<line x1="200" y1="658.88" x2="203.9" y2="658.88" stroke="#000" stroke-width="1.1" />
<line x1="914" y1="658.88" x2="911.1" y2="658.88" stroke="#000" stroke-width="1.1" />
<line x1="200" y1="655.56" x2="203.9" y2="655.56" stroke="#000" stroke-width="1.1" />
<line x1="914" y1="655.56" x2="911.1" y2="655.56" stroke="#000" stroke-width="1.1" />
<line x1="200" y1="652.62" x2="203.9" y2="652.62" stroke="#000" stroke-width="1.1" />
<line x1="914" y1="652.62" x2="911.1" y2="652.62" stroke="#000" stroke-width="1.1" />
<line x1="200" y1="650" x2="205.7" y2="650" stroke="#000" stroke-width="1.4" />
<line x1="914" y1="650" x2="909" y2="650" stroke="#000" stroke-width="1.4" />
<line x1="200" y1="632.74" x2="203.9" y2="632.74" stroke="#000" stroke-width="1.1" />
<line x1="914" y1="632.74" x2="911.1" y2="632.74" stroke="#000" stroke-width="1.1" />
<line x1="200" y1="622.65" x2="203.9" y2="622.65" stroke="#000" stroke-width="1.1" />
<line x1="914" y1="622.65" x2="911.1" y2="622.65" stroke="#000" stroke-width="1.1" />
<line x1="200" y1="615.48" x2="203.9" y2="615.48" stroke="#000" stroke-width="1.1" />
<line x1="914" y1="615.48" x2="911.1" y2="615.48" stroke="#000" stroke-width="1.1" />
<line x1="200" y1="609.93" x2="203.9" y2="609.93" stroke="#000" stroke-width="1.1" />
<line x1="914" y1="609.93" x2="911.1" y2="609.93" stroke="#000" stroke-width="1.1" />
<line x1="200" y1="605.39" x2="203.9" y2="605.39" stroke="#000" stroke-width="1.1" />
<line x1="914" y1="605.39" x2="911.1" y2="605.39" stroke="#000" stroke-width="1.1" />
<line x1="200" y1="601.55" x2="203.9" y2="601.55" stroke="#000" stroke-width="1.1" />
<line x1="914" y1="601.55" x2="911.1" y2="601.55" stroke="#000" stroke-width="1.1" />
<line x1="200" y1="598.22" x2="203.9" y2="598.22" stroke="#000" stroke-width="1.1" />
<line x1="914" y1="598.22" x2="911.1" y2="598.22" stroke="#000" stroke-width="1.1" />
<line x1="200" y1="595.29" x2="203.9" y2="595.29" stroke="#000" stroke-width="1.1" />
<line x1="914" y1="595.29" x2="911.1" y2="595.29" stroke="#000" stroke-width="1.1" />
<line x1="200" y1="592.67" x2="205.7" y2="592.67" stroke="#000" stroke-width="1.4" />
<line x1="914" y1="592.67" x2="909" y2="592.67" stroke="#000" stroke-width="1.4" />
<line x1="200" y1="575.41" x2="203.9" y2="575.41" stroke="#000" stroke-width="1.1" />
<line x1="914" y1="575.41" x2="911.1" y2="575.41" stroke="#000" stroke-width="1.1" />
<line x1="200" y1="565.31" x2="203.9" y2="565.31" stroke="#000" stroke-width="1.1" />
<line x1="914" y1="565.31" x2="911.1" y2="565.31" stroke="#000" stroke-width="1.1" />
<line x1="200" y1="558.15" x2="203.9" y2="558.15" stroke="#000" stroke-width="1.1" />
<line x1="914" y1="558.15" x2="911.1" y2="558.15" stroke="#000" stroke-width="1.1" />
<line x1="200" y1="552.59" x2="203.9" y2="552.59" stroke="#000" stroke-width="1.1" />
<line x1="914" y1="552.59" x2="911.1" y2="552.59" stroke="#000" stroke-width="1.1" />
<line x1="200" y1="548.05" x2="203.9" y2="548.05" stroke="#000" stroke-width="1.1" />
<line x1="914" y1="548.05" x2="911.1" y2="548.05" stroke="#000" stroke-width="1.1" />
<line x1="200" y1="544.21" x2="203.9" y2="544.21" stroke="#000" stroke-width="1.1" />
<line x1="914" y1="544.21" x2="911.1" y2="544.21" stroke="#000" stroke-width="1.1" />
<line x1="200" y1="540.89" x2="203.9" y2="540.89" stroke="#000" stroke-width="1.1" />
<line x1="914" y1="540.89" x2="911.1" y2="540.89" stroke="#000" stroke-width="1.1" />
<line x1="200" y1="537.96" x2="203.9" y2="537.96" stroke="#000" stroke-width="1.1" />
<line x1="914" y1="537.96" x2="911.1" y2="537.96" stroke="#000" stroke-width="1.1" />
<line x1="200" y1="535.33" x2="205.7" y2="535.33" stroke="#000" stroke-width="1.4" />
<line x1="914" y1="535.33" x2="909" y2="535.33" stroke="#000" stroke-width="1.4" />
<line x1="200" y1="518.07" x2="203.9" y2="518.07" stroke="#000" stroke-width="1.1" />
<line x1="914" y1="518.07" x2="911.1" y2="518.07" stroke="#000" stroke-width="1.1" />
<line x1="200" y1="507.98" x2="203.9" y2="507.98" stroke="#000" stroke-width="1.1" />
<line x1="914" y1="507.98" x2="911.1" y2="507.98" stroke="#000" stroke-width="1.1" />
<line x1="200" y1="500.82" x2="203.9" y2="500.82" stroke="#000" stroke-width="1.1" />
<line x1="914" y1="500.82" x2="911.1" y2="500.82" stroke="#000" stroke-width="1.1" />
<line x1="200" y1="495.26" x2="203.9" y2="495.26" stroke="#000" stroke-width="1.1" />
<line x1="914" y1="495.26" x2="911.1" y2="495.26" stroke="#000" stroke-width="1.1" />
<line x1="200" y1="490.72" x2="203.9" y2="490.72" stroke="#000" stroke-width="1.1" />
<line x1="914" y1="490.72" x2="911.1" y2="490.72" stroke="#000" stroke-width="1.1" />
<line x1="200" y1="486.88" x2="203.9" y2="486.88" stroke="#000" stroke-width="1.1" />
<line x1="914" y1="486.88" x2="911.1" y2="486.88" stroke="#000" stroke-width="1.1" />
<line x1="200" y1="483.56" x2="203.9" y2="483.56" stroke="#000" stroke-width="1.1" />
<line x1="914" y1="483.56" x2="911.1" y2="483.56" stroke="#000" stroke-width="1.1" />
<line x1="200" y1="480.62" x2="203.9" y2="480.62" stroke="#000" stroke-width="1.1" />
<line x1="914" y1="480.62" x2="911.1" y2="480.62" stroke="#000" stroke-width="1.1" />
<line x1="200" y1="478" x2="205.7" y2="478" stroke="#000" stroke-width="1.4" />
<line x1="914" y1="478" x2="909" y2="478" stroke="#000" stroke-width="1.4" />
<text x="195.6" y="830" font-size="20" text-anchor="end" fill="#000" >10<tspan font-size="14.0" dy="-6.2">0</tspan></text>
<text x="195.6" y="772.67" font-size="20" text-anchor="end" fill="#000" >10<tspan font-size="14.0" dy="-6.2">1</tspan></text>
<text x="195.6" y="715.33" font-size="20" text-anchor="end" fill="#000" >10<tspan font-size="14.0" dy="-6.2">2</tspan></text>
<text x="195.6" y="658" font-size="20" text-anchor="end" fill="#000" >10<tspan font-size="14.0" dy="-6.2">3</tspan></text>
<text x="195.6" y="600.67" font-size="20" text-anchor="end" fill="#000" >10<tspan font-size="14.0" dy="-6.2">4</tspan></text>
<text x="195.6" y="543.33" font-size="20" text-anchor="end" fill="#000" >10<tspan font-size="14.0" dy="-6.2">5</tspan></text>
<text x="195.6" y="486" font-size="20" text-anchor="end" fill="#000" >10<tspan font-size="14.0" dy="-6.2">6</tspan></text>
<text fill="#000"><tspan x="235.55" y="511.5" font-size="24">Geostationary orbit:</tspan><tspan x="499.9" y="511.5" font-size="24">GOES 14,</tspan></text>
<text fill="#f00"><tspan x="628.25" y="511.5" font-size="24">Model</tspan></text>
<text x="113" y="650.5" font-size="24" text-anchor="middle" fill="#000" transform="rotate(-90 113 650.5)" >&gt;2.0 MeV Electron Flux</text>
<text fill="#000" transform="rotate(-90 145.7 650.4)"><tspan x="50.3" y="650.4" font-size="24">(</tspan><tspan x="67.54" y="650.4" font-size="24">cm</tspan><tspan x="103.7" y="640.6" font-size="16.8">−2</tspan><tspan x="133.36" y="650.4" font-size="24">s</tspan><tspan x="145.4" y="640.6" font-size="16.8">−1</tspan><tspan x="175.36" y="650.4" font-size="24">sr</tspan><tspan x="197.86" y="640.6" font-size="16.8">−1</tspan><tspan x="231.74" y="650.4" font-size="24">)</tspan></text>
<text x="875.2" y="933.5" font-size="31.5" text-anchor="middle" fill="#808080" transform="rotate(-90 875.2 933.5)" fill-opacity="0.2">Forecast</text>
<g shape-rendering="crispEdges">
<rect x="200" y="998" width="8" height="19" fill="#008000"/>
<rect x="210" y="966" width="9" height="51" fill="#008000"/>
<rect x="221" y="979" width="9" height="38" fill="#008000"/>
<rect x="232" y="992" width="9" height="25" fill="#008000"/>
<rect x="243" y="992" width="9" height="25" fill="#008000"/>
<rect x="255" y="986" width="8" height="31" fill="#008000"/>
<rect x="266" y="979" width="9" height="38" fill="#008000"/>
<rect x="277" y="960" width="9" height="57" fill="#bfbf00"/>
<rect x="288" y="947" width="9" height="70" fill="#bfbf00"/>
<rect x="299" y="941" width="9" height="76" fill="#bfbf00"/>
<rect x="310" y="986" width="9" height="31" fill="#008000"/>
<rect x="321" y="998" width="9" height="19" fill="#008000"/>
<rect x="333" y="1005" width="9" height="12" fill="#008000"/>
<rect x="344" y="986" width="9" height="31" fill="#008000"/>
<rect x="355" y="979" width="9" height="38" fill="#008000"/>
<rect x="366" y="979" width="9" height="38" fill="#008000"/>
<rect x="377" y="954" width="9" height="63" fill="#bfbf00"/>
<rect x="388" y="986" width="9" height="31" fill="#008000"/>
<rect x="400" y="1005" width="8" height="12" fill="#008000"/>
<rect x="411" y="1005" width="9" height="12" fill="#008000"/>
<rect x="422" y="1011" width="9" height="6" fill="#008000"/>
<rect x="433" y="1005" width="9" height="12" fill="#008000"/>
<rect x="444" y="973" width="9" height="44" fill="#008000"/>
<rect x="455" y="947" width="9" height="70" fill="#bfbf00"/>
<rect x="466" y="966" width="9" height="51" fill="#008000"/>
<rect x="478" y="979" width="9" height="38" fill="#008000"/>
<rect x="489" y="973" width="9" height="44" fill="#008000"/>
<rect x="500" y="979" width="9" height="38" fill="#008000"/>
<rect x="511" y="966" width="9" height="51" fill="#008000"/>
<rect x="522" y="1005" width="9" height="12" fill="#008000"/>
<rect x="533" y="998" width="9" height="19" fill="#008000"/>
<rect x="545" y="992" width="8" height="25" fill="#008000"/>
<rect x="556" y="998" width="9" height="19" fill="#008000"/>
<rect x="567" y="1005" width="9" height="12" fill="#008000"/>
<rect x="578" y="998" width="9" height="19" fill="#008000"/>
<rect x="589" y="1005" width="9" height="12" fill="#008000"/>
<rect x="600" y="1005" width="9" height="12" fill="#008000"/>
<rect x="612" y="1011" width="8" height="6" fill="#008000"/>
<rect x="623" y="992" width="9" height="25" fill="#008000"/>
<rect x="634" y="1011" width="9" height="6" fill="#008000"/>
<rect x="645" y="998" width="9" height="19" fill="#008000"/>
<rect x="656" y="1011" width="9" height="6" fill="#008000"/>
<rect x="667" y="1011" width="9" height="6" fill="#008000"/>
<rect x="678" y="1011" width="9" height="6" fill="#008000"/>
<rect x="690" y="1005" width="9" height="12" fill="#008000"/>
<rect x="701" y="1011" width="9" height="6" fill="#008000"/>
<rect x="712" y="1005" width="9" height="12" fill="#008000"/>
<rect x="723" y="1005" width="9" height="12" fill="#008000"/>
<rect x="734" y="973" width="9" height="44" fill="#008000"/>
<rect x="745" y="979" width="9" height="38" fill="#008000"/>
<rect x="757" y="966" width="8" height="51" fill="#008000"/>
<rect x="768" y="986" width="9" height="31" fill="#008000"/>
<rect x="779" y="986" width="9" height="31" fill="#008000"/>
<rect x="790" y="998" width="9" height="19" fill="#008000"/>
<rect x="801" y="998" width="9" height="19" fill="#008000"/>
<rect x="812" y="998" width="9" height="19" fill="#008000"/>
<rect x="823" y="998" width="9" height="19" fill="#008000"/>
<rect x="835" y="998" width="9" height="19" fill="#008000"/>
<rect x="846" y="998" width="9" height="19" fill="#008000"/>
<rect x="857" y="998" width="9" height="19" fill="#008000"/>
<rect x="868" y="998" width="9" height="19" fill="#008000"/>
<rect x="879" y="998" width="9" height="19" fill="#008000"/>
<rect x="890" y="998" width="9" height="19" fill="#008000"/>
<rect x="902" y="998" width="8" height="19" fill="#008000"/>
</g>
<line x1="825" y1="845" x2="825" y2="1017" stroke="#1f77b4" stroke-width="2" stroke-dasharray="2.08 3.44"/>
<rect x="200" y="845" width="714" height="172" fill="none" stroke="#000" stroke-width="2"/>
<line x1="248.5" y1="1017" x2="248.5" y2="1011.6" stroke="#000" stroke-width="1.4" />
<line x1="337.75" y1="1017" x2="337.75" y2="1011.6" stroke="#000" stroke-width="1.4" />
<line x1="427" y1="1017" x2="427" y2="1011.6" stroke="#000" stroke-width="1.4" />
<line x1="516.25" y1="1017" x2="516.25" y2="1011.6" stroke="#000" stroke-width="1.4" />
<line x1="605.5" y1="1017" x2="605.5" y2="1011.6" stroke="#000" stroke-width="1.4" />
<line x1="694.75" y1="1017" x2="694.75" y2="1011.6" stroke="#000" stroke-width="1.4" />
<line x1="784" y1="1017" x2="784" y2="1011.6" stroke="#000" stroke-width="1.4" />
<line x1="873.25" y1="1017" x2="873.25" y2="1011.6" stroke="#000" stroke-width="1.4" />
<line x1="200" y1="1017" x2="205.4" y2="1017" stroke="#000" stroke-width="1.4" />
<line x1="914" y1="1017" x2="908.6" y2="1017" stroke="#000" stroke-width="1.4" />
<line x1="200" y1="978.78" x2="205.4" y2="978.78" stroke="#000" stroke-width="1.4" />
<line x1="914" y1="978.78" x2="908.6" y2="978.78" stroke="#000" stroke-width="1.4" />
<line x1="200" y1="940.56" x2="205.4" y2="940.56" stroke="#000" stroke-width="1.4" />
<line x1="914" y1="940.56" x2="908.6" y2="940.56" stroke="#000" stroke-width="1.4" />
<line x1="200" y1="902.33" x2="205.4" y2="902.33" stroke="#000" stroke-width="1.4" />
<line x1="914" y1="902.33" x2="908.6" y2="902.33" stroke="#000" stroke-width="1.4" />
<line x1="200" y1="864.11" x2="205.4" y2="864.11" stroke="#000" stroke-width="1.4" />
<line x1="914" y1="864.11" x2="908.6" y2="864.11" stroke="#000" stroke-width="1.4" />
<text x="195.8" y="1024.3" font-size="20" text-anchor="end" fill="#000" >0</text>
<text x="195.8" y="986.08" font-size="20" text-anchor="end" fill="#000" >2</text>
<text x="195.8" y="947.86" font-size="20" text-anchor="end" fill="#000" >4</text>
<text x="195.8" y="909.63" font-size="20" text-anchor="end" fill="#000" >6</text>
<text x="195.8" y="871.41" font-size="20" text-anchor="end" fill="#000" >8</text>
<text x="247.5" y="1037" font-size="20" text-anchor="middle" fill="#000" >15</text>
<text x="336.75" y="1037" font-size="20" text-anchor="middle" fill="#000" >16</text>
<text x="426" y="1037" font-size="20" text-anchor="middle" fill="#000" >17</text>
<text x="515.25" y="1037" font-size="20" text-anchor="middle" fill="#000" >18</text>
<text x="604.5" y="1037" font-size="20" text-anchor="middle" fill="#000" >19</text>
<text x="694.75" y="1037" font-size="20" text-anchor="middle" fill="#000" >20</text>
<text x="784" y="1037" font-size="20" text-anchor="middle" fill="#000" >21</text>
<text x="873.25" y="1037" font-size="20" text-anchor="middle" fill="#000" >22</text>
<text x="557" y="1066" font-size="24" text-anchor="middle" fill="#000" >September 2019 (UT)</text>
<text x="173" y="934.5" font-size="24" text-anchor="middle" fill="#000" transform="rotate(-90 173 934.5)" textLength="29.2">Kp</text>
<rect x="207.5" y="852.5" width="88" height="67" rx="2.8" fill="#fff" fill-opacity="0.8" stroke="#ccc" stroke-width="1.2"/>
<rect x="212.8" y="859.0" width="28.3" height="11" fill="#008000"/>
<text x="251.6" y="868.6" font-size="13.9" text-anchor="start" fill="#000" >Kp&lt;3</text>
<rect x="212.8" y="879.9" width="28.3" height="11" fill="#bfbf00"/>
<text x="251.6" y="889.5" font-size="13.9" text-anchor="start" fill="#000" >Kp&lt;5</text>
<rect x="212.8" y="901.0" width="28.3" height="11" fill="#f00"/>
<text x="251.6" y="910.4" font-size="13.9" text-anchor="start" fill="#000" >Kp&gt;5</text>
<line x1="1205" y1="282" x2="1800" y2="282" stroke="#000" stroke-width="2" stroke-dasharray="2.08 3.44"/>
<clipPath id="cb1"><rect x="1205" y="110" width="595" height="345"/></clipPath><g clip-path="url(#cb1)">
<polygon points="1205,271.6 1207,269.8 1209,267.4 1211,265 1213,265 1215,267.4 1217,269.8 1219,272.9 1221,276.7 1223,280.5 1225,280.6 1227,277 1229,273.4 1231,270.2 1233,267.4 1235,264.6 1237,265.4 1239,269.8 1241,274.2 1243,272.6 1245,265 1247,257.4 1249,253.85 1251,254.35 1253,255.8 1255,265.8 1257,273.76 1259,276.96 1261,280.16 1263,282.2 1265,281.53 1267,280.87 1269,280.2 1271,281.4 1273,283.4 1275,285.32 1277,287.07 1279,288.82 1281,291.92 1283,295.17 1285,294.05 1287,288.55 1289,283.15 1291,278.65 1293,274.15 1295,268.6 1297,262.6 1299,258.25 1301,257.75 1303,257.25 1305,258.55 1307,260.05 1309,260.68 1311,260.43 1313,260.32 1315,261.57 1317,262.82 1319,261.1 1321,258.1 1323,257.2 1325,257.3 1327,264.3 1329,267.47 1331,270.22 1333,270.1 1335,267.1 1337,264.7 1339,267.7 1341,269.8 1343,269.8 1345,268.18 1347,264.93 1349,263.23 1351,275.56 1353,282.5 1355,276.84 1357,274.5 1359,275.5 1361,276.47 1363,277.22 1365,277.97 1367,279.95 1369,277.7 1371,270.7 1373,264.4 1375,264.4 1377,264.4 1379,262.3 1381,259.3 1383,256.48 1385,254.08 1387,252.91 1389,252.06 1391,250.58 1393,248.83 1395,248.8 1397,252.8 1399,257.05 1401,261.55 1403,265.9 1405,268.9 1407,268.3 1409,259.3 1411,255.42 1413,256.67 1415,258.15 1417,261.65 1419,265.15 1421,271.56 1423,279.23 1425,278.56 1427,280.48 1429,287.68 1431,286.6 1433,284.6 1435,283.29 1437,282.68 1439,282.07 1441,287.25 1443,289.75 1445,291.25 1447,283.75 1449,276.25 1451,268.91 1453,261.64 1455,254.36 1457,253.43 1459,262 1461,270.1 1463,277.1 1465,275.93 1467,266.6 1469,267.65 1471,273.15 1473,277 1475,277 1477,277 1479,275.88 1481,274.63 1483,275.3 1485,277.9 1487,280.5 1489,280.3 1491,279.1 1493,282.1 1495,285.1 1497,279.74 1499,273.46 1501,275.04 1503,278.6 1505,281.78 1507,281.53 1509,281.28 1511,282.43 1513,284.18 1515,284.2 1517,280.2 1519,278.04 1521,283.24 1523,284.1 1525,283.1 1527,281.2 1529,279.2 1531,278.7 1533,279.7 1535,280.8 1537,282.8 1539,284.8 1541,286.45 1543,287.95 1545,288.4 1547,286.4 1549,284.4 1551,282.18 1553,279.93 1555,278.43 1557,277.68 1559,277.26 1561,279.83 1563,282.4 1565,272.9 1567,271.71 1569,272.6 1571,273.43 1573,273.77 1575,273.4 1577,271.4 1579,271.9 1581,274.9 1583,283.85 1585,290.43 1587,292.1 1589,290.73 1591,288.07 1593,286.3 1595,284.58 1597,282.33 1599,280.08 1601,277.3 1603,274.3 1605,268.52 1607,271.76 1609,283.61 1611,285.1 1613,284.9 1615,279.9 1617,274.9 1619,273.63 1621,273.97 1623,276.4 1625,278.63 1627,276.97 1629,277.5 1631,283.16 1633,285.25 1635,283.75 1637,282.3 1639,281.3 1641,279.3 1643,274.97 1645,271.8 1647,272.12 1649,277.87 1651,283.62 1653,279.7 1655,274.75 1657,270.17 1659,265.6 1661,280.79 1663,290.73 1665,295.4 1667,276.75 1669,285.54 1671,300.1 1673,305.48 1675,303.23 1677,301.45 1679,303.95 1681,306.45 1683,299.97 1685,289.64 1687,279.6 1689,271.65 1691,282.15 1693,285 1695,287 1697,287 1699,285 1701,284.4 1703,284.4 1705,284.4 1707,287.9 1709,292.9 1711,295.6 1713,292.93 1715,294.43 1717,300.1 1719,301.8 1721,301.8 1723,300.3 1725,298.5 1725,305.3 1723,309.3 1721,312.6 1719,312.6 1717,311.1 1715,306.1 1713,305.6 1711,309.6 1709,308.7 1707,305.7 1705,303.36 1703,302.56 1701,301.76 1699,302.2 1697,305.53 1695,306.7 1693,305.7 1691,303.45 1689,289.95 1687,297.6 1685,307.44 1683,315.77 1681,321.75 1679,322.25 1677,322.75 1675,322.58 1673,322.33 1671,316.7 1669,303.54 1667,293.94 1665,309.4 1663,303.4 1661,291.99 1659,275.2 1657,279.77 1655,284.35 1653,291.1 1651,296.57 1649,288.32 1647,280.07 1645,279 1643,283.84 1641,291.5 1639,291.23 1637,287.57 1635,288.55 1633,290.05 1631,288.3 1629,283.3 1627,282.5 1625,283.5 1623,281.2 1621,278.83 1619,279.17 1617,280.9 1615,285.9 1613,290.9 1611,292.9 1609,293.51 1607,284.62 1605,282.09 1603,286.1 1601,287.1 1599,288.03 1597,288.78 1595,289.53 1593,292.9 1591,296.47 1589,299.13 1587,300.7 1585,299.7 1583,292.95 1581,282.7 1579,277.7 1577,276.2 1575,278.2 1573,278.1 1571,277.1 1569,277 1567,277 1565,279.5 1563,292 1561,287.71 1559,283.43 1557,283.23 1555,283.48 1553,284.98 1551,287.73 1549,290.3 1547,291.3 1545,292.3 1543,292.25 1541,291.75 1539,290.8 1537,288.8 1535,286.8 1533,285.7 1531,284.7 1529,285.7 1527,288.7 1525,291.7 1523,294.7 1521,294.52 1519,286.92 1517,286.77 1515,288.49 1513,288.13 1511,286.88 1509,286.83 1507,289.58 1505,292.33 1503,289.4 1501,285.84 1499,283.8 1497,287.8 1495,291.3 1493,290.3 1491,289.3 1489,291.1 1487,291.9 1485,290.5 1483,289.1 1481,289.28 1479,291.03 1477,292.7 1475,293.7 1473,294.7 1471,293.95 1469,292.45 1467,294.2 1465,303.53 1463,303.7 1461,294.7 1459,286 1457,277.43 1455,278.36 1453,285.64 1451,292.91 1449,298.45 1447,299.95 1445,301.45 1443,300.25 1441,298.75 1439,288.25 1437,289.27 1435,290.29 1433,291.8 1431,293.8 1429,295.04 1427,289.44 1425,290.08 1423,295.04 1421,301.37 1419,303.85 1417,297.35 1415,290.85 1413,286.82 1411,283.07 1409,283.37 1407,287.7 1405,283.63 1403,275.96 1401,271.15 1399,266.65 1397,262.4 1395,258.4 1393,258.08 1391,259.33 1389,260.97 1387,263.54 1385,265.76 1383,266.56 1381,269.6 1379,273.6 1377,276.4 1375,276.4 1373,276.4 1371,281.8 1369,287.8 1367,289.05 1365,286.22 1363,284.97 1361,283.72 1359,284.5 1357,285.5 1355,289.84 1353,297.5 1351,294.43 1349,286.76 1347,285.78 1345,285.53 1343,285.4 1341,285.4 1339,281.9 1337,276.9 1335,279.1 1333,282.1 1331,283.48 1329,283.23 1327,281.5 1325,266.5 1323,265.6 1321,266.57 1319,270.23 1317,272.58 1315,271.83 1313,271.08 1311,272.58 1309,274.33 1307,273.95 1305,271.45 1303,269.35 1301,270.85 1299,272.35 1297,277 1295,283 1293,289.45 1291,296.95 1289,304.45 1287,307.45 1285,309.95 1283,310.33 1281,308.58 1279,306.67 1277,303.42 1275,300.17 1273,297.8 1271,295.8 1269,294 1267,292.67 1265,291.33 1263,290 1261,287.92 1259,285.52 1257,283.12 1255,277.27 1253,269.93 1251,267.85 1249,266.35 1247,269.4 1245,277 1243,284.6 1241,287.8 1239,286.6 1237,285.4 1235,286.2 1233,289 1231,291.8 1229,295.4 1227,299.8 1225,304.2 1223,305.5 1221,303.7 1219,301.9 1217,298.2 1215,292.6 1213,287 1211,284.2 1209,284.2 1207,284.2 1205,283.6" fill="#000"/>
<polyline points="1205,267.43 1205.5,279.29 1206,286.96 1206.5,273.87 1207,263.22 1207.5,273.87 1208,281.12 1208.5,289.15 1209,263.69 1209.5,258.05 1210,281.29 1210.5,281.95 1211,295.72 1211.5,291.08 1212,275.16 1212.5,271.16 1213,300.2 1213.5,278.43 1214,265.4 1214.5,257.82 1215,278.38 1215.5,283.36 1216,275.97 1216.5,280.88 1217,289.04 1217.5,299.77 1218,311.05 1218.5,294.68 1219,255.5 1219.5,296.82 1220,262.57 1220.5,282.37 1221,261.61 1221.5,286.73 1222,276.98 1222.5,293.92 1223,320.5 1223.5,301.31 1224,309.51 1224.5,273.85 1225,284.79 1225.5,301 1226,290.34 1226.5,295.28 1227,290.91 1227.5,272.04 1228,292.86 1228.5,273.88 1229,308.6 1229.5,279.76 1230,292.12 1230.5,283.19 1231,295.46 1231.5,273.47 1232,293.51 1232.5,279.13 1233,297.12 1233.5,289.67 1234,280.74 1234.5,265.03 1235,285.22 1235.5,283.17 1236,297.76 1236.5,273 1237,282.83 1237.5,283.92 1238,281.53 1238.5,280.72 1239,280.78 1239.5,272.64 1240,268.04 1240.5,274.71 1241,285.77 1241.5,295.76 1242,292.49 1242.5,290.76 1243,286.6 1243.5,283.7 1244,277.37 1244.5,279.69 1245,284.2 1245.5,268.74 1246,261.39 1246.5,278.5 1247,267.74 1247.5,270.22 1248,268.17 1248.5,251.53 1249,273.85 1249.5,274.38 1250,265.05 1250.5,268.43 1251,263.44 1251.5,253.29 1252,259.28 1252.5,265.19 1253,274.28 1253.5,313.6 1254,268.9 1254.5,280.98 1255,267.14 1255.5,279.01 1256,284.41 1256.5,277.02 1257,268.14 1257.5,271.68 1258,280.21 1258.5,283.79 1259,290.66 1259.5,277.54 1260,282.01 1260.5,286.82 1261,283.7 1261.5,276.42 1262,287.73 1262.5,294.05 1263,293.45 1263.5,282.09 1264,283.1 1264.5,287.28 1265,297.21 1265.5,293.6 1266,288.56 1266.5,299.11 1267,288.06 1267.5,300.38 1268,283.37 1268.5,282.09 1269,293.22 1269.5,302.23 1270,296.39 1270.5,292.42 1271,272.76 1271.5,279.37 1272,282.05 1272.5,283.65 1273,295.48 1273.5,288.49 1274,299.06 1274.5,294.07 1275,289.63 1275.5,294.14 1276,298.75 1276.5,304.84 1277,291.42 1277.5,292.59 1278,279.86 1278.5,313.97 1279,261.4 1279.5,299.24 1280,293.37 1280.5,284.24 1281,299.95 1281.5,303.15 1282,318.99 1282.5,308.34 1283,295.5 1283.5,287.12 1284,314.24 1284.5,306.6 1285,284.86 1285.5,300.39 1286,280.86 1286.5,318.97 1287,318.79 1287.5,308.06 1288,295.25 1288.5,271.74 1289,287.19 1289.5,265.6 1290,295.64 1290.5,268.35 1291,272.34 1291.5,298.89 1292,303.28 1292.5,273.18 1293,264.97 1293.5,286.63 1294,288.24 1294.5,268.89 1295,267.62 1295.5,266.16 1296,259.73 1296.5,262.56 1297,280.96 1297.5,276.85 1298,282.64 1298.5,267.95 1299,264.33 1299.5,245.8 1300,262.23 1300.5,252.04 1301,249.89 1301.5,267.61 1302,276.88 1302.5,272.63 1303,275.79 1303.5,267.5 1304,258.45 1304.5,264.41 1305,261.65 1305.5,254.87 1306,251.26 1306.5,251.48 1307,264.4 1307.5,268.58 1308,263.43 1308.5,280.95 1309,271.12 1309.5,273.13 1310,278.74 1310.5,261.35 1311,253.13 1311.5,269.86 1312,261.09 1312.5,275.04 1313,269.57 1313.5,273.93 1314,272.93 1314.5,255.04 1315,269.74 1315.5,262.68 1316,261.33 1316.5,263.61 1317,272.31 1317.5,274.52 1318,274.93 1318.5,256.94 1319,260.53 1319.5,254.97 1320,261.1 1320.5,266.33 1321,258.32 1321.5,262.73 1322,263.2 1322.5,267.65 1323,257.54 1323.5,255.83 1324,255.82 1324.5,270.14 1325,270.38 1325.5,265.24 1326,269.56 1326.5,271.72 1327,275.58 1327.5,272.09 1328,270.36 1328.5,260.12 1329,266.21 1329.5,291.68 1330,283.78 1330.5,278.2 1331,275.13 1331.5,277.53 1332,280.58 1332.5,271.93 1333,276.99 1333.5,277.48 1334,268.7 1334.5,266.41 1335,263.69 1335.5,262.11 1336,277.46 1336.5,257.65 1337,265.69 1337.5,265.63 1338,266.18 1338.5,273.69 1339,285.87 1339.5,278.3 1340,275.71 1340.5,270.82 1341,275.19 1341.5,287.09 1342,274.77 1342.5,264.8 1343,262.03 1343.5,263.32 1344,260.45 1344.5,287.04 1345,282.67 1345.5,274.4 1346,295.07 1346.5,269.61 1347,285.26 1347.5,288.57 1348,252.54 1348.5,248.4 1349,249.4 1349.5,288.76 1350,300.62 1350.5,268.4 1351,296.7 1351.5,284.45 1352,285.07 1352.5,285.06 1353,285.68 1353.5,272.38 1354,274.23 1354.5,271.66 1355,285.82 1355.5,295.42 1356,293.2 1356.5,280.96 1357,267.9 1357.5,275.19 1358,272.81 1358.5,290.45 1359,285.26 1359.5,276.46 1360,284.68 1360.5,283.44 1361,272.44 1361.5,276.47 1362,278.77 1362.5,280.67 1363,281.78 1363.5,279.61 1364,282.39 1364.5,278.67 1365,276.5 1365.5,290.28 1366,286.37 1366.5,286.95 1367,274.95 1367.5,282.7 1368,291.05 1368.5,276.35 1369,289.19 1369.5,279.33 1370,282.18 1370.5,277.29 1371,277.84 1371.5,284.32 1372,271.25 1372.5,283.94 1373,265.81 1373.5,261.97 1374,275.04 1374.5,262.24 1375,266.1 1375.5,277.29 1376,281.49 1376.5,257.32 1377,272.64 1377.5,283.6 1378,281.82 1378.5,268.69 1379,263.23 1379.5,264.12 1380,257.15 1380.5,262.07 1381,262.64 1381.5,262.3 1382,270.54 1382.5,261.54 1383,251.29 1383.5,267.15 1384,253.58 1384.5,255.72 1385,258.12 1385.5,313.6 1386,250.66 1386.5,255.54 1387,269.92 1387.5,255.76 1388,256.16 1388.5,264.04 1389,262.12 1389.5,261.37 1390,261.57 1390.5,245.84 1391,248.07 1391.5,254.32 1392,257.27 1392.5,262.47 1393,257.77 1393.5,252.19 1394,252.82 1394.5,251.21 1395,255.03 1395.5,235.6 1396,254.05 1396.5,250.96 1397,251.07 1397.5,264.91 1398,269.06 1398.5,268.73 1399,268.74 1399.5,269.54 1400,265.07 1400.5,269.78 1401,260.04 1401.5,265.18 1402,263.38 1402.5,273.77 1403,267.53 1403.5,270.85 1404,276.8 1404.5,288.18 1405,270.35 1405.5,266.31 1406,286.77 1406.5,266.97 1407,282.05 1407.5,268.87 1408,271.9 1408.5,247.82 1409,278.6 1409.5,262.08 1410,244 1410.5,298.35 1411,288.42 1411.5,300.98 1412,289.63 1412.5,266.94 1413,242.2 1413.5,306.23 1414,277.69 1414.5,284.34 1415,287.83 1415.5,256.73 1416,277.13 1416.5,266.11 1417,246.87 1417.5,297.75 1418,301.74 1418.5,288.23 1419,260.96 1419.5,242.35 1420,331.6 1420.5,284.62 1421,253.68 1421.5,280.91 1422,262.05 1422.5,283.47 1423,288.27 1423.5,290.29 1424,288.4 1424.5,286.93 1425,275.49 1425.5,279.44 1426,278.64 1426.5,281.25 1427,286.33 1427.5,290.42 1428,297.13 1428.5,281.22 1429,291.64 1429.5,290.75 1430,299.12 1430.5,297.03 1431,282.91 1431.5,290.61 1432,286.74 1432.5,293.28 1433,283.63 1433.5,286.51 1434,286.37 1434.5,286.4 1435,283.88 1435.5,279 1436,287.19 1436.5,290.92 1437,286.37 1437.5,281.26 1438,285.8 1438.5,287.86 1439,284.78 1439.5,284.84 1440,303.67 1440.5,285.12 1441,287.48 1441.5,281.13 1442,286.38 1442.5,287.88 1443,287.05 1443.5,289.41 1444,307 1444.5,296.86 1445,295.6 1445.5,308.1 1446,296.54 1446.5,276.81 1447,293.52 1447.5,279.52 1448,309.55 1448.5,273.85 1449,276.08 1449.5,260.16 1450,281.89 1450.5,265.46 1451,277.23 1451.5,272.28 1452,253.6 1452.5,289.44 1453,291.27 1453.5,275.5 1454,255.6 1454.5,248.24 1455,267.86 1455.5,290.95 1456,261.13 1456.5,239.8 1457,251.85 1457.5,247.34 1458,250.53 1458.5,265.57 1459,296.87 1459.5,279.56 1460,270.31 1460.5,253.89 1461,281.72 1461.5,283.83 1462,264.58 1462.5,265.43 1463,286.11 1463.5,322 1464,309.17 1464.5,298.21 1465,284.48 1465.5,292.74 1466,285.64 1466.5,313.09 1467,265.01 1467.5,250.6 1468,300.46 1468.5,277.63 1469,304.28 1469.5,283.69 1470,284.49 1470.5,277.47 1471,262.93 1471.5,268.18 1472,305.98 1472.5,297.79 1473,295.02 1473.5,298.6 1474,294.28 1474.5,298.75 1475,284.24 1475.5,282.52 1476,295.73 1476.5,282.66 1477,270.05 1477.5,279.95 1478,277.71 1478.5,289.34 1479,276.72 1479.5,271.04 1480,277.49 1480.5,297.43 1481,283.71 1481.5,283.46 1482,281.57 1482.5,284.64 1483,291.5 1483.5,297.11 1484,270.29 1484.5,293.96 1485,285.67 1485.5,282.19 1486,298.4 1486.5,287.19 1487,298.74 1487.5,296.41 1488,280.92 1488.5,289.16 1489,291.61 1489.5,284.9 1490,272.32 1490.5,278.56 1491,282.11 1491.5,276.97 1492,295.32 1492.5,285.72 1493,283.97 1493.5,284.79 1494,283.03 1494.5,283.52 1495,288.02 1495.5,288.98 1496,284.14 1496.5,284.23 1497,275.89 1497.5,284.33 1498,276.72 1498.5,280.66 1499,272.26 1499.5,267.4 1500,279.55 1500.5,270.63 1501,292.32 1501.5,283.63 1502,282.02 1502.5,277.59 1503,295.09 1503.5,296.77 1504,289.82 1504.5,277.05 1505,281.96 1505.5,290.19 1506,283.5 1506.5,278.42 1507,277.89 1507.5,280.15 1508,284.17 1508.5,281.57 1509,283.74 1509.5,289.09 1510,289.07 1510.5,282.03 1511,285.38 1511.5,285.39 1512,285.05 1512.5,288.67 1513,285.66 1513.5,285.59 1514,285.81 1514.5,286.64 1515,290.08 1515.5,288.87 1516,280.42 1516.5,281.62 1517,279.44 1517.5,286.15 1518,283.8 1518.5,286.73 1519,282.96 1519.5,273.65 1520,286.84 1520.5,289.15 1521,293.14 1521.5,280.44 1522,289.58 1522.5,284.5 1523,283.59 1523.5,290.54 1524,290.98 1524.5,282.65 1525,277.94 1525.5,277.75 1526,280.73 1526.5,290.8 1527,285.42 1527.5,276.35 1528,277.9 1528.5,284.21 1529,289.6 1529.5,287.99 1530,283.61 1530.5,282.63 1531,277.48 1531.5,279.44 1532,280.44 1532.5,278.97 1533,282.44 1533.5,281.28 1534,284.35 1534.5,289.58 1535,287.8 1535.5,286.64 1536,284.15 1536.5,278.89 1537,284.36 1537.5,288.34 1538,282.92 1538.5,291.92 1539,287.11 1539.5,289.74 1540,287.49 1540.5,283.87 1541,294.93 1541.5,286.27 1542,292.21 1542.5,288.47 1543,290.73 1543.5,288.18 1544,289.2 1544.5,292.85 1545,294.64 1545.5,288.44 1546,289.39 1546.5,292.24 1547,287.19 1547.5,290.75 1548,285.52 1548.5,289.68 1549,289.44 1549.5,292.11 1550,288.44 1550.5,281.22 1551,286.86 1551.5,280.47 1552,285.89 1552.5,288.77 1553,285.37 1553.5,280.37 1554,284.95 1554.5,282.22 1555,276.78 1555.5,278.91 1556,285.61 1556.5,280.19 1557,280.86 1557.5,279.04 1558,273.82 1558.5,276.91 1559,281.37 1559.5,282.31 1560,281.39 1560.5,274.71 1561,288.68 1561.5,289.54 1562,292.45 1562.5,295.69 1563,285.71 1563.5,280.54 1564,282.93 1564.5,287.04 1565,269.67 1565.5,272.19 1566,271.03 1566.5,275.93 1567,279.96 1567.5,274.23 1568,270.38 1568.5,274.25 1569,273.87 1569.5,270.32 1570,276.79 1570.5,274.03 1571,276.84 1571.5,272.19 1572,278.13 1572.5,272.01 1573,278.51 1573.5,271.15 1574,279.91 1574.5,275.62 1575,270.53 1575.5,273.73 1576,275.69 1576.5,271.14 1577,271.69 1577.5,273.88 1578,272.33 1578.5,267.97 1579,271.22 1579.5,277.08 1580,278.41 1580.5,283.16 1581,275.93 1581.5,288.93 1582,289.37 1582.5,288.38 1583,295.69 1583.5,298.7 1584,296.2 1584.5,290.95 1585,301.08 1585.5,298.95 1586,285.91 1586.5,287.72 1587,297.95 1587.5,297.6 1588,298.02 1588.5,299.6 1589,296.38 1589.5,303.51 1590,291.59 1590.5,290.31 1591,293.75 1591.5,296 1592,295.7 1592.5,298.08 1593,288.54 1593.5,293.71 1594,290.74 1594.5,284.26 1595,286.09 1595.5,292.53 1596,290.61 1596.5,284.64 1597,278.46 1597.5,279.97 1598,280.48 1598.5,284.15 1599,292.8 1599.5,289.96 1600,286.1 1600.5,277.14 1601,273.28 1601.5,278.81 1602,277.25 1602.5,293.13 1603,280.49 1603.5,274.04 1604,287.03 1604.5,278.73 1605,264.04 1605.5,284.75 1606,258.4 1606.5,262.88 1607,279.25 1607.5,285.02 1608,281.31 1608.5,290.81 1609,294.86 1609.5,284.71 1610,279.65 1610.5,280.04 1611,286.11 1611.5,294.64 1612,294.2 1612.5,295.34 1613,294.5 1613.5,288.02 1614,289.99 1614.5,278.49 1615,284.91 1615.5,283.58 1616,280.3 1616.5,277.3 1617,272.99 1617.5,276.5 1618,281.57 1618.5,275.71 1619,278.33 1619.5,274.21 1620,277 1620.5,272.98 1621,277.18 1621.5,276.19 1622,278.42 1622.5,276.26 1623,274.61 1623.5,277.75 1624,283.32 1624.5,286.08 1625,280.84 1625.5,283.48 1626,283.56 1626.5,282.01 1627,274.09 1627.5,279.81 1628,275.19 1628.5,283.33 1629,284.18 1629.5,284.69 1630,277.05 1630.5,285.34 1631,288.36 1631.5,283.05 1632,291.04 1632.5,288.67 1633,287.14 1633.5,284.83 1634,283.15 1634.5,284.52 1635,291.43 1635.5,287.94 1636,286.42 1636.5,283.03 1637,282.35 1637.5,282.34 1638,280.42 1638.5,290.35 1639,285.16 1639.5,293.07 1640,278.2 1640.5,293.89 1641,286.16 1641.5,289.26 1642,282.39 1642.5,274.94 1643,286.01 1643.5,276.38 1644,275.46 1644.5,271.35 1645,275.74 1645.5,273.01 1646,275.52 1646.5,276.27 1647,272.62 1647.5,268.92 1648,280.91 1648.5,287.8 1649,289.16 1649.5,277.03 1650,290.26 1650.5,292.21 1651,293.25 1651.5,294.21 1652,286.24 1652.5,288.36 1653,292.92 1653.5,281.17 1654,271.65 1654.5,278.65 1655,280.52 1655.5,267.84 1656,270.95 1656.5,279.09 1657,274.42 1657.5,274.36 1658,264.4 1658.5,276.32 1659,261.4 1659.5,274.94 1660,273.21 1660.5,272.93 1661,291.82 1661.5,292.07 1662,288.06 1662.5,305.11 1663,305.21 1663.5,305.08 1664,285.07 1664.5,297.75 1665,307.95 1665.5,292.44 1666,306.65 1666.5,309.32 1667,300.41 1667.5,274.28 1668,275.64 1668.5,300.26 1669,308.47 1669.5,316.49 1670,234.6 1670.5,306.72 1671,303.88 1671.5,293.69 1672,319.76 1672.5,332 1673,312.61 1673.5,307.7 1674,320.6 1674.5,319.12 1675,295.47 1675.5,300.07 1676,294.8 1676.5,335.5 1677,333.6 1677.5,323.55 1678,334.38 1678.5,333.81 1679,333.23 1679.5,332.66 1680,302.54 1680.5,308.43 1681,305.62 1681.5,310.22 1682,328.81 1682.5,296.49 1683,311.85 1683.5,292.2 1684,316.71 1684.5,318.52 1685,294.95 1685.5,315.9 1686,298.32 1686.5,308.05 1687,295.02 1687.5,280.09 1688,277.96 1688.5,278.79 1689,262.2 1689.5,286.62 1690,308.58 1690.5,292.16 1691,286.28 1691.5,282.56 1692,281.47 1692.5,272.15 1693,277.85 1693.5,305.96 1694,298.46 1694.5,294.46 1695,301.33 1695.5,312.26 1696,308.01 1696.5,308.56 1697,290.8 1697.5,291.5 1698,284.73 1698.5,291.59 1699,283.47 1699.5,287.1 1700,289.95 1700.5,289.97 1701,289.42 1701.5,286.65 1702,262.2 1702.5,291.42 1703,280.47 1703.5,294.07 1704,279.76 1704.5,277.74 1705,292.55 1705.5,272.9 1706,274.12 1706.5,292.85 1707,309.12 1707.5,279.59 1708,285.71 1708.5,304.41 1709,283.42 1709.5,289.48 1710,288.68 1710.5,299.42 1711,287.2 1711.5,307.35 1712,300.42 1712.5,302.75 1713,296.78 1713.5,284.87 1714,293.64 1714.5,287.37 1715,298.64 1715.5,294.57 1716,299.41 1716.5,302.12 1717,311.16 1717.5,313.5 1718,300.67 1718.5,306.1 1719,317.94 1719.5,312.51 1720,302.54 1720.5,305.6 1721,304.36 1721.5,313.23 1722,307.28 1722.5,308.1 1723,314.7 1723.5,298.03 1724,296.99 1724.5,294.55 1725,294.42 1725.5,302.96 1726,300.66 1726.5,302.33 1727,293.82 1727.5,294.51" fill="none" stroke="#000" stroke-width="2.6" stroke-linejoin="round" />
<polygon points="1205,306.4 1207,305.6 1209,304.78 1211,303.96 1213,303.58 1215,303.63 1217,303.68 1219,303.75 1221,303.85 1223,303.95 1225,303.93 1227,303.78 1229,303.63 1231,300.64 1233,294.83 1235,289.87 1237,292.53 1239,294.91 1241,296.59 1243,298.28 1245,300.25 1247,302.25 1249,300.88 1251,296.13 1253,291.9 1255,289.57 1257,288.9 1259,289.49 1261,290.61 1263,292.3 1265,295.3 1267,296.38 1269,295.55 1271,294.08 1273,292.33 1275,291.36 1277,292.24 1279,293.11 1281,291.29 1283,289.16 1285,287.85 1287,288.55 1289,292.05 1291,295.13 1293,297.8 1295,300 1297,302 1299,304.34 1301,302.78 1303,299.53 1305,292.65 1307,292.82 1309,293.53 1311,294.78 1313,295.95 1315,296.45 1317,296.95 1319,297.32 1321,297.63 1323,297.76 1325,297.44 1327,297.13 1329,295.41 1331,293.54 1333,294.02 1335,296.85 1337,298.4 1339,299.4 1341,300.57 1343,302.16 1345,303.25 1347,303.85 1349,304.45 1351,304.88 1353,305.13 1355,305.77 1357,310.02 1359,310.9 1361,311.4 1363,312.82 1365,315.15 1367,317.07 1369,318.82 1371,321.36 1373,321.76 1375,321.19 1377,320.24 1379,318.36 1381,316.49 1383,315.79 1385,315.21 1387,317.39 1389,320.24 1391,321.45 1393,321.95 1395,322.75 1397,324.25 1399,325.75 1401,322.45 1403,319.26 1405,321.83 1407,324.4 1409,315.2 1411,310.48 1413,310.23 1415,309.94 1417,309.31 1419,308.69 1421,306.75 1423,304.25 1425,301.95 1427,300.12 1429,297.56 1431,294.27 1433,294.62 1435,300.42 1437,303.31 1439,305.87 1441,310.35 1443,311.35 1445,312.18 1447,311.49 1449,310.81 1451,308.61 1453,305.76 1455,302.91 1457,302.51 1459,303.16 1461,303.81 1463,304.63 1465,305.53 1467,306.43 1469,306.76 1471,306.84 1473,306.93 1475,307.23 1477,309.57 1479,311.69 1481,313.31 1483,314.94 1485,315.44 1487,315.81 1489,315.5 1491,315.2 1493,316.53 1495,317.04 1497,316.73 1499,316.53 1501,317.28 1503,318.03 1505,318.77 1507,319.43 1509,320.1 1511,320.77 1513,321.1 1515,321.1 1517,321.1 1519,320.73 1521,319.98 1523,319.23 1525,318.68 1527,318.35 1529,319.26 1531,320.69 1533,322 1535,323 1537,324 1539,319.83 1541,319.32 1543,320.63 1545,321.61 1547,321.81 1549,322.01 1551,322.45 1553,323.45 1555,324.45 1557,325.96 1559,327.52 1561,328.7 1563,329.5 1565,330.3 1567,330.8 1569,331 1571,331.2 1573,331.7 1575,332.5 1577,333.3 1579,332.83 1581,331.08 1583,329.51 1585,329.56 1587,329.61 1589,329.85 1591,331.85 1593,333.85 1595,334.41 1597,334.34 1599,334.65 1601,335.89 1603,337.22 1605,338.09 1607,338.75 1609,338.6 1611,338.35 1613,339.05 1615,345.45 1617,346.71 1619,347.51 1621,347.84 1623,347.71 1625,347.37 1627,346.74 1629,345.97 1631,344.45 1633,346.74 1635,346.81 1637,347.47 1639,348.39 1641,350.34 1643,353.09 1645,352.64 1647,352.31 1649,352.47 1651,353.14 1653,353.34 1655,353.34 1657,353.04 1659,352.74 1661,352.74 1663,352.38 1665,351.18 1667,348.66 1669,337.14 1671,329.3 1673,327.15 1675,328.65 1677,329.37 1679,329.02 1681,328.53 1683,330.48 1685,332.98 1687,334.68 1689,335.38 1691,333.38 1693,333.48 1695,333.91 1697,335.25 1699,335.43 1701,332.91 1703,330.65 1705,330.48 1707,331.24 1709,332.56 1711,333.66 1713,332.83 1715,333.48 1717,333.54 1719,334.42 1721,335.4 1723,335.17 1725,335.47 1725,336.99 1723,337.03 1721,337.46 1719,336.78 1717,336.06 1715,336.03 1713,335.68 1711,336.54 1709,335.44 1707,334.27 1705,333.72 1703,333.89 1701,336.15 1699,338.67 1697,338.49 1695,337.15 1693,336.72 1691,336.62 1689,338.62 1687,337.92 1685,336.22 1683,333.72 1681,331.77 1679,332.29 1677,332.94 1675,333.15 1673,330.71 1671,332.3 1669,339.07 1667,350.94 1665,353.7 1663,354.9 1661,355.26 1659,355.26 1657,355.56 1655,355.86 1653,355.86 1651,355.66 1649,354.99 1647,354.83 1645,355.16 1643,355.61 1641,352.86 1639,350.91 1637,349.99 1635,349.33 1633,349.26 1631,346.97 1629,348.49 1627,349.26 1625,349.89 1623,350.23 1621,350.36 1619,350.03 1617,349.29 1615,348.15 1613,342.86 1611,342.31 1609,342.56 1607,342.71 1605,342.05 1603,341.18 1601,339.85 1599,339.51 1597,340.01 1595,340.44 1593,340.15 1591,338.15 1589,336.15 1587,335.64 1585,335.29 1583,334.94 1581,336.48 1579,338.23 1577,338.7 1575,337.9 1573,337.1 1571,336.6 1569,336.4 1567,336.2 1565,335.7 1563,334.9 1561,334.1 1559,332.73 1557,330.79 1555,328.95 1553,327.95 1551,326.95 1549,326.51 1547,326.31 1545,326.11 1543,325.92 1541,325.73 1539,326.58 1537,329.4 1535,328.4 1533,327.4 1531,326.36 1529,325.29 1527,324.65 1525,324.98 1523,325.38 1521,325.83 1519,326.28 1517,326.5 1515,326.5 1513,326.5 1511,326.17 1509,325.5 1507,324.83 1505,324.17 1503,323.7 1501,323.25 1499,322.8 1497,323.37 1495,324.06 1493,323.73 1491,322.4 1489,322.7 1487,322.64 1485,321.51 1483,320.41 1481,319.54 1479,318.66 1477,318.17 1475,317.83 1473,317.28 1471,316.69 1469,316.11 1467,315.61 1465,315.31 1463,315.01 1461,314.88 1459,315.13 1457,315.38 1455,316.14 1453,318.09 1451,320.04 1449,321.49 1447,321.81 1445,322.12 1443,321.25 1441,320.25 1439,316.67 1437,314.11 1435,311.1 1433,304.1 1431,302.76 1429,305.19 1427,306.82 1425,307.65 1423,309.65 1421,312.15 1419,314.31 1417,315.69 1415,317.06 1413,318.78 1411,320.53 1409,327.21 1407,338.8 1405,334.51 1403,330.23 1401,332.35 1399,334.75 1397,333.25 1395,331.75 1393,330.95 1391,330.45 1389,329.24 1387,326.39 1385,324.21 1383,324.79 1381,325.41 1379,326.54 1377,327.66 1375,327.61 1373,327.04 1371,325.64 1369,322.37 1367,320.12 1365,317.85 1363,315.52 1361,314.1 1359,313.6 1357,312.87 1355,310.12 1353,309.63 1351,309.38 1349,308.95 1347,308.35 1345,307.75 1343,306.91 1341,305.83 1339,304.8 1337,303.8 1335,303.15 1333,303.32 1331,303.96 1329,305.09 1327,306.17 1325,306.86 1323,307.54 1321,307.27 1319,306.58 1317,305.95 1315,305.45 1313,304.95 1311,305.13 1309,305.38 1307,304.92 1305,303.75 1303,306.48 1301,307.23 1299,307.26 1297,305.6 1295,303.6 1293,301.4 1291,298.73 1289,296.15 1287,293.65 1285,293.25 1283,294.94 1281,297.81 1279,300.39 1277,300.26 1275,300.14 1273,302.38 1271,305.63 1269,308.45 1267,310.28 1265,308.7 1263,303.7 1261,300.89 1259,299.01 1257,297.9 1255,298.57 1253,300.9 1251,304.68 1249,307.93 1247,308.55 1245,306.55 1243,304.62 1241,303.31 1239,301.99 1237,302.53 1235,303.87 1233,306.87 1231,310.06 1229,311.58 1227,311.43 1225,311.28 1223,310.85 1221,310.15 1219,309.45 1217,308.93 1215,308.58 1213,308.23 1211,308.33 1209,308.89 1207,309.45 1205,310" fill="#f00"/>
<polyline points="1205,306.38 1205.45,305.99 1205.9,308.65 1206.35,304.98 1206.8,306.81 1207.25,304.59 1207.7,308.55 1208.15,307.67 1208.6,309.41 1209.05,306.3 1209.5,307.3 1209.95,306.08 1210.4,304.93 1210.85,306.25 1211.3,303.67 1211.75,304.85 1212.2,307.01 1212.65,306.16 1213.1,305.14 1213.55,309.43 1214,306.78 1214.45,304.94 1214.9,306.26 1215.35,305.04 1215.8,305.18 1216.25,305.3 1216.7,310.09 1217.15,307.03 1217.6,306.87 1218.05,308.05 1218.5,310.57 1218.95,306.82 1219.4,305.16 1219.85,311.14 1220.3,303.98 1220.75,305.53 1221.2,308.64 1221.65,266.2 1222.1,305.53 1222.55,302.35 1223,308.24 1223.45,306.05 1223.9,306.17 1224.35,308.82 1224.8,308.49 1225.25,308.66 1225.7,306.38 1226.15,311.57 1226.6,313.1 1227.05,308.54 1227.5,306.25 1227.95,309.84 1228.4,309.55 1228.85,304.36 1229.3,305.53 1229.75,310.91 1230.2,307.32 1230.65,304.9 1231.1,305.8 1231.55,304.07 1232,303.08 1232.45,293.79 1232.9,308.52 1233.35,302.3 1233.8,294.49 1234.25,303.06 1234.7,299.7 1235.15,297.41 1235.6,302.88 1236.05,285.4 1236.5,301.69 1236.95,304.92 1237.4,304.41 1237.85,295.48 1238.3,295.99 1238.75,300.35 1239.2,293.75 1239.65,297.42 1240.1,302.86 1240.55,303.18 1241,302.15 1241.45,295.43 1241.9,305.42 1242.35,303.35 1242.8,303.75 1243.25,303.35 1243.7,297.72 1244.15,298.02 1244.6,299.04 1245.05,308.03 1245.5,302.34 1245.95,303.46 1246.4,303.98 1246.85,306.67 1247.3,307.26 1247.75,307.11 1248.2,302.66 1248.65,300.12 1249.1,303.19 1249.55,304 1250,306.62 1250.45,301.8 1250.9,298.43 1251.35,300.91 1251.8,292.99 1252.25,293.01 1252.7,292.39 1253.15,296.52 1253.6,301.8 1254.05,298.55 1254.5,299.26 1254.95,295.76 1255.4,295.26 1255.85,292.25 1256.3,292.32 1256.75,286.88 1257.2,287.26 1257.65,287.35 1258.1,295.97 1258.55,296.94 1259,299.37 1259.45,301.7 1259.9,294.74 1260.35,299.77 1260.8,303.08 1261.25,297.31 1261.7,301.39 1262.15,296.63 1262.6,289.6 1263.05,297.5 1263.5,294.72 1263.95,299.81 1264.4,298.25 1264.85,303.12 1265.3,292.55 1265.75,313.88 1266.2,323.2 1266.65,302.92 1267.1,297.78 1267.55,302.18 1268,306.43 1268.45,305.31 1268.9,304.73 1269.35,292.44 1269.8,293.8 1270.25,306.66 1270.7,302.29 1271.15,292.51 1271.6,293.93 1272.05,291.11 1272.5,292.34 1272.95,301.7 1273.4,296.54 1273.85,300.81 1274.3,297.12 1274.75,290.11 1275.2,292.53 1275.65,302.17 1276.1,294.42 1276.55,292.16 1277,299.98 1277.45,297.22 1277.9,296.58 1278.35,301.41 1278.8,291.76 1279.25,297.32 1279.7,293.04 1280.15,290.96 1280.6,292 1281.05,297.31 1281.5,293.95 1281.95,288.84 1282.4,289.17 1282.85,295.6 1283.3,294.7 1283.75,288.93 1284.2,294.71 1284.65,290.58 1285.1,287.7 1285.55,289.67 1286,292.4 1286.45,294.22 1286.9,293.86 1287.35,291.12 1287.8,291.07 1288.25,289.95 1288.7,293.08 1289.15,293.19 1289.6,295.25 1290.05,293.7 1290.5,295.16 1290.95,295.31 1291.4,295.34 1291.85,295.88 1292.3,296.73 1292.75,297.11 1293.2,300.44 1293.65,300.69 1294.1,298.85 1294.55,301.85 1295,302.33 1295.45,304.63 1295.9,302.75 1296.35,302.83 1296.8,302.46 1297.25,304.08 1297.7,305.24 1298.15,305.3 1298.6,305.11 1299.05,306.53 1299.5,306.51 1299.95,306.43 1300.4,304.15 1300.85,305.29 1301.3,302.62 1301.75,301.91 1302.2,283.6 1302.65,308.13 1303.1,306.97 1303.55,302.13 1304,298.98 1304.45,302.6 1304.9,305.57 1305.35,305.48 1305.8,298.63 1306.25,299.61 1306.7,297.19 1307.15,297.15 1307.6,294.15 1308.05,297.09 1308.5,290.36 1308.95,291.46 1309.4,300.54 1309.85,295.26 1310.3,301.71 1310.75,294.2 1311.2,297.52 1311.65,301.46 1312.1,296.09 1312.55,296.86 1313,307.05 1313.45,299.26 1313.9,297.7 1314.35,298.08 1314.8,300.63 1315.25,300.87 1315.7,304.98 1316.15,304.94 1316.6,300.31 1317.05,299.9 1317.5,295.76 1317.95,295.04 1318.4,297.8 1318.85,304.27 1319.3,302.87 1319.75,305.57 1320.2,306.68 1320.65,302.34 1321.1,309.56 1321.55,301.7 1322,299.87 1322.45,300.5 1322.9,307.22 1323.35,302.66 1323.8,299.34 1324.25,303.69 1324.7,307.12 1325.15,302.38 1325.6,301.01 1326.05,306.12 1326.5,306.34 1326.95,306.09 1327.4,299.08 1327.85,301.9 1328.3,302.39 1328.75,293.41 1329.2,304.12 1329.65,300.81 1330.1,298.08 1330.55,306.61 1331,300.94 1331.45,295.41 1331.9,297.32 1332.35,300.66 1332.8,302.29 1333.25,299.13 1333.7,296.05 1334.15,296.7 1334.6,296.89 1335.05,296.78 1335.5,299.85 1335.95,299.35 1336.4,300.74 1336.85,299.06 1337.3,298.91 1337.75,300.69 1338.2,300.76 1338.65,304.5 1339.1,300.4 1339.55,302.6 1340,302.54 1340.45,299.74 1340.9,304.36 1341.35,304 1341.8,300.03 1342.25,304.66 1342.7,306.4 1343.15,303.3 1343.6,308.14 1344.05,305.99 1344.5,303.2 1344.95,306.27 1345.4,305.03 1345.85,303.03 1346.3,302.59 1346.75,305.81 1347.2,304.68 1347.65,307.34 1348.1,307.35 1348.55,305.68 1349,305.52 1349.45,310.13 1349.9,310.27 1350.35,309.1 1350.8,306.71 1351.25,305.17 1351.7,306.15 1352.15,310.38 1352.6,308.7 1353.05,307.02 1353.5,304.97 1353.95,307.45 1354.4,305.82 1354.85,307.45 1355.3,309.78 1355.75,311.21 1356.2,310.53 1356.65,310.44 1357.1,311.85 1357.55,313.87 1358,312.77 1358.45,310.58 1358.9,313.82 1359.35,312.87 1359.8,314.43 1360.25,312.64 1360.7,312.58 1361.15,312.42 1361.6,313.29 1362.05,312.44 1362.5,311.75 1362.95,312.13 1363.4,314.11 1363.85,314.47 1364.3,314.9 1364.75,318.19 1365.2,318.03 1365.65,318.73 1366.1,317.32 1366.55,318.47 1367,318.37 1367.45,318.73 1367.9,320.52 1368.35,321 1368.8,321.03 1369.25,321.2 1369.7,319.22 1370.15,320.59 1370.6,323.33 1371.05,322.96 1371.5,322.64 1371.95,324.87 1372.4,322.49 1372.85,322.58 1373.3,326.21 1373.75,323.79 1374.2,328.01 1374.65,326.38 1375.1,326.99 1375.55,328.11 1376,319.29 1376.45,323.19 1376.9,319.7 1377.35,321.5 1377.8,322.67 1378.25,327.18 1378.7,323.16 1379.15,328.29 1379.6,320.99 1380.05,321.3 1380.5,321.62 1380.95,324.69 1381.4,321.1 1381.85,318.25 1382.3,318.85 1382.75,314.64 1383.2,324.29 1383.65,323.63 1384.1,322.17 1384.55,321.25 1385,317.56 1385.45,317.76 1385.9,323.19 1386.35,318.3 1386.8,318.14 1387.25,327.89 1387.7,329.49 1388.15,325.71 1388.6,326.58 1389.05,325.9 1389.5,331.19 1389.95,324.82 1390.4,325.99 1390.85,327.83 1391.3,331.93 1391.75,326.05 1392.2,327.15 1392.65,324.59 1393.1,323.66 1393.55,323.62 1394,326.58 1394.45,330.28 1394.9,324.99 1395.35,324.84 1395.8,325.88 1396.25,329.27 1396.7,331.4 1397.15,284.8 1397.6,329.92 1398.05,325.77 1398.5,332.08 1398.95,326.8 1399.4,337 1399.85,325.72 1400.3,327.76 1400.75,323.5 1401.2,327.32 1401.65,327.01 1402.1,326.05 1402.55,326.13 1403,329.08 1403.45,322.61 1403.9,325.84 1404.35,326.83 1404.8,318.65 1405.25,329.04 1405.7,325.04 1406.15,325.25 1406.6,327.46 1407.05,331.42 1407.5,341.8 1407.95,329.71 1408.4,320.97 1408.85,325.15 1409.3,322.19 1409.75,315.8 1410.2,315.59 1410.65,319.19 1411.1,317.82 1411.55,318.45 1412,315.89 1412.45,319.29 1412.9,320.88 1413.35,317.22 1413.8,309.06 1414.25,318.79 1414.7,312.58 1415.15,309.08 1415.6,308.14 1416.05,313.08 1416.5,315.85 1416.95,315.73 1417.4,311.75 1417.85,315.75 1418.3,312.19 1418.75,310.23 1419.2,311.36 1419.65,311.63 1420.1,310.76 1420.55,310.97 1421,305.49 1421.45,311.78 1421.9,307.44 1422.35,309.14 1422.8,305.56 1423.25,306.77 1423.7,305.69 1424.15,301.8 1424.6,305.41 1425.05,306.38 1425.5,301.87 1425.95,299.64 1426.4,301.17 1426.85,300.76 1427.3,303.16 1427.75,302.9 1428.2,307.54 1428.65,304.72 1429.1,300.83 1429.55,301.07 1430,294.04 1430.45,294.59 1430.9,294.6 1431.35,296.99 1431.8,298.42 1432.25,297.95 1432.7,302.28 1433.15,297.61 1433.6,302.22 1434.05,302.3 1434.5,304.15 1434.95,307.06 1435.4,305.58 1435.85,308.05 1436.3,307.77 1436.75,313.11 1437.2,309.15 1437.65,310.98 1438.1,318.04 1438.55,315.42 1439,314.35 1439.45,317.29 1439.9,308.99 1440.35,317.45 1440.8,318.75 1441.25,317.82 1441.7,320.14 1442.15,319.87 1442.6,321.74 1443.05,314.45 1443.5,318.1 1443.95,314.7 1444.4,321.94 1444.85,318.51 1445.3,311.72 1445.75,316.63 1446.2,312.44 1446.65,320.37 1447.1,315.68 1447.55,308.87 1448,313.17 1448.45,320.43 1448.9,318.31 1449.35,313.48 1449.8,318.38 1450.25,318.35 1450.7,322.25 1451.15,319.73 1451.6,316.29 1452.05,309.47 1452.5,313.44 1452.95,313.71 1453.4,311.78 1453.85,313.24 1454.3,304.18 1454.75,312.07 1455.2,309.68 1455.65,310.92 1456.1,308.62 1456.55,307.19 1457,310.09 1457.45,313.39 1457.9,307.97 1458.35,310.62 1458.8,305.41 1459.25,310.73 1459.7,309.53 1460.15,303.05 1460.6,313.96 1461.05,305.84 1461.5,309.25 1461.95,303.5 1462.4,301.9 1462.85,311.41 1463.3,304.01 1463.75,302.6 1464.2,307.8 1464.65,303.44 1465.1,308.59 1465.55,317.64 1466,310.2 1466.45,312.2 1466.9,313.39 1467.35,312.43 1467.8,310.97 1468.25,317.14 1468.7,311.95 1469.15,312.97 1469.6,312.21 1470.05,306.47 1470.5,312.23 1470.95,312.07 1471.4,314.62 1471.85,315.29 1472.3,319.27 1472.75,304.86 1473.2,308.58 1473.65,309.56 1474.1,307.99 1474.55,313.59 1475,312.37 1475.45,313.41 1475.9,306.5 1476.35,308.73 1476.8,312.82 1477.25,312.32 1477.7,312.05 1478.15,313.94 1478.6,313.99 1479.05,311.93 1479.5,319.8 1479.95,314.5 1480.4,317.64 1480.85,318.15 1481.3,319.38 1481.75,315.86 1482.2,314.58 1482.65,318.12 1483.1,318.43 1483.55,313.88 1484,313.92 1484.45,315.81 1484.9,317.06 1485.35,317.69 1485.8,319.75 1486.25,316.41 1486.7,324.04 1487.15,323.01 1487.6,323.9 1488.05,321.09 1488.5,314.07 1488.95,318.93 1489.4,317.19 1489.85,319.76 1490.3,318.26 1490.75,320.64 1491.2,316.56 1491.65,317.77 1492.1,319.33 1492.55,317.51 1493,318.39 1493.45,322.04 1493.9,326.01 1494.35,320.98 1494.8,323.1 1495.25,317.51 1495.7,318.6 1496.15,320.94 1496.6,321.89 1497.05,317.42 1497.5,321.2 1497.95,320.4 1498.4,323.32 1498.85,322.64 1499.3,321.64 1499.75,319.13 1500.2,320.58 1500.65,318.05 1501.1,317.9 1501.55,316.11 1502,316.62 1502.45,317.02 1502.9,320.04 1503.35,321.09 1503.8,317.97 1504.25,320.54 1504.7,322.19 1505.15,323.75 1505.6,321.78 1506.05,322.33 1506.5,321.18 1506.95,324.1 1507.4,319 1507.85,322.47 1508.3,318.61 1508.75,325.82 1509.2,325.43 1509.65,319.06 1510.1,321.29 1510.55,319.81 1511,319.51 1511.45,321.99 1511.9,321.5 1512.35,325.82 1512.8,322.9 1513.25,321.12 1513.7,323.2 1514.15,324.62 1514.6,325.78 1515.05,325.23 1515.5,320.6 1515.95,321.43 1516.4,323.01 1516.85,321.75 1517.3,325.17 1517.75,323.21 1518.2,323.46 1518.65,322.67 1519.1,323.4 1519.55,319.73 1520,327.38 1520.45,322.33 1520.9,321 1521.35,318.47 1521.8,321.69 1522.25,318.83 1522.7,322.64 1523.15,325.38 1523.6,324.16 1524.05,321.09 1524.5,325.12 1524.95,321.79 1525.4,321.6 1525.85,321.8 1526.3,320.33 1526.75,322.43 1527.2,318.29 1527.65,316.82 1528.1,324.04 1528.55,320.4 1529,321.1 1529.45,323.18 1529.9,321.73 1530.35,320.04 1530.8,322.43 1531.25,321.27 1531.7,324.85 1532.15,323.32 1532.6,323.74 1533.05,326.33 1533.5,321.64 1533.95,321.25 1534.4,326.44 1534.85,328.62 1535.3,326.47 1535.75,324.53 1536.2,328.83 1536.65,328.05 1537.1,329.28 1537.55,322.14 1538,324.2 1538.45,321.35 1538.9,319.81 1539.35,323.6 1539.8,324.37 1540.25,321.18 1540.7,321.52 1541.15,326.08 1541.6,324.89 1542.05,322.89 1542.5,324.24 1542.95,323.64 1543.4,320.75 1543.85,322.14 1544.3,324.07 1544.75,325.03 1545.2,321.76 1545.65,322.05 1546.1,322.55 1546.55,320.9 1547,325.65 1547.45,325.18 1547.9,326.77 1548.35,320.9 1548.8,322.11 1549.25,327.38 1549.7,322.1 1550.15,321.08 1550.6,324.32 1551.05,327.65 1551.5,326.57 1551.95,323.57 1552.4,326.18 1552.85,326.49 1553.3,326.45 1553.75,326.87 1554.2,327.96 1554.65,328.95 1555.1,329.68 1555.55,329.57 1556,327.56 1556.45,324.42 1556.9,328.8 1557.35,325.63 1557.8,332.73 1558.25,327.62 1558.7,326.08 1559.15,326.41 1559.6,330.77 1560.05,331.69 1560.5,332.75 1560.95,332.23 1561.4,329.88 1561.85,333.31 1562.3,330.54 1562.75,328.44 1563.2,333.76 1563.65,333.86 1564.1,330.69 1564.55,331.92 1565,335.17 1565.45,335.61 1565.9,331.25 1566.35,335.61 1566.8,329.52 1567.25,332.85 1567.7,334.31 1568.15,333.42 1568.6,333.86 1569.05,330.04 1569.5,332.87 1569.95,334.77 1570.4,331.84 1570.85,333.87 1571.3,333.52 1571.75,330.02 1572.2,331.88 1572.65,335.22 1573.1,331.01 1573.55,334.13 1574,335.46 1574.45,332.14 1574.9,334.14 1575.35,337.2 1575.8,337.42 1576.25,333.7 1576.7,337.88 1577.15,337.11 1577.6,336.66 1578.05,339.84 1578.5,338.13 1578.95,336.71 1579.4,337.52 1579.85,336.63 1580.3,337.54 1580.75,334.19 1581.2,329.64 1581.65,336.13 1582.1,335.07 1582.55,333.94 1583,332.54 1583.45,332.09 1583.9,332.51 1584.35,330.11 1584.8,333.91 1585.25,332.87 1585.7,330.18 1586.15,332.83 1586.6,331.78 1587.05,332.41 1587.5,334.03 1587.95,337.24 1588.4,331.03 1588.85,333.66 1589.3,335.3 1589.75,335.17 1590.2,338.36 1590.65,334.12 1591.1,334.13 1591.55,335.36 1592,332.31 1592.45,338.82 1592.9,333.93 1593.35,338.35 1593.8,340.88 1594.25,335.82 1594.7,336.75 1595.15,336.77 1595.6,341.56 1596.05,338.56 1596.5,333.13 1596.95,339.14 1597.4,339.85 1597.85,333.03 1598.3,333.04 1598.75,340.77 1599.2,337.91 1599.65,334.02 1600.1,338.51 1600.55,340.13 1601,334.96 1601.45,339.76 1601.9,339.89 1602.35,338.94 1602.8,337.91 1603.25,339.83 1603.7,338.33 1604.15,339.85 1604.6,339.51 1605.05,339.27 1605.5,341.02 1605.95,342.14 1606.4,342.28 1606.85,341.69 1607.3,343.69 1607.75,339.06 1608.2,340.53 1608.65,340.91 1609.1,342.65 1609.55,337.6 1610,339.18 1610.45,339.67 1610.9,340.55 1611.35,343.19 1611.8,341.19 1612.25,340.37 1612.7,341.42 1613.15,342.74 1613.6,341.37 1614.05,344.34 1614.5,341.39 1614.95,347.7 1615.4,348.03 1615.85,348.58 1616.3,349.49 1616.75,347.86 1617.2,348.57 1617.65,348.74 1618.1,348.02 1618.55,347.78 1619,347.8 1619.45,349.6 1619.9,347.07 1620.35,347.26 1620.8,348.89 1621.25,350.51 1621.7,349.28 1622.15,350.47 1622.6,349.17 1623.05,348.41 1623.5,347.12 1623.95,348.74 1624.4,350.58 1624.85,349.03 1625.3,347.51 1625.75,348.88 1626.2,346.86 1626.65,346.68 1627.1,348.95 1627.55,348.4 1628,348.79 1628.45,347.94 1628.9,347.25 1629.35,347.12 1629.8,346.24 1630.25,347.27 1630.7,344.6 1631.15,344.29 1631.6,346.19 1632.05,348.78 1632.5,347.53 1632.95,346.15 1633.4,349.85 1633.85,347.4 1634.3,347.7 1634.75,348.57 1635.2,348.61 1635.65,348.18 1636.1,346.75 1636.55,348.89 1637,347.73 1637.45,348.54 1637.9,349.79 1638.35,348.88 1638.8,347.65 1639.25,348.89 1639.7,350.68 1640.15,351.35 1640.6,349.58 1641.05,351.61 1641.5,353.39 1641.95,355.64 1642.4,355.11 1642.85,354.65 1643.3,353.99 1643.75,354.62 1644.2,354.95 1644.65,353.92 1645.1,353.57 1645.55,355.63 1646,353.96 1646.45,352.85 1646.9,354.19 1647.35,352.27 1647.8,352.09 1648.25,354.26 1648.7,353.77 1649.15,354.65 1649.6,354.89 1650.05,353.41 1650.5,354.67 1650.95,354.04 1651.4,354.71 1651.85,354.9 1652.3,354.56 1652.75,353.21 1653.2,354.71 1653.65,354.64 1654.1,355.17 1654.55,353.56 1655,354.66 1655.45,354.34 1655.9,353.99 1656.35,354.05 1656.8,354.01 1657.25,352.75 1657.7,353.38 1658.15,353.49 1658.6,354.44 1659.05,353.9 1659.5,355.49 1659.95,354.87 1660.4,354.47 1660.85,354.29 1661.3,352.53 1661.75,354.17 1662.2,355.37 1662.65,352.97 1663.1,354.85 1663.55,354.16 1664,353.47 1664.45,352.38 1664.9,352.47 1665.35,351.39 1665.8,351.46 1666.25,350.96 1666.7,350.32 1667.15,348.42 1667.6,349.59 1668.05,345.81 1668.5,342.35 1668.95,338.99 1669.4,335 1669.85,334.79 1670.3,332.73 1670.75,331.89 1671.2,330.17 1671.65,330.25 1672.1,327.8 1672.55,329.91 1673,328.48 1673.45,327.79 1673.9,329.63 1674.35,330.12 1674.8,329.48 1675.25,330.01 1675.7,330.16 1676.15,330.22 1676.6,332.06 1677.05,332.16 1677.5,329.32 1677.95,330.73 1678.4,332.26 1678.85,329.85 1679.3,329.69 1679.75,329.1 1680.2,330.71 1680.65,327.86 1681.1,329.57 1681.55,330.57 1682,330.61 1682.45,332.58 1682.9,332.98 1683.35,332.08 1683.8,331.85 1684.25,332.19 1684.7,334.72 1685.15,334.62 1685.6,335.34 1686.05,334.42 1686.5,337.43 1686.95,337.67 1687.4,337.73 1687.85,335.39 1688.3,339.33 1688.75,338.82 1689.2,335.57 1689.65,337.48 1690.1,335.89 1690.55,334.39 1691,333.8 1691.45,335.34 1691.9,335.41 1692.35,335.35 1692.8,334.83 1693.25,333.71 1693.7,335.34 1694.15,334.95 1694.6,335.04 1695.05,336.35 1695.5,338.24 1695.95,335.68 1696.4,337.7 1696.85,335.95 1697.3,338.09 1697.75,338.4 1698.2,337.87 1698.65,337.84 1699.1,335.92 1699.55,335.76 1700,337 1700.45,336.46 1700.9,337.04 1701.35,333.19 1701.8,332.7 1702.25,332.89 1702.7,332.45 1703.15,331.55 1703.6,331.4 1704.05,331.68 1704.5,333.55 1704.95,343.8 1705.4,331.3 1705.85,332.73 1706.3,330.28 1706.75,331.08 1707.2,331.77 1707.65,333.14 1708.1,330.99 1708.55,332.89 1709,332.61 1709.45,335.42 1709.9,336 1710.35,334.98 1710.8,335.71 1711.25,333.65 1711.7,334.81 1712.15,334.85 1712.6,335.63 1713.05,333.95 1713.5,332.34 1713.95,335.02 1714.4,333.49 1714.85,333.97 1715.3,334.31 1715.75,336.47 1716.2,335 1716.65,336.05 1717.1,335.07 1717.55,333.37 1718,335.07 1718.45,335.62 1718.9,335.02 1719.35,334.39 1719.8,338.01 1720.25,338.12 1720.7,337.18 1721.15,336.91 1721.6,337.19 1722.05,336.87 1722.5,335.09 1722.95,334.87 1723.4,336.48 1723.85,337.1 1724.3,337.01 1724.75,336.86 1725.2,336.35 1725.65,336.91 1726.1,337.34 1726.55,336.89 1727,337.21 1727.45,337.24" fill="none" stroke="#f00" stroke-width="2.6" stroke-linejoin="round" />
</g>
<line x1="1726" y1="110" x2="1726" y2="455" stroke="#1f77b4" stroke-width="2" stroke-dasharray="2.08 3.44"/>
<line x1="1800" y1="455" x2="1794.6" y2="455" stroke="#f00" stroke-width="1.4" />
<line x1="1800" y1="386" x2="1794.6" y2="386" stroke="#f00" stroke-width="1.4" />
<line x1="1800" y1="317" x2="1794.6" y2="317" stroke="#f00" stroke-width="1.4" />
<line x1="1800" y1="248" x2="1794.6" y2="248" stroke="#f00" stroke-width="1.4" />
<line x1="1800" y1="179" x2="1794.6" y2="179" stroke="#f00" stroke-width="1.4" />
<line x1="1800" y1="110" x2="1794.6" y2="110" stroke="#f00" stroke-width="1.4" />
<line x1="1800" y1="110" x2="1800" y2="455" stroke="#f00" stroke-width="2"/>
<path d="M1801 110H1205V455H1801" fill="none" stroke="#000" stroke-width="2"/>
<line x1="1244.82" y1="455" x2="1244.82" y2="449.6" stroke="#000" stroke-width="1.4" />
<line x1="1319.19" y1="455" x2="1319.19" y2="449.6" stroke="#000" stroke-width="1.4" />
<line x1="1393.57" y1="455" x2="1393.57" y2="449.6" stroke="#000" stroke-width="1.4" />
<line x1="1467.94" y1="455" x2="1467.94" y2="449.6" stroke="#000" stroke-width="1.4" />
<line x1="1542.32" y1="455" x2="1542.32" y2="449.6" stroke="#000" stroke-width="1.4" />
<line x1="1616.69" y1="455" x2="1616.69" y2="449.6" stroke="#000" stroke-width="1.4" />
<line x1="1691.07" y1="455" x2="1691.07" y2="449.6" stroke="#000" stroke-width="1.4" />
<line x1="1765.44" y1="455" x2="1765.44" y2="449.6" stroke="#000" stroke-width="1.4" />
<line x1="1205" y1="455" x2="1210.4" y2="455" stroke="#000" stroke-width="1.4" />
<line x1="1205" y1="411.88" x2="1210.4" y2="411.88" stroke="#000" stroke-width="1.4" />
<line x1="1205" y1="368.75" x2="1210.4" y2="368.75" stroke="#000" stroke-width="1.4" />
<line x1="1205" y1="325.62" x2="1210.4" y2="325.62" stroke="#000" stroke-width="1.4" />
<line x1="1205" y1="282.5" x2="1210.4" y2="282.5" stroke="#000" stroke-width="1.4" />
<line x1="1205" y1="239.38" x2="1210.4" y2="239.38" stroke="#000" stroke-width="1.4" />
<line x1="1205" y1="196.25" x2="1210.4" y2="196.25" stroke="#000" stroke-width="1.4" />
<line x1="1205" y1="153.12" x2="1210.4" y2="153.12" stroke="#000" stroke-width="1.4" />
<line x1="1205" y1="110" x2="1210.4" y2="110" stroke="#000" stroke-width="1.4" />
<text x="1199.2" y="461.9" font-size="20" text-anchor="end" fill="#000" >−20</text>
<text x="1199.2" y="418.77" font-size="20" text-anchor="end" fill="#000" >−15</text>
<text x="1199.2" y="375.65" font-size="20" text-anchor="end" fill="#000" >−10</text>
<text x="1199.2" y="332.52" font-size="20" text-anchor="end" fill="#000" >−5</text>
<text x="1199.2" y="289.4" font-size="20" text-anchor="end" fill="#000" >0</text>
<text x="1199.2" y="246.28" font-size="20" text-anchor="end" fill="#000" >5</text>
<text x="1199.2" y="203.15" font-size="20" text-anchor="end" fill="#000" >10</text>
<text x="1199.2" y="160.03" font-size="20" text-anchor="end" fill="#000" >15</text>
<text x="1199.2" y="116.9" font-size="20" text-anchor="end" fill="#000" >20</text>
<text x="1805" y="462.3" font-size="20" text-anchor="start" fill="#f00" >0</text>
<text x="1805" y="393.3" font-size="20" text-anchor="start" fill="#f00" >200</text>
<text x="1805" y="324.3" font-size="20" text-anchor="start" fill="#f00" >400</text>
<text x="1805" y="255.3" font-size="20" text-anchor="start" fill="#f00" >600</text>
<text x="1805" y="186.3" font-size="20" text-anchor="start" fill="#f00" >800</text>
<text x="1805" y="117.3" font-size="20" text-anchor="start" fill="#f00" >1000</text>
<text x="1115.8" y="282.2" font-size="24" text-anchor="middle" fill="#000" transform="rotate(-90 1115.8 282.2)" >IMF Bz</text>
<text x="1145.8" y="282.2" font-size="24" text-anchor="middle" fill="#000" transform="rotate(-90 1145.8 282.2)" >( nT )</text>
<text x="1879.3" y="283" font-size="24" text-anchor="middle" fill="#f00" transform="rotate(-90 1879.3 283)" >SW Velocity</text>
<text fill="#f00" transform="rotate(-90 1912.3 282.8)"><tspan x="1855.25" y="282.8" font-size="24">(</tspan><tspan x="1872.15" y="282.8" font-size="24">km</tspan><tspan x="1913.55" y="282.8" font-size="24">s</tspan><tspan x="1925.55" y="273" font-size="16.8">−1</tspan><tspan x="1959.95" y="282.8" font-size="24">)</tspan></text>
<line x1="1205" y1="512" x2="1800" y2="512" stroke="#000" stroke-width="2" stroke-dasharray="2.08 3.44"/>
<clipPath id="cb2"><rect x="1205" y="478" width="595" height="344"/></clipPath><g clip-path="url(#cb2)">
<path d="M1206 519.25C1206.62 518.87 1208.5 517.25 1209.75 517C1211 516.75 1212.25 517.87 1213.5 517.75C1214.75 517.62 1216.12 516.37 1217.25 516.25C1218.37 516.12 1218.75 517.37 1220.25 517C1221.75 516.62 1224.25 513.5 1226.25 514C1228.25 514.5 1230.62 519.12 1232.25 520C1233.87 520.87 1234.62 519.87 1236 519.25C1237.37 518.62 1239 517.42 1240.5 516.25C1242 515.07 1243.37 512.57 1245 512.2C1246.62 511.82 1248.62 514.02 1250.25 514C1251.87 513.97 1253.12 512.17 1254.75 512.05C1256.37 511.92 1258.62 512.05 1260 513.25C1261.37 514.45 1261.87 517.05 1263 519.25C1264.12 521.45 1265.75 525.25 1266.75 526.45C1267.75 527.65 1268 527.4 1269 526.45C1270 525.5 1271.62 522.25 1272.75 520.75C1273.87 519.25 1274.87 518.07 1275.75 517.45C1276.62 516.82 1277 516.57 1278 517C1279 517.42 1280.5 519.12 1281.75 520C1283 520.87 1284.12 521.37 1285.5 522.25C1286.87 523.12 1288.62 525.25 1290 525.25C1291.37 525.25 1292.5 523.37 1293.75 522.25C1295 521.12 1296.25 519.75 1297.5 518.5C1298.75 517.25 1300.12 515.45 1301.25 514.75C1302.37 514.05 1303.12 514.05 1304.25 514.3C1305.37 514.55 1306.62 515.67 1308 516.25C1309.37 516.82 1311 517.62 1312.5 517.75C1314 517.87 1315.5 517.12 1317 517C1318.5 516.87 1320.25 517.2 1321.5 517C1322.75 516.8 1323.37 515.55 1324.5 515.8C1325.62 516.05 1326.62 517.85 1328.25 518.5C1329.87 519.15 1332.62 519.82 1334.25 519.7C1335.87 519.57 1336.87 518.32 1338 517.75C1339.12 517.17 1340 516.62 1341 516.25C1342 515.87 1343 516.07 1344 515.5C1345 514.92 1346 513.3 1347 512.8C1348 512.3 1349 512.22 1350 512.5C1351 512.77 1352 513.7 1353 514.45C1354 515.2 1354.62 516.95 1356 517C1357.37 517.05 1359.75 516 1361.25 514.75C1362.75 513.5 1363.62 510.5 1365 509.5C1366.37 508.5 1368 508.75 1369.5 508.75C1371 508.75 1372.62 508.75 1374 509.5C1375.37 510.25 1376.5 512.55 1377.75 513.25C1379 513.95 1380.25 513.45 1381.5 513.7C1382.75 513.95 1383.87 514.82 1385.25 514.75C1386.62 514.67 1388.37 513.32 1389.75 513.25C1391.12 513.17 1391.87 513.67 1393.5 514.3C1395.12 514.92 1397.75 516.42 1399.5 517C1401.25 517.57 1402.5 517.42 1404 517.75C1405.5 518.07 1407.25 519.57 1408.5 518.95C1409.75 518.32 1410.37 514.32 1411.5 514C1412.62 513.67 1414.12 516.87 1415.25 517C1416.37 517.12 1417.12 514.87 1418.25 514.75C1419.37 514.62 1420.62 515.57 1422 516.25C1423.37 516.92 1425 517.92 1426.5 518.8C1428 519.67 1429.37 520.42 1431 521.5C1432.62 522.57 1434.75 524.87 1436.25 525.25C1437.75 525.62 1438.62 524.62 1440 523.75C1441.37 522.87 1443 521.05 1444.5 520C1446 518.95 1448.08 517.82 1449 517.45C1449.92 517.07 1448.96 516.82 1450 517.75C1451.04 518.67 1453.87 522.5 1455.25 523C1456.62 523.5 1457.12 521.92 1458.25 520.75C1459.37 519.57 1461 516.7 1462 515.95C1463 515.2 1463.25 515.75 1464.25 516.25C1465.25 516.75 1466.62 518.4 1468 518.95C1469.37 519.5 1471 519.45 1472.5 519.55C1474 519.65 1475.75 519.47 1477 519.55C1478.25 519.62 1478.5 520.05 1480 520C1481.5 519.95 1484 519.57 1486 519.25C1488 518.92 1490.37 518.47 1492 518.05C1493.62 517.62 1494.37 516.87 1495.75 516.7C1497.12 516.52 1498.75 516.5 1500.25 517C1501.75 517.5 1503.5 519.2 1504.75 519.7C1506 520.2 1506.75 519.62 1507.75 520C1508.75 520.37 1509.37 522.15 1510.75 521.95C1512.12 521.75 1514.37 519.8 1516 518.8C1517.62 517.8 1519.25 516.42 1520.5 515.95C1521.75 515.47 1522.37 515.65 1523.5 515.95C1524.62 516.25 1526.12 517.52 1527.25 517.75C1528.37 517.97 1529 517.62 1530.25 517.3C1531.5 516.97 1533.25 516.1 1534.75 515.8C1536.25 515.5 1537.87 516.1 1539.25 515.5C1540.62 514.9 1541.62 512.5 1543 512.2C1544.37 511.9 1546 513.27 1547.5 513.7C1549 514.12 1550.75 514.62 1552 514.75C1553.25 514.87 1553.87 514.9 1555 514.45C1556.12 514 1557.25 511.8 1558.75 512.05C1560.25 512.3 1562.37 515.42 1564 515.95C1565.62 516.47 1567 515.6 1568.5 515.2C1570 514.8 1571.5 513.92 1573 513.55C1574.5 513.17 1576.12 513.05 1577.5 512.95C1578.87 512.85 1580 512.27 1581.25 512.95C1582.5 513.62 1583.75 515.65 1585 517C1586.25 518.35 1587.37 520.85 1588.75 521.05C1590.12 521.25 1591.75 518.87 1593.25 518.2C1594.75 517.52 1596.5 516.87 1597.75 517C1599 517.12 1599.62 518.95 1600.75 518.95C1601.87 518.95 1603.12 517.37 1604.5 517C1605.87 516.62 1607.25 517 1609 516.7C1610.75 516.4 1613 515.72 1615 515.2C1617 514.67 1619.37 513.92 1621 513.55C1622.62 513.17 1623.5 513.3 1624.75 512.95C1626 512.6 1627.12 511.45 1628.5 511.45C1629.87 511.45 1631.37 512.4 1633 512.95C1634.62 513.5 1637 515.2 1638.25 514.75C1639.5 514.3 1639.62 511.25 1640.5 510.25C1641.37 509.25 1642.37 509.12 1643.5 508.75C1644.62 508.37 1646 508.05 1647.25 508C1648.5 507.95 1649.75 508.45 1651 508.45C1652.25 508.45 1653.62 507.95 1654.75 508C1655.87 508.05 1656.87 508.37 1657.75 508.75C1658.62 509.12 1658.62 510.37 1660 510.25C1661.37 510.12 1664.37 508.87 1666 508C1667.62 507.12 1668.75 505.82 1669.75 505C1670.75 504.17 1671 502.92 1672 503.05C1673 503.17 1674.75 504.3 1675.75 505.75C1676.75 507.2 1677.12 509.87 1678 511.75C1678.87 513.62 1680 515.7 1681 517C1682 518.3 1683 519.1 1684 519.55C1685 520 1686 520.12 1687 519.7C1688 519.27 1688.87 517.9 1690 517C1691.12 516.1 1692.62 514.67 1693.75 514.3C1694.87 513.92 1695.62 514.1 1696.75 514.75C1697.87 515.4 1699.37 517.45 1700.5 518.2C1701.62 518.95 1702.5 519.32 1703.5 519.25C1704.5 519.17 1705.5 517.87 1706.5 517.75C1707.5 517.62 1708.37 517.95 1709.5 518.5C1710.62 519.05 1712 520.42 1713.25 521.05C1714.5 521.67 1715.87 522.12 1717 522.25C1718.12 522.37 1719.05 522.05 1720 521.8C1720.95 521.55 1722.25 520.92 1722.7 520.75" fill="none" stroke="#000" stroke-width="2.6" stroke-linejoin="round"/>
<polygon points="1205,638.14 1207,637.4 1209,636.66 1211,636.41 1213,640.55 1215,644.68 1217,645.24 1219,640.44 1221,635.64 1223,633.87 1225,633.41 1227,632.94 1229,631.27 1231,629.61 1233,627.32 1235,623.59 1237,619.85 1239,620.32 1241,623.59 1243,626.85 1245,626.34 1247,625.41 1249,623.98 1251,620.58 1253,617.18 1255,612.95 1257,607.88 1259,602.82 1261,602.76 1263,603.96 1265,608.71 1267,613.46 1269,618.21 1271,620.98 1273,620.78 1275,620.18 1277,619.31 1279,618.45 1281,617.41 1283,616.36 1285,615.31 1287,618.41 1289,622.89 1291,626.34 1293,628.77 1295,631.19 1297,622.97 1299,612.07 1301,611.46 1303,610.86 1305,610.26 1307,609.66 1309,609.08 1311,608.52 1313,607.96 1315,607.49 1317,607.04 1319,607.61 1321,609.01 1323,608.31 1325,606.91 1327,610.03 1329,613.39 1331,610.2 1333,604.2 1335,599.07 1337,598.56 1339,601.01 1341,611.51 1343,618.41 1345,619.87 1347,621.34 1349,619.96 1351,617.36 1353,614.76 1355,604.77 1357,600.32 1359,598.87 1361,597.42 1363,600.35 1365,607.69 1367,612.37 1369,615.9 1371,619.44 1373,617.98 1375,616.51 1377,614.68 1379,612.02 1381,609.35 1383,612.71 1385,620.11 1387,627.51 1389,629.03 1391,629.89 1393,630.75 1395,628.37 1397,624.92 1399,629.33 1401,633.81 1403,625.14 1405,622.92 1407,622.32 1409,621.62 1411,619.95 1413,618.28 1415,607.92 1417,585.68 1419,587.21 1421,605.94 1423,627.03 1425,625.15 1427,620.68 1429,614.8 1431,608.93 1433,608.8 1435,608.67 1437,608.43 1439,608.16 1441,607.56 1443,603.96 1445,600.36 1447,598.97 1449,600.89 1451,603.64 1453,611.11 1455,610.68 1457,608.28 1459,607.02 1461,615.98 1463,624.94 1465,626.42 1467,626.58 1469,626.72 1471,626.85 1473,626.99 1475,630.46 1477,634.3 1479,639.64 1481,645.8 1483,650.03 1485,651.37 1487,652.7 1489,651.14 1491,648.34 1493,650.26 1495,655.26 1497,653.34 1499,651.41 1501,651.26 1503,651.42 1505,651.47 1507,651.45 1509,651.43 1511,651.41 1513,652.18 1515,652.95 1517,653.72 1519,654.4 1521,654.96 1523,655.03 1525,652.31 1527,649.59 1529,646.87 1531,649.62 1533,652.36 1535,653.1 1537,649.14 1539,640.77 1541,629.24 1543,624.98 1545,624.12 1547,624.12 1549,624.24 1551,625.44 1553,626.64 1555,629.28 1557,634.08 1559,638.88 1561,643.4 1563,647.8 1565,649.98 1567,651.91 1569,653.61 1571,654.34 1573,655.07 1575,651.05 1577,643.98 1579,646.78 1581,649.44 1583,651.84 1585,649.44 1587,650.42 1589,653.22 1591,654.38 1593,655.25 1595,658.35 1597,662.07 1599,658.03 1601,656.91 1603,658.67 1605,662.31 1607,669.04 1609,672.97 1611,672.71 1613,672.44 1615,670.31 1617,667.38 1619,664.44 1621,661.24 1623,658.04 1625,655.84 1627,655.95 1629,656.06 1631,655.8 1633,653.4 1635,651 1637,648.46 1639,646.37 1641,648.58 1643,650.79 1645,655.33 1647,660.29 1649,661.6 1651,660.47 1653,659.34 1655,661.23 1657,663.47 1659,660.43 1661,654.53 1663,652.21 1665,650.53 1667,641 1669,615 1671,615.64 1673,619.64 1675,623.4 1677,627 1679,627.16 1681,626.46 1683,633.46 1685,641.24 1687,652.14 1689,657.83 1691,655.48 1693,649.08 1695,643.32 1697,639.45 1699,645.45 1701,651.5 1703,648.1 1705,646.83 1707,650.53 1709,653.51 1711,655.78 1713,658.05 1715,657.22 1717,655.62 1719,653.66 1721,653.8 1723,663.6 1725,669.84 1725,677.77 1723,678 1721,677.8 1719,681.28 1717,682.98 1715,681.38 1713,680.29 1711,681.22 1709,682.16 1707,681.97 1705,680.67 1703,679.3 1701,677.9 1699,681.45 1697,684.89 1695,682.35 1693,682.92 1691,684.52 1689,682.57 1687,680.46 1685,678.36 1683,672.34 1681,665.34 1679,663.64 1677,662.2 1675,661.8 1673,656.76 1671,644.76 1669,639 1667,660.83 1665,666.79 1663,665.91 1661,665.93 1659,671.03 1657,674 1655,673.04 1653,672.13 1651,671.67 1649,671.2 1647,670.99 1645,671.15 1643,670.6 1641,666.09 1639,661.58 1637,664.59 1635,668.28 1633,670.68 1631,673.08 1629,672.57 1627,671.54 1625,670.51 1623,671.7 1621,673.83 1619,675.97 1617,686.37 1615,696.77 1613,703.16 1611,700.23 1609,697.29 1607,694.7 1605,692.34 1603,689.55 1601,686.51 1599,681.81 1597,677.08 1595,683.53 1593,688.37 1591,687.5 1589,685.98 1587,680.78 1585,679.37 1583,684.96 1581,679.36 1579,674.02 1577,668.82 1575,671.9 1573,672.19 1571,668.26 1569,664.33 1567,666.69 1565,670.62 1563,673.4 1561,665.8 1559,657.11 1557,645.91 1555,639.78 1553,637.36 1551,637.23 1549,637.09 1547,639.48 1545,642.15 1543,645.56 1541,651.96 1539,660.18 1537,664.66 1535,665.1 1533,665.85 1531,666.73 1529,667.61 1527,671.98 1525,676.34 1523,680.71 1521,677.07 1519,672.03 1517,670.18 1515,670.45 1513,670.72 1511,670.99 1509,671.97 1507,672.95 1505,673.93 1503,673.94 1501,672.5 1499,672.11 1497,677.59 1495,683.07 1493,679.06 1491,673.62 1489,670.02 1487,666.3 1485,662.3 1483,658.3 1481,658 1479,660.16 1477,660.66 1475,658.1 1473,655.68 1471,654.48 1469,653.28 1467,654.55 1465,659.51 1463,663.14 1461,659.3 1459,655.46 1457,660.12 1455,665.72 1453,667.43 1451,653.56 1449,653.11 1447,655.03 1445,652.84 1443,647.91 1441,642.97 1439,647.04 1437,652.11 1435,655.87 1433,654.4 1431,652.93 1429,652.84 1427,651.12 1425,648.66 1423,645.63 1421,637.63 1419,628.92 1417,615.08 1415,632.66 1413,642.93 1411,647.26 1409,651.59 1407,656.89 1405,662.29 1403,667.27 1401,670.6 1399,664.58 1397,659.14 1395,661.14 1393,661.85 1391,658.71 1389,655.57 1387,652.48 1385,649.88 1383,647.28 1381,646.79 1379,649.46 1377,652.12 1375,647.22 1373,639.09 1371,630.96 1369,625.82 1367,620.69 1365,615.28 1363,609.22 1361,607.01 1359,608.65 1357,610.28 1355,616.72 1353,632.04 1351,634.11 1349,636.18 1347,636.86 1345,634.33 1343,631.79 1341,626.88 1339,620.38 1337,619.44 1335,626.16 1333,652.35 1331,655.44 1329,658.13 1327,659.89 1325,661.39 1323,657.99 1321,655.29 1319,654.69 1317,653.58 1315,651.85 1313,650.84 1311,652.68 1309,654.52 1307,654.14 1305,651.54 1303,647.07 1301,641.8 1299,636.54 1297,638.64 1295,640.22 1293,639.71 1291,639.21 1289,636.71 1287,632.23 1285,629.41 1283,631.56 1281,633.71 1279,636.16 1277,641.29 1275,646.42 1273,648.62 1271,646.42 1269,646.29 1267,647.54 1265,648.79 1263,650.04 1261,647.24 1259,644.52 1257,642.12 1255,639.72 1253,637.82 1251,636.42 1249,635.02 1247,641.46 1245,649.86 1243,657.41 1241,657.35 1239,657.28 1237,658.95 1235,663.22 1233,667.48 1231,668.06 1229,667.06 1227,666.06 1225,664.93 1223,663.79 1221,663.16 1219,663.69 1217,664.23 1215,664.52 1213,664.65 1211,664.79 1209,663.19 1207,661.4 1205,659.61" fill="#f00"/>
<polyline points="1205,663.37 1205.45,639.83 1205.9,651.61 1206.35,646.66 1206.8,639.35 1207.25,641.93 1207.7,642.79 1208.15,647.83 1208.6,654.32 1209.05,662.97 1209.5,653.91 1209.95,664.58 1210.4,657.29 1210.85,652.04 1211.3,647.69 1211.75,638.39 1212.2,634.38 1212.65,648.75 1213.1,649.94 1213.55,655.74 1214,656.67 1214.45,641.55 1214.9,646.18 1215.35,643.77 1215.8,662.23 1216.25,654.98 1216.7,655.56 1217.15,645.96 1217.6,640.54 1218.05,645.57 1218.5,650.2 1218.95,656.07 1219.4,635.26 1219.85,652.16 1220.3,639.33 1220.75,641.2 1221.2,643.08 1221.65,602.7 1222.1,653.17 1222.55,660.19 1223,653.69 1223.45,640.87 1223.9,653.07 1224.35,653.81 1224.8,661.01 1225.25,653.29 1225.7,627.63 1226.15,634.49 1226.6,640.79 1227.05,661.61 1227.5,647.43 1227.95,662.42 1228.4,654.15 1228.85,629.06 1229.3,646.65 1229.75,656.95 1230.2,655.53 1230.65,623.25 1231.1,652.42 1231.55,637.24 1232,691.8 1232.45,632.47 1232.9,620.48 1233.35,619.66 1233.8,668.08 1234.25,671.78 1234.7,666.63 1235.15,651.95 1235.6,668.84 1236.05,649.58 1236.5,622.25 1236.95,613.1 1237.4,648.9 1237.85,611.65 1238.3,612.51 1238.75,620.69 1239.2,637.11 1239.65,623.72 1240.1,653.95 1240.55,638.98 1241,642.54 1241.45,646.78 1241.9,632.05 1242.35,642.77 1242.8,662.81 1243.25,631.41 1243.7,641.43 1244.15,645.8 1244.6,632.57 1245.05,636.18 1245.5,622.32 1245.95,629.61 1246.4,634.09 1246.85,641.83 1247.3,639.59 1247.75,628.38 1248.2,624.07 1248.65,636.56 1249.1,634.67 1249.55,620.88 1250,625.37 1250.45,621.93 1250.9,623.02 1251.35,617.07 1251.8,622.67 1252.25,622.32 1252.7,624.39 1253.15,636.73 1253.6,629.96 1254.05,613.56 1254.5,609.86 1254.95,616.84 1255.4,639.52 1255.85,639.62 1256.3,617.57 1256.75,577.5 1257.2,632.89 1257.65,614.3 1258.1,630.1 1258.55,585.6 1259,601.02 1259.45,611.53 1259.9,625.14 1260.35,650.66 1260.8,605.24 1261.25,627.44 1261.7,625.55 1262.15,591 1262.6,599.57 1263.05,650.55 1263.5,655.98 1263.95,747.6 1264.4,746.7 1264.85,742.2 1265.3,641.04 1265.75,647.64 1266.2,563.1 1266.65,632.93 1267.1,625.24 1267.55,614.02 1268,623 1268.45,614.96 1268.9,615.37 1269.35,625.66 1269.8,624.71 1270.25,649.89 1270.7,650.48 1271.15,648.73 1271.6,644.89 1272.05,624.28 1272.5,636.64 1272.95,615.92 1273.4,624.31 1273.85,627.14 1274.3,628.51 1274.75,643.6 1275.2,624.13 1275.65,649.1 1276.1,628.26 1276.55,639.55 1277,615.47 1277.45,636.87 1277.9,617.88 1278.35,628.8 1278.8,627.42 1279.25,633.44 1279.7,631.94 1280.15,629.67 1280.6,624.91 1281.05,636.5 1281.5,622.99 1281.95,624.53 1282.4,620.84 1282.85,624.57 1283.3,616.84 1283.75,619.68 1284.2,625.94 1284.65,618.92 1285.1,624.84 1285.55,618.4 1286,631.8 1286.45,623.96 1286.9,634.43 1287.35,630.33 1287.8,626.55 1288.25,634.1 1288.7,637.16 1289.15,639.47 1289.6,640.47 1290.05,638.73 1290.5,625.61 1290.95,637.61 1291.4,632.91 1291.85,635.57 1292.3,640.74 1292.75,630.87 1293.2,640.71 1293.65,641.68 1294.1,638.7 1294.55,634.25 1295,641.34 1295.45,637.07 1295.9,639.79 1296.35,641 1296.8,621.75 1297.25,631.28 1297.7,615.87 1298.15,618.53 1298.6,630.93 1299.05,610.88 1299.5,614.42 1299.95,618.16 1300.4,629.08 1300.85,631.37 1301.3,633.66 1301.75,620.13 1302.2,582 1302.65,633.57 1303.1,672 1303.55,613.2 1304,640.8 1304.45,616.11 1304.9,611.37 1305.35,650.7 1305.8,631.82 1306.25,602.31 1306.7,610.87 1307.15,662.16 1307.6,662.87 1308.05,631.72 1308.5,646.4 1308.95,648.3 1309.4,682.8 1309.85,600.99 1310.3,647.44 1310.75,637.48 1311.2,625.55 1311.65,600.68 1312.1,612.92 1312.55,624.95 1313,623.14 1313.45,632.37 1313.9,621.12 1314.35,648.33 1314.8,643.67 1315.25,606.27 1315.7,613.94 1316.15,636.62 1316.6,618.07 1317.05,658.81 1317.5,620.6 1317.95,699.9 1318.4,643.8 1318.85,606.45 1319.3,655.44 1319.75,628.45 1320.2,615.01 1320.65,614.33 1321.1,600.99 1321.55,723.3 1322,661.35 1322.45,631.92 1322.9,625.49 1323.35,636.15 1323.8,646.71 1324.25,614.46 1324.7,625.67 1325.15,639.25 1325.6,659.13 1326.05,642.16 1326.5,669.28 1326.95,632.74 1327.4,626.24 1327.85,677.4 1328.3,630.39 1328.75,647.9 1329.2,631.05 1329.65,631.04 1330.1,613.42 1330.55,618.53 1331,620.92 1331.45,627.72 1331.9,652.76 1332.35,642.25 1332.8,649.5 1333.25,655.49 1333.7,617.18 1334.15,644.58 1334.6,618.59 1335.05,595.5 1335.5,601.11 1335.95,606.92 1336.4,594.73 1336.85,623.13 1337.3,610.11 1337.75,616.89 1338.2,597.87 1338.65,608.61 1339.1,612.96 1339.55,606.31 1340,615.98 1340.45,616.58 1340.9,621.11 1341.35,612.3 1341.8,624.82 1342.25,622.53 1342.7,619.04 1343.15,616.16 1343.6,622.65 1344.05,623.08 1344.5,636.17 1344.95,620.1 1345.4,636.63 1345.85,637.23 1346.3,631.9 1346.75,630.62 1347.2,632.75 1347.65,618.94 1348.1,638.17 1348.55,626.69 1349,621.87 1349.45,639.6 1349.9,615.91 1350.35,615.31 1350.8,615.06 1351.25,614.1 1351.7,627.7 1352.15,635.9 1352.6,624.78 1353.05,620.14 1353.5,621.95 1353.95,613.68 1354.4,614.66 1354.85,613.71 1355.3,607.52 1355.75,603.92 1356.2,605.72 1356.65,605.54 1357.1,608.08 1357.55,598.18 1358,598.4 1358.45,601.05 1358.9,605.45 1359.35,597.47 1359.8,607.72 1360.25,609.32 1360.7,599.5 1361.15,606.5 1361.6,595.31 1362.05,599.95 1362.5,596.91 1362.95,608.07 1363.4,609.57 1363.85,609.66 1364.3,606.87 1364.75,606.06 1365.2,612.89 1365.65,611.67 1366.1,616.49 1366.55,610.18 1367,617.23 1367.45,619.32 1367.9,612.38 1368.35,613.11 1368.8,616.07 1369.25,617.68 1369.7,615.31 1370.15,622 1370.6,617.77 1371.05,623.64 1371.5,616.64 1371.95,615.93 1372.4,631.34 1372.85,614.52 1373.3,625.72 1373.75,644.94 1374.2,641.02 1374.65,613.1 1375.1,653.09 1375.55,625.57 1376,646.48 1376.45,664.8 1376.9,627.75 1377.35,641.58 1377.8,607.06 1378.25,626.56 1378.7,631.53 1379.15,622.65 1379.6,629.39 1380.05,646.06 1380.5,644.95 1380.95,616.96 1381.4,638.3 1381.85,646.74 1382.3,630.23 1382.75,634.15 1383.2,607.49 1383.65,609.34 1384.1,633.8 1384.55,613.05 1385,643.01 1385.45,650.96 1385.9,624.51 1386.35,621.32 1386.8,634.15 1387.25,641.28 1387.7,649.32 1388.15,638.19 1388.6,640.58 1389.05,628.4 1389.5,643.47 1389.95,631.82 1390.4,586.5 1390.85,652.96 1391.3,624.91 1391.75,645.78 1392.2,628.41 1392.65,656.28 1393.1,630.59 1393.55,661.98 1394,661.77 1394.45,667.36 1394.9,650.98 1395.35,643.74 1395.8,660.61 1396.25,623.59 1396.7,637.84 1397.15,634.27 1397.6,600.9 1398.05,620.02 1398.5,621.51 1398.95,623 1399.4,667.16 1399.85,644.21 1400.3,659.36 1400.75,649.47 1401.2,644.86 1401.65,670.63 1402.1,622.09 1402.55,636.4 1403,627.07 1403.45,573.9 1403.9,615.9 1404.35,678.3 1404.8,616.01 1405.25,656.86 1405.7,628.56 1406.15,629.42 1406.6,634.01 1407.05,646.79 1407.5,653.61 1407.95,640.54 1408.4,635.87 1408.85,642.18 1409.3,623.91 1409.75,635.42 1410.2,653.96 1410.65,626.03 1411.1,620.17 1411.55,614.84 1412,629.03 1412.45,636.94 1412.9,624.89 1413.35,624.35 1413.8,640.36 1414.25,628.3 1414.7,629.86 1415.15,613.59 1415.6,627.53 1416.05,620.32 1416.5,601.93 1416.95,573 1417.4,576.6 1417.85,588.14 1418.3,584.8 1418.75,579.99 1419.2,672.9 1419.65,611.39 1420.1,611.61 1420.55,595.13 1421,617.8 1421.45,612.56 1421.9,611.77 1422.35,626.32 1422.8,636.19 1423.25,635.75 1423.7,631.87 1424.15,642.6 1424.6,639 1425.05,631.76 1425.5,641.51 1425.95,639.28 1426.4,647.05 1426.85,647.06 1427.3,646.06 1427.75,625.82 1428.2,653.63 1428.65,651.81 1429.1,623.67 1429.55,652.55 1430,632.44 1430.45,608.52 1430.9,625.67 1431.35,601.97 1431.8,649.33 1432.25,604.63 1432.7,657.31 1433.15,613.71 1433.6,624.87 1434.05,656.4 1434.5,668.4 1434.95,600.42 1435.4,623.38 1435.85,600.45 1436.3,639 1436.75,608.36 1437.2,624 1437.65,624.27 1438.1,601.1 1438.55,629.42 1439,653.85 1439.45,612.24 1439.9,613.48 1440.35,629.02 1440.8,643.26 1441.25,610.86 1441.7,625.76 1442.15,630.54 1442.6,644.93 1443.05,609.22 1443.5,657.2 1443.95,658.65 1444.4,597.9 1444.85,602.35 1445.3,630.88 1445.75,608.56 1446.2,608.76 1446.65,622.92 1447.1,605.43 1447.55,607.09 1448,628.16 1448.45,615.17 1448.9,632.51 1449.35,650.41 1449.8,653.45 1450.25,629.84 1450.7,583.8 1451.15,623.03 1451.6,650.57 1452.05,670.16 1452.5,644.1 1452.95,690 1453.4,628.89 1453.85,622.42 1454.3,641.16 1454.75,649.29 1455.2,646.26 1455.65,652.49 1456.1,643.73 1456.55,632.09 1457,617.73 1457.45,627.57 1457.9,631.5 1458.35,629.64 1458.8,586.5 1459.25,655.87 1459.7,657.91 1460.15,640.84 1460.6,626 1461.05,657.38 1461.5,635.62 1461.95,634.7 1462.4,651.33 1462.85,633.8 1463.3,645.34 1463.75,635.54 1464.2,652 1464.65,649.94 1465.1,653.46 1465.55,648.93 1466,646.27 1466.45,646.14 1466.9,650.79 1467.35,628.69 1467.8,624.1 1468.25,638.5 1468.7,641.18 1469.15,636.64 1469.6,657.68 1470.05,647.38 1470.5,656.34 1470.95,642.92 1471.4,623.15 1471.85,622 1472.3,652.5 1472.75,642.46 1473.2,614.4 1473.65,657.62 1474.1,661.89 1474.55,650.34 1475,660.63 1475.45,642.32 1475.9,633.41 1476.35,628.36 1476.8,657.72 1477.25,630.19 1477.7,641.68 1478.15,648.79 1478.6,654.97 1479.05,636.24 1479.5,646.59 1479.95,644.11 1480.4,660.15 1480.85,651.21 1481.3,648.73 1481.75,658.78 1482.2,654.03 1482.65,656.46 1483.1,655.69 1483.55,654.26 1484,658.51 1484.45,652.93 1484.9,649.42 1485.35,652.97 1485.8,660.67 1486.25,656.41 1486.7,665.04 1487.15,664.57 1487.6,661.95 1488.05,668.23 1488.5,664.03 1488.95,663.38 1489.4,658.17 1489.85,659.13 1490.3,659.56 1490.75,672.05 1491.2,678.52 1491.65,676.12 1492.1,627 1492.55,661.38 1493,667.43 1493.45,658.84 1493.9,699 1494.35,665 1494.8,668.2 1495.25,650.23 1495.7,664.56 1496.15,673.92 1496.6,654.44 1497.05,681.68 1497.5,667.45 1497.95,657.95 1498.4,675.89 1498.85,654.02 1499.3,631.5 1499.75,656.96 1500.2,669.6 1500.65,675.82 1501.1,669.76 1501.55,663.9 1502,655.22 1502.45,660.03 1502.9,664.35 1503.35,672.78 1503.8,647.45 1504.25,666.69 1504.7,651.43 1505.15,655.04 1505.6,660.51 1506.05,655.74 1506.5,667.32 1506.95,647.68 1507.4,664.83 1507.85,652.36 1508.3,657.21 1508.75,660.31 1509.2,648.27 1509.65,663.71 1510.1,674.94 1510.55,657.12 1511,652.62 1511.45,673.25 1511.9,674.22 1512.35,648.62 1512.8,656.54 1513.25,654.04 1513.7,661.88 1514.15,660.55 1514.6,653.21 1515.05,657.16 1515.5,669.62 1515.95,655.17 1516.4,662.66 1516.85,666.43 1517.3,673 1517.75,666.12 1518.2,663.98 1518.65,655.5 1519.1,664.35 1519.55,675.17 1520,669.6 1520.45,676.99 1520.9,688.2 1521.35,673.91 1521.8,664.86 1522.25,659.34 1522.7,659.9 1523.15,680.15 1523.6,674.3 1524.05,664.39 1524.5,661.89 1524.95,672.49 1525.4,659.34 1525.85,673.95 1526.3,666.01 1526.75,655.6 1527.2,657.73 1527.65,648.74 1528.1,647.12 1528.55,651.8 1529,651.78 1529.45,653.4 1529.9,650.53 1530.35,651.42 1530.8,659.8 1531.25,648.24 1531.7,647.81 1532.15,668.19 1532.6,660.29 1533.05,660.2 1533.5,665.86 1533.95,666.03 1534.4,667.15 1534.85,664.95 1535.3,663.55 1535.75,661.53 1536.2,657.16 1536.65,656.23 1537.1,646.2 1537.55,665.64 1538,655.67 1538.45,645.03 1538.9,659.87 1539.35,642.9 1539.8,648.98 1540.25,635.33 1540.7,628.24 1541.15,649.98 1541.6,641.04 1542.05,623.22 1542.5,641.15 1542.95,644.01 1543.4,632.21 1543.85,639.73 1544.3,645.11 1544.75,643.91 1545.2,638.9 1545.65,639.08 1546.1,643.58 1546.55,634.68 1547,630.01 1547.45,629.36 1547.9,640.76 1548.35,626.5 1548.8,630.18 1549.25,622.16 1549.7,629.49 1550.15,629.76 1550.6,630.48 1551.05,635.27 1551.5,639.28 1551.95,633.45 1552.4,627.87 1552.85,628.98 1553.3,631.77 1553.75,628.7 1554.2,631.61 1554.65,635.85 1555.1,635.92 1555.55,643.29 1556,629.81 1556.45,638.18 1556.9,644.94 1557.35,635.39 1557.8,633.48 1558.25,655.69 1558.7,655.55 1559.15,653.89 1559.6,661.65 1560.05,643.17 1560.5,640.77 1560.95,668.68 1561.4,658.12 1561.85,641.11 1562.3,654.91 1562.75,676.86 1563.2,650.07 1563.65,644.37 1564.1,645.03 1564.55,656.09 1565,658.65 1565.45,653.85 1565.9,654.38 1566.35,656.69 1566.8,654.42 1567.25,654.81 1567.7,663.99 1568.15,659.12 1568.6,660.75 1569.05,651.74 1569.5,653.57 1569.95,664.87 1570.4,661.74 1570.85,667.4 1571.3,652.48 1571.75,665.36 1572.2,658.66 1572.65,662.57 1573.1,657.92 1573.55,655.52 1574,654.53 1574.45,660.66 1574.9,670.92 1575.35,650.36 1575.8,651.22 1576.25,645.52 1576.7,644.75 1577.15,662.7 1577.6,652.68 1578.05,646.21 1578.5,666.1 1578.95,664.77 1579.4,665.53 1579.85,663.92 1580.3,627 1580.75,673.44 1581.2,656.68 1581.65,667.48 1582.1,668.49 1582.55,684.05 1583,667.07 1583.45,678.75 1583.9,645.22 1584.35,664.66 1584.8,666.87 1585.25,664.95 1585.7,636 1586.15,670.48 1586.6,656.5 1587.05,654.89 1587.5,686.94 1587.95,665.8 1588.4,681.33 1588.85,647.31 1589.3,636 1589.75,673.59 1590.2,674.82 1590.65,656.33 1591.1,674.35 1591.55,668.03 1592,690.95 1592.45,665.35 1592.9,649.41 1593.35,615.3 1593.8,657.18 1594.25,666.78 1594.7,679.46 1595.15,687.32 1595.6,677.54 1596.05,677.07 1596.5,671.76 1596.95,670.44 1597.4,668.84 1597.85,671.57 1598.3,661.85 1598.75,670.74 1599.2,683.1 1599.65,635.1 1600.1,668.73 1600.55,680.64 1601,660.66 1601.45,667.93 1601.9,693.16 1602.35,687.41 1602.8,685.67 1603.25,673.72 1603.7,664.42 1604.15,633.3 1604.6,674.86 1605.05,694.63 1605.5,679.08 1605.95,689.96 1606.4,677.86 1606.85,682.34 1607.3,686.82 1607.75,699.79 1608.2,688.92 1608.65,675.48 1609.1,694.42 1609.55,686.23 1610,692.21 1610.45,677.94 1610.9,696.57 1611.35,678.88 1611.8,691.25 1612.25,682.35 1612.7,676.88 1613.15,694.98 1613.6,717.9 1614.05,666.45 1614.5,691.61 1614.95,693.92 1615.4,685.17 1615.85,684.53 1616.3,682.26 1616.75,680.64 1617.2,673.59 1617.65,682.24 1618.1,682.21 1618.55,667.46 1619,670.16 1619.45,664.7 1619.9,665.99 1620.35,673.39 1620.8,668.44 1621.25,668.45 1621.7,664.53 1622.15,674.91 1622.6,673.85 1623.05,668.05 1623.5,665.78 1623.95,673.16 1624.4,671.95 1624.85,665.97 1625.3,662.34 1625.75,655.59 1626.2,671.96 1626.65,674.06 1627.1,674.32 1627.55,667.73 1628,670.87 1628.45,653.19 1628.9,667.8 1629.35,659.19 1629.8,657.79 1630.25,657.6 1630.7,689.1 1631.15,659.51 1631.6,667.47 1632.05,658.09 1632.5,659.33 1632.95,660.64 1633.4,673.23 1633.85,668.61 1634.3,656.39 1634.75,665.65 1635.2,671.07 1635.65,658.86 1636.1,663.44 1636.55,665.72 1637,647.17 1637.45,655.95 1637.9,654.27 1638.35,659.95 1638.8,663.04 1639.25,652.05 1639.7,644.34 1640.15,651.04 1640.6,656.23 1641.05,652.23 1641.5,659.63 1641.95,649.33 1642.4,663.25 1642.85,684.6 1643.3,674.8 1643.75,662.52 1644.2,670.41 1644.65,658.34 1645.1,658.17 1645.55,658.32 1646,663.19 1646.45,657.91 1646.9,658.13 1647.35,672.67 1647.8,666.23 1648.25,666.48 1648.7,667.22 1649.15,664.58 1649.6,665.15 1650.05,671.36 1650.5,668 1650.95,671.79 1651.4,660.45 1651.85,667.87 1652.3,661.04 1652.75,657.98 1653.2,669.13 1653.65,667.75 1654.1,670.45 1654.55,670.57 1655,659.17 1655.45,669.33 1655.9,675.44 1656.35,669.99 1656.8,673.31 1657.25,675.94 1657.7,676.1 1658.15,661.14 1658.6,664.3 1659.05,664.57 1659.5,663 1659.95,668.31 1660.4,656.16 1660.85,652.99 1661.3,659.48 1661.75,657.89 1662.2,665 1662.65,666.22 1663.1,662.05 1663.55,667.83 1664,651.04 1664.45,657.43 1664.9,648.91 1665.35,669.86 1665.8,657.78 1666.25,663.34 1666.7,657.53 1667.15,657.07 1667.6,657.3 1668.05,656.23 1668.5,650.61 1668.95,629.03 1669.4,635.21 1669.85,609.88 1670.3,614.56 1670.75,645.89 1671.2,611.7 1671.65,613.84 1672.1,613.64 1672.55,615.17 1673,629.4 1673.45,653.82 1673.9,642.39 1674.35,655.36 1674.8,621.31 1675.25,638.94 1675.7,645.58 1676.15,650.68 1676.6,656.32 1677.05,647.59 1677.5,657.85 1677.95,665.46 1678.4,655.11 1678.85,626.98 1679.3,632.51 1679.75,629.94 1680.2,670.29 1680.65,661.72 1681.1,648.87 1681.55,637.88 1682,638.21 1682.45,675.37 1682.9,652.01 1683.35,643.63 1683.8,641.07 1684.25,667.47 1684.7,632.87 1685.15,648.42 1685.6,670.09 1686.05,675.71 1686.5,673.72 1686.95,663.09 1687.4,676.99 1687.85,685.66 1688.3,663.21 1688.75,660.46 1689.2,665.12 1689.65,670.8 1690.1,664 1690.55,661.62 1691,703.5 1691.45,677.63 1691.9,654.51 1692.35,666.27 1692.8,658.65 1693.25,675.22 1693.7,646.2 1694.15,643.51 1694.6,604.5 1695.05,663.87 1695.5,653.77 1695.95,668.83 1696.4,653.24 1696.85,654.06 1697.3,637.27 1697.75,659.54 1698.2,678.92 1698.65,662.09 1699.1,662.28 1699.55,677.64 1700,659.8 1700.45,656.02 1700.9,664.95 1701.35,682.91 1701.8,661.39 1702.25,662.8 1702.7,667.93 1703.15,657.75 1703.6,657.3 1704.05,681.48 1704.5,639.88 1704.95,603.6 1705.4,678.27 1705.85,684.1 1706.3,670.5 1706.75,673.08 1707.2,659.25 1707.65,646.37 1708.1,668 1708.55,669.97 1709,673.38 1709.45,684.74 1709.9,686.5 1710.35,677.4 1710.8,685.82 1711.25,672.78 1711.7,672.92 1712.15,659.09 1712.6,670.72 1713.05,663.46 1713.5,670.81 1713.95,655.92 1714.4,679.36 1714.85,654.4 1715.3,673.04 1715.75,652.18 1716.2,666.89 1716.65,672.21 1717.1,679.71 1717.55,688.36 1718,655.68 1718.45,665.35 1718.9,664.46 1719.35,667.06 1719.8,680.63 1720.25,659.68 1720.7,652.58 1721.15,658.56 1721.6,674.95 1722.05,662.48 1722.5,658.2 1722.95,666.48 1723.4,677.94 1723.85,679.89 1724.3,671.9 1724.75,671.21 1725.2,676.14 1725.65,677.34 1726.1,674.08 1726.55,674.01 1727,675.97 1727.45,670.03" fill="none" stroke="#f00" stroke-width="2.6" stroke-linejoin="round" />
</g>
<line x1="1726" y1="478" x2="1726" y2="822" stroke="#1f77b4" stroke-width="2" stroke-dasharray="2.08 3.44"/>
<line x1="1800" y1="822" x2="1795" y2="822" stroke="#f00" stroke-width="1.4" />
<line x1="1800" y1="796.11" x2="1797.1" y2="796.11" stroke="#f00" stroke-width="1.1" />
<line x1="1800" y1="780.97" x2="1797.1" y2="780.97" stroke="#f00" stroke-width="1.1" />
<line x1="1800" y1="770.22" x2="1797.1" y2="770.22" stroke="#f00" stroke-width="1.1" />
<line x1="1800" y1="761.89" x2="1797.1" y2="761.89" stroke="#f00" stroke-width="1.1" />
<line x1="1800" y1="755.08" x2="1797.1" y2="755.08" stroke="#f00" stroke-width="1.1" />
<line x1="1800" y1="749.32" x2="1797.1" y2="749.32" stroke="#f00" stroke-width="1.1" />
<line x1="1800" y1="744.33" x2="1797.1" y2="744.33" stroke="#f00" stroke-width="1.1" />
<line x1="1800" y1="739.94" x2="1797.1" y2="739.94" stroke="#f00" stroke-width="1.1" />
<line x1="1800" y1="736" x2="1795" y2="736" stroke="#f00" stroke-width="1.4" />
<line x1="1800" y1="710.11" x2="1797.1" y2="710.11" stroke="#f00" stroke-width="1.1" />
<line x1="1800" y1="694.97" x2="1797.1" y2="694.97" stroke="#f00" stroke-width="1.1" />
<line x1="1800" y1="684.22" x2="1797.1" y2="684.22" stroke="#f00" stroke-width="1.1" />
<line x1="1800" y1="675.89" x2="1797.1" y2="675.89" stroke="#f00" stroke-width="1.1" />
<line x1="1800" y1="669.08" x2="1797.1" y2="669.08" stroke="#f00" stroke-width="1.1" />
<line x1="1800" y1="663.32" x2="1797.1" y2="663.32" stroke="#f00" stroke-width="1.1" />
<line x1="1800" y1="658.33" x2="1797.1" y2="658.33" stroke="#f00" stroke-width="1.1" />
<line x1="1800" y1="653.94" x2="1797.1" y2="653.94" stroke="#f00" stroke-width="1.1" />
<line x1="1800" y1="650" x2="1795" y2="650" stroke="#f00" stroke-width="1.4" />
<line x1="1800" y1="624.11" x2="1797.1" y2="624.11" stroke="#f00" stroke-width="1.1" />
<line x1="1800" y1="608.97" x2="1797.1" y2="608.97" stroke="#f00" stroke-width="1.1" />
<line x1="1800" y1="598.22" x2="1797.1" y2="598.22" stroke="#f00" stroke-width="1.1" />
<line x1="1800" y1="589.89" x2="1797.1" y2="589.89" stroke="#f00" stroke-width="1.1" />
<line x1="1800" y1="583.08" x2="1797.1" y2="583.08" stroke="#f00" stroke-width="1.1" />
<line x1="1800" y1="577.32" x2="1797.1" y2="577.32" stroke="#f00" stroke-width="1.1" />
<line x1="1800" y1="572.33" x2="1797.1" y2="572.33" stroke="#f00" stroke-width="1.1" />
<line x1="1800" y1="567.94" x2="1797.1" y2="567.94" stroke="#f00" stroke-width="1.1" />
<line x1="1800" y1="564" x2="1795" y2="564" stroke="#f00" stroke-width="1.4" />
<line x1="1800" y1="538.11" x2="1797.1" y2="538.11" stroke="#f00" stroke-width="1.1" />
<line x1="1800" y1="522.97" x2="1797.1" y2="522.97" stroke="#f00" stroke-width="1.1" />
<line x1="1800" y1="512.22" x2="1797.1" y2="512.22" stroke="#f00" stroke-width="1.1" />
<line x1="1800" y1="503.89" x2="1797.1" y2="503.89" stroke="#f00" stroke-width="1.1" />
<line x1="1800" y1="497.08" x2="1797.1" y2="497.08" stroke="#f00" stroke-width="1.1" />
<line x1="1800" y1="491.32" x2="1797.1" y2="491.32" stroke="#f00" stroke-width="1.1" />
<line x1="1800" y1="486.33" x2="1797.1" y2="486.33" stroke="#f00" stroke-width="1.1" />
<line x1="1800" y1="481.94" x2="1797.1" y2="481.94" stroke="#f00" stroke-width="1.1" />
<line x1="1800" y1="478" x2="1795" y2="478" stroke="#f00" stroke-width="1.4" />
<line x1="1800" y1="478" x2="1800" y2="822" stroke="#f00" stroke-width="2"/>
<path d="M1801 478H1205V822H1801" fill="none" stroke="#000" stroke-width="2"/>
<line x1="1244.82" y1="822" x2="1244.82" y2="816.6" stroke="#000" stroke-width="1.4" />
<line x1="1319.19" y1="822" x2="1319.19" y2="816.6" stroke="#000" stroke-width="1.4" />
<line x1="1393.57" y1="822" x2="1393.57" y2="816.6" stroke="#000" stroke-width="1.4" />
<line x1="1467.94" y1="822" x2="1467.94" y2="816.6" stroke="#000" stroke-width="1.4" />
<line x1="1542.32" y1="822" x2="1542.32" y2="816.6" stroke="#000" stroke-width="1.4" />
<line x1="1616.69" y1="822" x2="1616.69" y2="816.6" stroke="#000" stroke-width="1.4" />
<line x1="1691.07" y1="822" x2="1691.07" y2="816.6" stroke="#000" stroke-width="1.4" />
<line x1="1765.44" y1="822" x2="1765.44" y2="816.6" stroke="#000" stroke-width="1.4" />
<line x1="1205" y1="512.1" x2="1210.4" y2="512.1" stroke="#000" stroke-width="1.4" />
<line x1="1205" y1="581.18" x2="1210.4" y2="581.18" stroke="#000" stroke-width="1.4" />
<line x1="1205" y1="650.26" x2="1210.4" y2="650.26" stroke="#000" stroke-width="1.4" />
<line x1="1205" y1="719.34" x2="1210.4" y2="719.34" stroke="#000" stroke-width="1.4" />
<line x1="1205" y1="788.42" x2="1210.4" y2="788.42" stroke="#000" stroke-width="1.4" />
<text x="1199.2" y="519" font-size="20" text-anchor="end" fill="#000" >0</text>
<text x="1199.2" y="588.08" font-size="20" text-anchor="end" fill="#000" >−100</text>
<text x="1199.2" y="657.16" font-size="20" text-anchor="end" fill="#000" >−200</text>
<text x="1199.2" y="726.24" font-size="20" text-anchor="end" fill="#000" >−300</text>
<text x="1199.2" y="795.32" font-size="20" text-anchor="end" fill="#000" >−400</text>
<text x="1806" y="829.9" font-size="20" text-anchor="start" fill="#f00" >10<tspan font-size="14.0" dy="-6.2">−2</tspan></text>
<text x="1806" y="743.9" font-size="20" text-anchor="start" fill="#f00" >10<tspan font-size="14.0" dy="-6.2">−1</tspan></text>
<text x="1806" y="657.9" font-size="20" text-anchor="start" fill="#f00" >10<tspan font-size="14.0" dy="-6.2">0</tspan></text>
<text x="1806" y="571.9" font-size="20" text-anchor="start" fill="#f00" >10<tspan font-size="14.0" dy="-6.2">1</tspan></text>
<text x="1806" y="485.9" font-size="20" text-anchor="start" fill="#f00" >10<tspan font-size="14.0" dy="-6.2">2</tspan></text>
<text x="1105" y="653.3" font-size="24" text-anchor="middle" fill="#000" transform="rotate(-90 1105 653.3)" >Dst</text>
<text x="1133" y="650.2" font-size="24" text-anchor="middle" fill="#000" transform="rotate(-90 1133 650.2)" >( nT )</text>
<text x="1875.5" y="650.6" font-size="24" text-anchor="middle" fill="#f00" transform="rotate(-90 1875.5 650.6)" >SW Pressure</text>
<text x="1905" y="650" font-size="24" text-anchor="middle" fill="#f00" transform="rotate(-90 1905 650)" >( nPa )</text>
<line x1="1205" y1="931" x2="1800" y2="931" stroke="#000" stroke-width="2" stroke-dasharray="2.08 3.44"/>
<clipPath id="cb3"><rect x="1205" y="845" width="595" height="172"/></clipPath><g clip-path="url(#cb3)">
<rect x="1205" y="996.5" width="521.0" height="9" fill="#000"/>
<polyline points="1205,996.3 1205.5,993.3 1206,997.02 1206.5,1010.61 1207,1006.64 1207.5,999.4 1208,996.53 1208.5,998.74 1209,1010.59 1209.5,989.96 1210,998.24 1210.5,1000.9 1211,1000.07 1211.5,997.27 1212,993.54 1212.5,1000.98 1213,1006.1 1213.5,1007.17 1214,1007.79 1214.5,995.75 1215,1001.84 1215.5,1006.71 1216,994.02 1216.5,991.8 1217,994.64 1217.5,994.7 1218,1006.53 1218.5,1009.64 1219,988 1219.5,993.5 1220,1008.92 1220.5,998.45 1221,1006.41 1221.5,986.12 1222,1003.96 1222.5,999.22 1223,993.85 1223.5,993.68 1224,993.52 1224.5,1004.29 1225,1005.35 1225.5,987.24 1226,994.18 1226.5,1010.01 1227,993.48 1227.5,1011.43 1228,1008.98 1228.5,1007.06 1229,1006.42 1229.5,999.08 1230,997.86 1230.5,1002.65 1231,1011.75 1231.5,996.56 1232,1002.94 1232.5,1008.28 1233,994.62 1233.5,1006.99 1234,1009.52 1234.5,1005.74 1235,1000.97 1235.5,997.1 1236,999.23 1236.5,1002.05 1237,1010.57 1237.5,1007.32 1238,999.66 1238.5,1011.82 1239,1010.5 1239.5,1007.01 1240,989.91 1240.5,990.21 1241,1003.9 1241.5,996.74 1242,998.34 1242.5,1007.17 1243,993.52 1243.5,1010.53 1244,995.84 1244.5,999.72 1245,988.7 1245.5,1000.05 1246,1002.18 1246.5,1004.21 1247,996.3 1247.5,994.03 1248,1009.98 1248.5,999.33 1249,1009.84 1249.5,1001.73 1250,1011.04 1250.5,1004.61 1251,1007.53 1251.5,995.3 1252,992.02 1252.5,1003.33 1253,1006.86 1253.5,993.29 1254,1009.94 1254.5,998.86 1255,1006.62 1255.5,1006 1256,1000.17 1256.5,994.17 1257,991.91 1257.5,992.82 1258,998.2 1258.5,1001.47 1259,1002.37 1259.5,999.3 1260,990.77 1260.5,994.35 1261,1007.88 1261.5,995.72 1262,1003.24 1262.5,1004.77 1263,993.71 1263.5,1008.69 1264,996.28 1264.5,1003.33 1265,1004.91 1265.5,989.74 1266,1005.05 1266.5,994.12 1267,1002.55 1267.5,985.9 1268,1002.11 1268.5,1002.06 1269,1006.82 1269.5,1010.25 1270,993.67 1270.5,991.62 1271,1003.73 1271.5,992.51 1272,994.86 1272.5,996.79 1273,1004.6 1273.5,994.62 1274,1005.76 1274.5,1004.34 1275,1008.38 1275.5,992.38 1276,1007.45 1276.5,1005.83 1277,997.64 1277.5,992.16 1278,992.67 1278.5,997.94 1279,1008.46 1279.5,993.98 1280,1002.04 1280.5,1003.21 1281,986.15 1281.5,1008.9 1282,1006.12 1282.5,991.38 1283,996.47 1283.5,995.79 1284,999.59 1284.5,993.9 1285,984.81 1285.5,993 1286,997.06 1286.5,999.53 1287,990.17 1287.5,1006.62 1288,994.54 1288.5,998.28 1289,984.05 1289.5,991.57 1290,990.93 1290.5,986.4 1291,996.32 1291.5,995.38 1292,996.98 1292.5,997.09 1293,1002.91 1293.5,1005.69 1294,996.79 1294.5,1003.12 1295,1000.84 1295.5,993.29 1296,998.18 1296.5,987.88 1297,994.34 1297.5,993.62 1298,993.04 1298.5,1012.04 1299,1009.96 1299.5,1010.85 1300,992.73 1300.5,992.97 1301,1009.21 1301.5,993.88 1302,990.56 1302.5,998.81 1303,1008.41 1303.5,1009.73 1304,993.8 1304.5,993.45 1305,1004.15 1305.5,994.5 1306,992.1 1306.5,1007.12 1307,1009.04 1307.5,1004.25 1308,997.18 1308.5,1004.82 1309,1007.96 1309.5,996.58 1310,1007.11 1310.5,1002.2 1311,1009.15 1311.5,993.74 1312,994.59 1312.5,1010.93 1313,1011.09 1313.5,1003.36 1314,1006.51 1314.5,1012.48 1315,1000.98 1315.5,994.98 1316,1011.15 1316.5,983.61 1317,1000.36 1317.5,994.69 1318,991.02 1318.5,1005.57 1319,985.48 1319.5,1001.6 1320,987.75 1320.5,989.87 1321,993.68 1321.5,1006.64 1322,1011.53 1322.5,1003.17 1323,1003.38 1323.5,986.75 1324,998.91 1324.5,993.18 1325,997 1325.5,995.72 1326,1007.24 1326.5,1005.1 1327,1008.85 1327.5,1001.87 1328,982.5 1328.5,997.79 1329,1000.5 1329.5,999.93 1330,992.82 1330.5,991.57 1331,1001.93 1331.5,991.09 1332,1001.52 1332.5,1011.21 1333,1011.26 1333.5,994.11 1334,994.67 1334.5,983.13 1335,997.68 1335.5,988.98 1336,995.93 1336.5,1002.48 1337,994 1337.5,986.87 1338,1008.51 1338.5,990.11 1339,1009.75 1339.5,1008.59 1340,992.85 1340.5,1006.71 1341,1005.41 1341.5,1002.29 1342,1003.56 1342.5,1001.95 1343,1003.7 1343.5,1000.97 1344,990.59 1344.5,1007.27 1345,991.29 1345.5,1001.31 1346,995.92 1346.5,1012.23 1347,1003.67 1347.5,1010.51 1348,1007.69 1348.5,993.69 1349,992.42 1349.5,1001.13 1350,1010.35 1350.5,997.13 1351,1007.24 1351.5,1006.88 1352,1006.37 1352.5,1008.38 1353,993.94 1353.5,997.55 1354,999.21 1354.5,989.88 1355,995.32 1355.5,1002.76 1356,1006.74 1356.5,1000.99 1357,992.27 1357.5,997.21 1358,998.87 1358.5,998.34 1359,996.7 1359.5,1000.5 1360,1011.18 1360.5,995.28 1361,994.48 1361.5,1012.24 1362,1006.48 1362.5,1010.94 1363,994.4 1363.5,1003.64 1364,999.81 1364.5,1004.17 1365,1003.56 1365.5,994.31 1366,982.5 1366.5,1005.93 1367,1006.33 1367.5,997.54 1368,1004.28 1368.5,993.96 1369,994.36 1369.5,1008.86 1370,1011.06 1370.5,997.48 1371,1011.85 1371.5,993.95 1372,1011.44 1372.5,996.31 1373,1002.97 1373.5,993.27 1374,998.95 1374.5,1007.35 1375,997.75 1375.5,993.71 1376,1003.33 1376.5,984.65 1377,1003.47 1377.5,991.34 1378,993.26 1378.5,1008.91 1379,998.74 1379.5,993.79 1380,997.39 1380.5,1002.32 1381,995.98 1381.5,1003.17 1382,992.36 1382.5,995.65 1383,996.47 1383.5,989.61 1384,1004.32 1384.5,998.1 1385,994.22 1385.5,990.34 1386,1012.43 1386.5,993.32 1387,1006.85 1387.5,1007.61 1388,994.71 1388.5,996.51 1389,999.63 1389.5,1006.89 1390,1007.39 1390.5,1005.71 1391,997.38 1391.5,1002.22 1392,990.97 1392.5,995.4 1393,999.72 1393.5,989.63 1394,1001.84 1394.5,1002.11 1395,1000.27 1395.5,1006.13 1396,995.2 1396.5,998.83 1397,997.9 1397.5,993.59 1398,995.2 1398.5,999.52 1399,1004.06 1399.5,995.08 1400,996.14 1400.5,1004.3 1401,1008.58 1401.5,1006.91 1402,994.05 1402.5,990.62 1403,991.44 1403.5,991.9 1404,1005.1 1404.5,1011.9 1405,1006.6 1405.5,995.84 1406,1005.01 1406.5,996.49 1407,1006.3 1407.5,1011.39 1408,1007.62 1408.5,998.18 1409,1010.37 1409.5,993.7 1410,991.28 1410.5,994.02 1411,1006.83 1411.5,1006.43 1412,1006.47 1412.5,992.54 1413,1008.53 1413.5,1008.42 1414,1006.79 1414.5,998.96 1415,996.73 1415.5,1011.97 1416,994.73 1416.5,1004.55 1417,995.06 1417.5,1008.43 1418,993.32 1418.5,1001.25 1419,999.05 1419.5,993.6 1420,1007.64 1420.5,1010.91 1421,985.67 1421.5,1005.76 1422,994.23 1422.5,982.5 1423,994.34 1423.5,1008.62 1424,1008.39 1424.5,993.3 1425,995.08 1425.5,1004.8 1426,990.24 1426.5,997.93 1427,1007.34 1427.5,1007.2 1428,996.51 1428.5,1000.63 1429,1012.28 1429.5,999.75 1430,988.63 1430.5,1003.51 1431,1007.1 1431.5,996.37 1432,1003.55 1432.5,982.5 1433,1011.59 1433.5,994.12 1434,994.11 1434.5,994.15 1435,1006.39 1435.5,1004.96 1436,995.94 1436.5,1006.78 1437,993.58 1437.5,1006.43 1438,1010.63 1438.5,997.8 1439,993.48 1439.5,991.46 1440,1010.41 1440.5,995.05 1441,999.33 1441.5,994.36 1442,995.17 1442.5,996.32 1443,992.17 1443.5,984.4 1444,994.62 1444.5,1011.5 1445,1001 1445.5,999.67 1446,1002.17 1446.5,1007.11 1447,995.32 1447.5,1007.14 1448,1006.57 1448.5,1004.01 1449,1002.01 1449.5,993.89 1450,1002.49 1450.5,993.37 1451,995.26 1451.5,1004.15 1452,1006.6 1452.5,1010.53 1453,1001.88 1453.5,993.57 1454,997.03 1454.5,993.79 1455,998.39 1455.5,1006.89 1456,1010.54 1456.5,993.13 1457,991.53 1457.5,987.6 1458,995.25 1458.5,1008.04 1459,1006.1 1459.5,990.41 1460,1000.8 1460.5,1011.6 1461,982.91 1461.5,1002.21 1462,1007.04 1462.5,1009.58 1463,996.04 1463.5,1007.44 1464,991.49 1464.5,1001.98 1465,1002.81 1465.5,999.09 1466,1000.78 1466.5,993.54 1467,990.87 1467.5,998.66 1468,1007.12 1468.5,1002.51 1469,993.76 1469.5,1008.21 1470,1004.66 1470.5,1004.55 1471,1008.8 1471.5,1005.24 1472,1003.59 1472.5,990.76 1473,993.65 1473.5,1002.23 1474,992.16 1474.5,1007.14 1475,1005.1 1475.5,995.52 1476,1006.5 1476.5,993.31 1477,1007.7 1477.5,1003.74 1478,1006.06 1478.5,1003.75 1479,1003.91 1479.5,991.88 1480,1008.74 1480.5,1006.95 1481,996.49 1481.5,1000.98 1482,1005.78 1482.5,1002.94 1483,999.68 1483.5,999.24 1484,993.43 1484.5,1010.39 1485,990.11 1485.5,1010.4 1486,1002.72 1486.5,1001.69 1487,1000.21 1487.5,999.28 1488,1004.8 1488.5,993.64 1489,1008.43 1489.5,1007.23 1490,999.94 1490.5,998.97 1491,1003.87 1491.5,993.89 1492,1007.05 1492.5,1000.82 1493,997.94 1493.5,999.98 1494,1003.83 1494.5,995.69 1495,1010.3 1495.5,1007.66 1496,1009.38 1496.5,1003.72 1497,990.67 1497.5,991.33 1498,989.22 1498.5,995.14 1499,999.83 1499.5,1006.09 1500,1007.08 1500.5,991.34 1501,1011.39 1501.5,1012 1502,993.85 1502.5,1008.58 1503,998.85 1503.5,1005.47 1504,991.59 1504.5,1003.6 1505,992.56 1505.5,995.29 1506,987.86 1506.5,991.48 1507,1009.11 1507.5,1004.43 1508,1005.32 1508.5,1004.25 1509,990.88 1509.5,984.77 1510,1004.83 1510.5,999.11 1511,1012.12 1511.5,995.58 1512,990.01 1512.5,1009.69 1513,999.62 1513.5,991.55 1514,999.97 1514.5,993.89 1515,1003.12 1515.5,1009.56 1516,999.52 1516.5,986.98 1517,1000.37 1517.5,990.18 1518,997.27 1518.5,1000.29 1519,1001.92 1519.5,994.33 1520,998.32 1520.5,996.54 1521,1003.93 1521.5,1009.17 1522,990.61 1522.5,1011.23 1523,993.51 1523.5,998.25 1524,1007.94 1524.5,1007.04 1525,994.28 1525.5,1012.05 1526,1011.57 1526.5,989.26 1527,996.44 1527.5,1003.66 1528,994.37 1528.5,997.12 1529,1009.72 1529.5,996.97 1530,997.33 1530.5,1005.95 1531,982.5 1531.5,994.14 1532,1001.98 1532.5,1002.78 1533,991.23 1533.5,1005 1534,997 1534.5,1001.63 1535,992.34 1535.5,998.86 1536,997.15 1536.5,1006.74 1537,1000.78 1537.5,1003.28 1538,998.72 1538.5,1006.45 1539,1002.79 1539.5,1009.63 1540,1008.33 1540.5,993.7 1541,994.28 1541.5,1002.92 1542,992 1542.5,995.21 1543,994.07 1543.5,999.95 1544,991.03 1544.5,1003.08 1545,993.98 1545.5,991.66 1546,992.96 1546.5,1003.34 1547,1011.45 1547.5,993.96 1548,985.24 1548.5,1002.7 1549,991.11 1549.5,1000.61 1550,998.33 1550.5,1011.46 1551,993.86 1551.5,1007.19 1552,992.6 1552.5,1011.98 1553,1002.25 1553.5,1008.8 1554,994.71 1554.5,994.82 1555,1000.49 1555.5,994.97 1556,1007.61 1556.5,1000.02 1557,993.64 1557.5,997.99 1558,1006.5 1558.5,1001.72 1559,1011.65 1559.5,1007.35 1560,1006.34 1560.5,984.89 1561,995.14 1561.5,997.83 1562,994.21 1562.5,992.17 1563,1001.84 1563.5,995.23 1564,999.66 1564.5,991.97 1565,1002.88 1565.5,993.51 1566,1012.49 1566.5,993.69 1567,1006.89 1567.5,984.85 1568,1002.77 1568.5,1005.71 1569,993.26 1569.5,992.78 1570,998.52 1570.5,1007.47 1571,1001.72 1571.5,999.89 1572,992.41 1572.5,1003.94 1573,1006.06 1573.5,998.98 1574,998.39 1574.5,1007.51 1575,1010.67 1575.5,994.3 1576,1006.51 1576.5,995.11 1577,997.9 1577.5,993.64 1578,992.53 1578.5,1011.09 1579,993.89 1579.5,1003.39 1580,1003.06 1580.5,993.12 1581,1000.57 1581.5,991.06 1582,1003.39 1582.5,991.07 1583,1001 1583.5,1007.63 1584,992.11 1584.5,1001.51 1585,992.69 1585.5,995.03 1586,986.84 1586.5,992.4 1587,1006.44 1587.5,999.37 1588,1000.84 1588.5,1010.71 1589,990.04 1589.5,992.89 1590,1011.11 1590.5,992.3 1591,994.27 1591.5,996.07 1592,982.5 1592.5,1000.29 1593,1009.09 1593.5,1004.58 1594,993.81 1594.5,1005.69 1595,1003.15 1595.5,1004.44 1596,1005.7 1596.5,993.34 1597,1010.37 1597.5,987.27 1598,996.84 1598.5,1011.4 1599,996.3 1599.5,995.04 1600,1001.01 1600.5,1006.45 1601,996.38 1601.5,1009.23 1602,993.71 1602.5,1010.97 1603,996.75 1603.5,1005.51 1604,998.86 1604.5,1009.71 1605,994.21 1605.5,995.47 1606,1002.07 1606.5,998.32 1607,994.35 1607.5,991.44 1608,994.32 1608.5,1005.96 1609,999.42 1609.5,1005.59 1610,989.46 1610.5,997.55 1611,987.54 1611.5,992.03 1612,1003.71 1612.5,1003.72 1613,1002.62 1613.5,982.5 1614,1008.83 1614.5,1011.61 1615,1006.75 1615.5,996.44 1616,993.71 1616.5,1006.12 1617,999.1 1617.5,993.57 1618,994.39 1618.5,1006.02 1619,1005.15 1619.5,998.37 1620,1003.6 1620.5,983.88 1621,998.04 1621.5,996.85 1622,992.93 1622.5,1006.9 1623,1006.02 1623.5,997.26 1624,999.86 1624.5,1002.05 1625,996.48 1625.5,1005.72 1626,1006.8 1626.5,992.71 1627,993.29 1627.5,1000.74 1628,1006.95 1628.5,1001.16 1629,985.56 1629.5,1009.84 1630,989.3 1630.5,989.6 1631,1001.78 1631.5,1011.48 1632,993.94 1632.5,1004.44 1633,1000.87 1633.5,992.62 1634,1002.87 1634.5,994.38 1635,988.07 1635.5,994.13 1636,994.29 1636.5,987.66 1637,1004.9 1637.5,992.71 1638,985.27 1638.5,1007.85 1639,989.4 1639.5,1007.04 1640,1000.1 1640.5,993.87 1641,995.19 1641.5,1001.31 1642,1004.09 1642.5,1009.09 1643,996.14 1643.5,982.5 1644,987.17 1644.5,991.39 1645,998.64 1645.5,1009.98 1646,993.58 1646.5,990.07 1647,1002.96 1647.5,983.16 1648,994.91 1648.5,986.13 1649,1000.57 1649.5,1009.47 1650,1012.44 1650.5,1002.98 1651,1007.78 1651.5,997.05 1652,999.54 1652.5,999.13 1653,993.62 1653.5,993.4 1654,1003.05 1654.5,997.06 1655,1005.85 1655.5,1006.47 1656,1003.47 1656.5,996.22 1657,987.11 1657.5,1001.01 1658,1002.21 1658.5,999.81 1659,993.7 1659.5,995 1660,990.65 1660.5,999.19 1661,1001.23 1661.5,1001.54 1662,995.16 1662.5,997.3 1663,1004.08 1663.5,1008.02 1664,1006.64 1664.5,996.46 1665,993.31 1665.5,1005.89 1666,998.36 1666.5,1012.24 1667,996.12 1667.5,992.28 1668,999.18 1668.5,1006.51 1669,1006.86 1669.5,1006.61 1670,991.62 1670.5,1011.91 1671,996.06 1671.5,992.45 1672,996.05 1672.5,1000.42 1673,991.41 1673.5,1012.27 1674,1011.71 1674.5,1005.01 1675,999.59 1675.5,996.3 1676,988.62 1676.5,995.08 1677,996.78 1677.5,1012.22 1678,1003.57 1678.5,993.39 1679,1000.89 1679.5,997.96 1680,996.98 1680.5,994.97 1681,1002.91 1681.5,988 1682,999.93 1682.5,1001.15 1683,1006.33 1683.5,993.52 1684,993.86 1684.5,990.71 1685,982.5 1685.5,1010.22 1686,991.07 1686.5,1012.3 1687,1002.63 1687.5,993.67 1688,1001.44 1688.5,994.72 1689,1002.33 1689.5,1003.03 1690,993.04 1690.5,1006.5 1691,996.88 1691.5,994.14 1692,1004.17 1692.5,993.3 1693,1005.18 1693.5,999.84 1694,985.94 1694.5,1007.25 1695,994.03 1695.5,1005.21 1696,997.32 1696.5,997.79 1697,998.97 1697.5,1010.18 1698,1005.52 1698.5,984.82 1699,1008.94 1699.5,994.75 1700,1001.64 1700.5,995.38 1701,1001.11 1701.5,994.5 1702,1003.25 1702.5,1001.4 1703,1008.65 1703.5,1004.03 1704,994.46 1704.5,1004.97 1705,990.57 1705.5,1008.75 1706,1000.95 1706.5,1012.48 1707,996.32 1707.5,994.09 1708,1007.61 1708.5,990.3 1709,996.04 1709.5,999.24 1710,994.61 1710.5,1010.71 1711,993.39 1711.5,1004.88 1712,1003.31 1712.5,1011.44 1713,1008.63 1713.5,991.49 1714,1008.68 1714.5,1005.75 1715,1007.54 1715.5,995.75 1716,995.42 1716.5,1007.41 1717,1004.04 1717.5,1003.56 1718,1005.77 1718.5,994.06 1719,1007.84 1719.5,1006.8 1720,991.92 1720.5,999.6 1721,986.24 1721.5,1001.32 1722,993.58 1722.5,992.58 1723,993.65 1723.5,994.06 1724,995.94 1724.5,994.09 1725,992.59 1725.5,995.39 1726,1006.22 1726.5,999.32 1727,1010.53" fill="none" stroke="#000" stroke-width="2.4" stroke-linejoin="round" />
</g>
<line x1="1726" y1="845" x2="1726" y2="1017" stroke="#1f77b4" stroke-width="2" stroke-dasharray="2.08 3.44"/>
<rect x="1205" y="845" width="595" height="172" fill="none" stroke="#000" stroke-width="2"/>
<line x1="1244.82" y1="1017" x2="1244.82" y2="1011.6" stroke="#000" stroke-width="1.4" />
<line x1="1319.19" y1="1017" x2="1319.19" y2="1011.6" stroke="#000" stroke-width="1.4" />
<line x1="1393.57" y1="1017" x2="1393.57" y2="1011.6" stroke="#000" stroke-width="1.4" />
<line x1="1467.94" y1="1017" x2="1467.94" y2="1011.6" stroke="#000" stroke-width="1.4" />
<line x1="1542.32" y1="1017" x2="1542.32" y2="1011.6" stroke="#000" stroke-width="1.4" />
<line x1="1616.69" y1="1017" x2="1616.69" y2="1011.6" stroke="#000" stroke-width="1.4" />
<line x1="1691.07" y1="1017" x2="1691.07" y2="1011.6" stroke="#000" stroke-width="1.4" />
<line x1="1765.44" y1="1017" x2="1765.44" y2="1011.6" stroke="#000" stroke-width="1.4" />
<line x1="1205" y1="1017" x2="1210.7" y2="1017" stroke="#000" stroke-width="1.4" />
<line x1="1800" y1="1017" x2="1795" y2="1017" stroke="#000" stroke-width="1.4" />
<line x1="1205" y1="1004.06" x2="1208.9" y2="1004.06" stroke="#000" stroke-width="1.1" />
<line x1="1800" y1="1004.06" x2="1797.1" y2="1004.06" stroke="#000" stroke-width="1.1" />
<line x1="1205" y1="996.48" x2="1208.9" y2="996.48" stroke="#000" stroke-width="1.1" />
<line x1="1800" y1="996.48" x2="1797.1" y2="996.48" stroke="#000" stroke-width="1.1" />
<line x1="1205" y1="991.11" x2="1208.9" y2="991.11" stroke="#000" stroke-width="1.1" />
<line x1="1800" y1="991.11" x2="1797.1" y2="991.11" stroke="#000" stroke-width="1.1" />
<line x1="1205" y1="986.94" x2="1208.9" y2="986.94" stroke="#000" stroke-width="1.1" />
<line x1="1800" y1="986.94" x2="1797.1" y2="986.94" stroke="#000" stroke-width="1.1" />
<line x1="1205" y1="983.54" x2="1208.9" y2="983.54" stroke="#000" stroke-width="1.1" />
<line x1="1800" y1="983.54" x2="1797.1" y2="983.54" stroke="#000" stroke-width="1.1" />
<line x1="1205" y1="980.66" x2="1208.9" y2="980.66" stroke="#000" stroke-width="1.1" />
<line x1="1800" y1="980.66" x2="1797.1" y2="980.66" stroke="#000" stroke-width="1.1" />
<line x1="1205" y1="978.17" x2="1208.9" y2="978.17" stroke="#000" stroke-width="1.1" />
<line x1="1800" y1="978.17" x2="1797.1" y2="978.17" stroke="#000" stroke-width="1.1" />
<line x1="1205" y1="975.97" x2="1208.9" y2="975.97" stroke="#000" stroke-width="1.1" />
<line x1="1800" y1="975.97" x2="1797.1" y2="975.97" stroke="#000" stroke-width="1.1" />
<line x1="1205" y1="974" x2="1210.7" y2="974" stroke="#000" stroke-width="1.4" />
<line x1="1800" y1="974" x2="1795" y2="974" stroke="#000" stroke-width="1.4" />
<line x1="1205" y1="961.06" x2="1208.9" y2="961.06" stroke="#000" stroke-width="1.1" />
<line x1="1800" y1="961.06" x2="1797.1" y2="961.06" stroke="#000" stroke-width="1.1" />
<line x1="1205" y1="953.48" x2="1208.9" y2="953.48" stroke="#000" stroke-width="1.1" />
<line x1="1800" y1="953.48" x2="1797.1" y2="953.48" stroke="#000" stroke-width="1.1" />
<line x1="1205" y1="948.11" x2="1208.9" y2="948.11" stroke="#000" stroke-width="1.1" />
<line x1="1800" y1="948.11" x2="1797.1" y2="948.11" stroke="#000" stroke-width="1.1" />
<line x1="1205" y1="943.94" x2="1208.9" y2="943.94" stroke="#000" stroke-width="1.1" />
<line x1="1800" y1="943.94" x2="1797.1" y2="943.94" stroke="#000" stroke-width="1.1" />
<line x1="1205" y1="940.54" x2="1208.9" y2="940.54" stroke="#000" stroke-width="1.1" />
<line x1="1800" y1="940.54" x2="1797.1" y2="940.54" stroke="#000" stroke-width="1.1" />
<line x1="1205" y1="937.66" x2="1208.9" y2="937.66" stroke="#000" stroke-width="1.1" />
<line x1="1800" y1="937.66" x2="1797.1" y2="937.66" stroke="#000" stroke-width="1.1" />
<line x1="1205" y1="935.17" x2="1208.9" y2="935.17" stroke="#000" stroke-width="1.1" />
<line x1="1800" y1="935.17" x2="1797.1" y2="935.17" stroke="#000" stroke-width="1.1" />
<line x1="1205" y1="932.97" x2="1208.9" y2="932.97" stroke="#000" stroke-width="1.1" />
<line x1="1800" y1="932.97" x2="1797.1" y2="932.97" stroke="#000" stroke-width="1.1" />
<line x1="1205" y1="931" x2="1210.7" y2="931" stroke="#000" stroke-width="1.4" />
<line x1="1800" y1="931" x2="1795" y2="931" stroke="#000" stroke-width="1.4" />
<line x1="1205" y1="918.06" x2="1208.9" y2="918.06" stroke="#000" stroke-width="1.1" />
<line x1="1800" y1="918.06" x2="1797.1" y2="918.06" stroke="#000" stroke-width="1.1" />
<line x1="1205" y1="910.48" x2="1208.9" y2="910.48" stroke="#000" stroke-width="1.1" />
<line x1="1800" y1="910.48" x2="1797.1" y2="910.48" stroke="#000" stroke-width="1.1" />
<line x1="1205" y1="905.11" x2="1208.9" y2="905.11" stroke="#000" stroke-width="1.1" />
<line x1="1800" y1="905.11" x2="1797.1" y2="905.11" stroke="#000" stroke-width="1.1" />
<line x1="1205" y1="900.94" x2="1208.9" y2="900.94" stroke="#000" stroke-width="1.1" />
<line x1="1800" y1="900.94" x2="1797.1" y2="900.94" stroke="#000" stroke-width="1.1" />
<line x1="1205" y1="897.54" x2="1208.9" y2="897.54" stroke="#000" stroke-width="1.1" />
<line x1="1800" y1="897.54" x2="1797.1" y2="897.54" stroke="#000" stroke-width="1.1" />
<line x1="1205" y1="894.66" x2="1208.9" y2="894.66" stroke="#000" stroke-width="1.1" />
<line x1="1800" y1="894.66" x2="1797.1" y2="894.66" stroke="#000" stroke-width="1.1" />
<line x1="1205" y1="892.17" x2="1208.9" y2="892.17" stroke="#000" stroke-width="1.1" />
<line x1="1800" y1="892.17" x2="1797.1" y2="892.17" stroke="#000" stroke-width="1.1" />
<line x1="1205" y1="889.97" x2="1208.9" y2="889.97" stroke="#000" stroke-width="1.1" />
<line x1="1800" y1="889.97" x2="1797.1" y2="889.97" stroke="#000" stroke-width="1.1" />
<line x1="1205" y1="888" x2="1210.7" y2="888" stroke="#000" stroke-width="1.4" />
<line x1="1800" y1="888" x2="1795" y2="888" stroke="#000" stroke-width="1.4" />
<line x1="1205" y1="875.06" x2="1208.9" y2="875.06" stroke="#000" stroke-width="1.1" />
<line x1="1800" y1="875.06" x2="1797.1" y2="875.06" stroke="#000" stroke-width="1.1" />
<line x1="1205" y1="867.48" x2="1208.9" y2="867.48" stroke="#000" stroke-width="1.1" />
<line x1="1800" y1="867.48" x2="1797.1" y2="867.48" stroke="#000" stroke-width="1.1" />
<line x1="1205" y1="862.11" x2="1208.9" y2="862.11" stroke="#000" stroke-width="1.1" />
<line x1="1800" y1="862.11" x2="1797.1" y2="862.11" stroke="#000" stroke-width="1.1" />
<line x1="1205" y1="857.94" x2="1208.9" y2="857.94" stroke="#000" stroke-width="1.1" />
<line x1="1800" y1="857.94" x2="1797.1" y2="857.94" stroke="#000" stroke-width="1.1" />
<line x1="1205" y1="854.54" x2="1208.9" y2="854.54" stroke="#000" stroke-width="1.1" />
<line x1="1800" y1="854.54" x2="1797.1" y2="854.54" stroke="#000" stroke-width="1.1" />
<line x1="1205" y1="851.66" x2="1208.9" y2="851.66" stroke="#000" stroke-width="1.1" />
<line x1="1800" y1="851.66" x2="1797.1" y2="851.66" stroke="#000" stroke-width="1.1" />
<line x1="1205" y1="849.17" x2="1208.9" y2="849.17" stroke="#000" stroke-width="1.1" />
<line x1="1800" y1="849.17" x2="1797.1" y2="849.17" stroke="#000" stroke-width="1.1" />
<line x1="1205" y1="846.97" x2="1208.9" y2="846.97" stroke="#000" stroke-width="1.1" />
<line x1="1800" y1="846.97" x2="1797.1" y2="846.97" stroke="#000" stroke-width="1.1" />
<line x1="1205" y1="845" x2="1210.7" y2="845" stroke="#000" stroke-width="1.4" />
<line x1="1800" y1="845" x2="1795" y2="845" stroke="#000" stroke-width="1.4" />
<text x="1200" y="1024.9" font-size="20" text-anchor="end" fill="#000" >10<tspan font-size="14.0" dy="-6.2">−1</tspan></text>
<text x="1200" y="981.9" font-size="20" text-anchor="end" fill="#000" >10<tspan font-size="14.0" dy="-6.2">0</tspan></text>
<text x="1200" y="938.9" font-size="20" text-anchor="end" fill="#000" >10<tspan font-size="14.0" dy="-6.2">1</tspan></text>
<text x="1200" y="895.9" font-size="20" text-anchor="end" fill="#000" >10<tspan font-size="14.0" dy="-6.2">2</tspan></text>
<text x="1200" y="852.9" font-size="20" text-anchor="end" fill="#000" >10<tspan font-size="14.0" dy="-6.2">3</tspan></text>
<text x="1243.82" y="1037" font-size="20" text-anchor="middle" fill="#000" >15</text>
<text x="1318.19" y="1037" font-size="20" text-anchor="middle" fill="#000" >16</text>
<text x="1392.57" y="1037" font-size="20" text-anchor="middle" fill="#000" >17</text>
<text x="1466.94" y="1037" font-size="20" text-anchor="middle" fill="#000" >18</text>
<text x="1541.32" y="1037" font-size="20" text-anchor="middle" fill="#000" >19</text>
<text x="1616.69" y="1037" font-size="20" text-anchor="middle" fill="#000" >20</text>
<text x="1691.07" y="1037" font-size="20" text-anchor="middle" fill="#000" >21</text>
<text x="1765.44" y="1037" font-size="20" text-anchor="middle" fill="#000" >22</text>
<text x="1502.5" y="1066" font-size="24" text-anchor="middle" fill="#000" >September 2019 (UT)</text>
<text x="1106.1" y="931.5" font-size="24" text-anchor="middle" fill="#000" transform="rotate(-90 1106.1 931.5)" >&gt;10 MeV Proton Flux</text>
<text fill="#000" transform="rotate(-90 1138.5 930.85)"><tspan x="1050" y="930.85" font-size="24">(</tspan><tspan x="1067.24" y="930.85" font-size="24">cm</tspan><tspan x="1103.6" y="921.05" font-size="16.8">2</tspan><tspan x="1119.2" y="930.85" font-size="24">s</tspan><tspan x="1131.2" y="921.05" font-size="16.8">−1</tspan><tspan x="1161.2" y="930.85" font-size="24">sr</tspan><tspan x="1183.7" y="921.05" font-size="16.8">−1</tspan><tspan x="1217.6" y="930.85" font-size="24">)</tspan></text>
</svg></body></html>
